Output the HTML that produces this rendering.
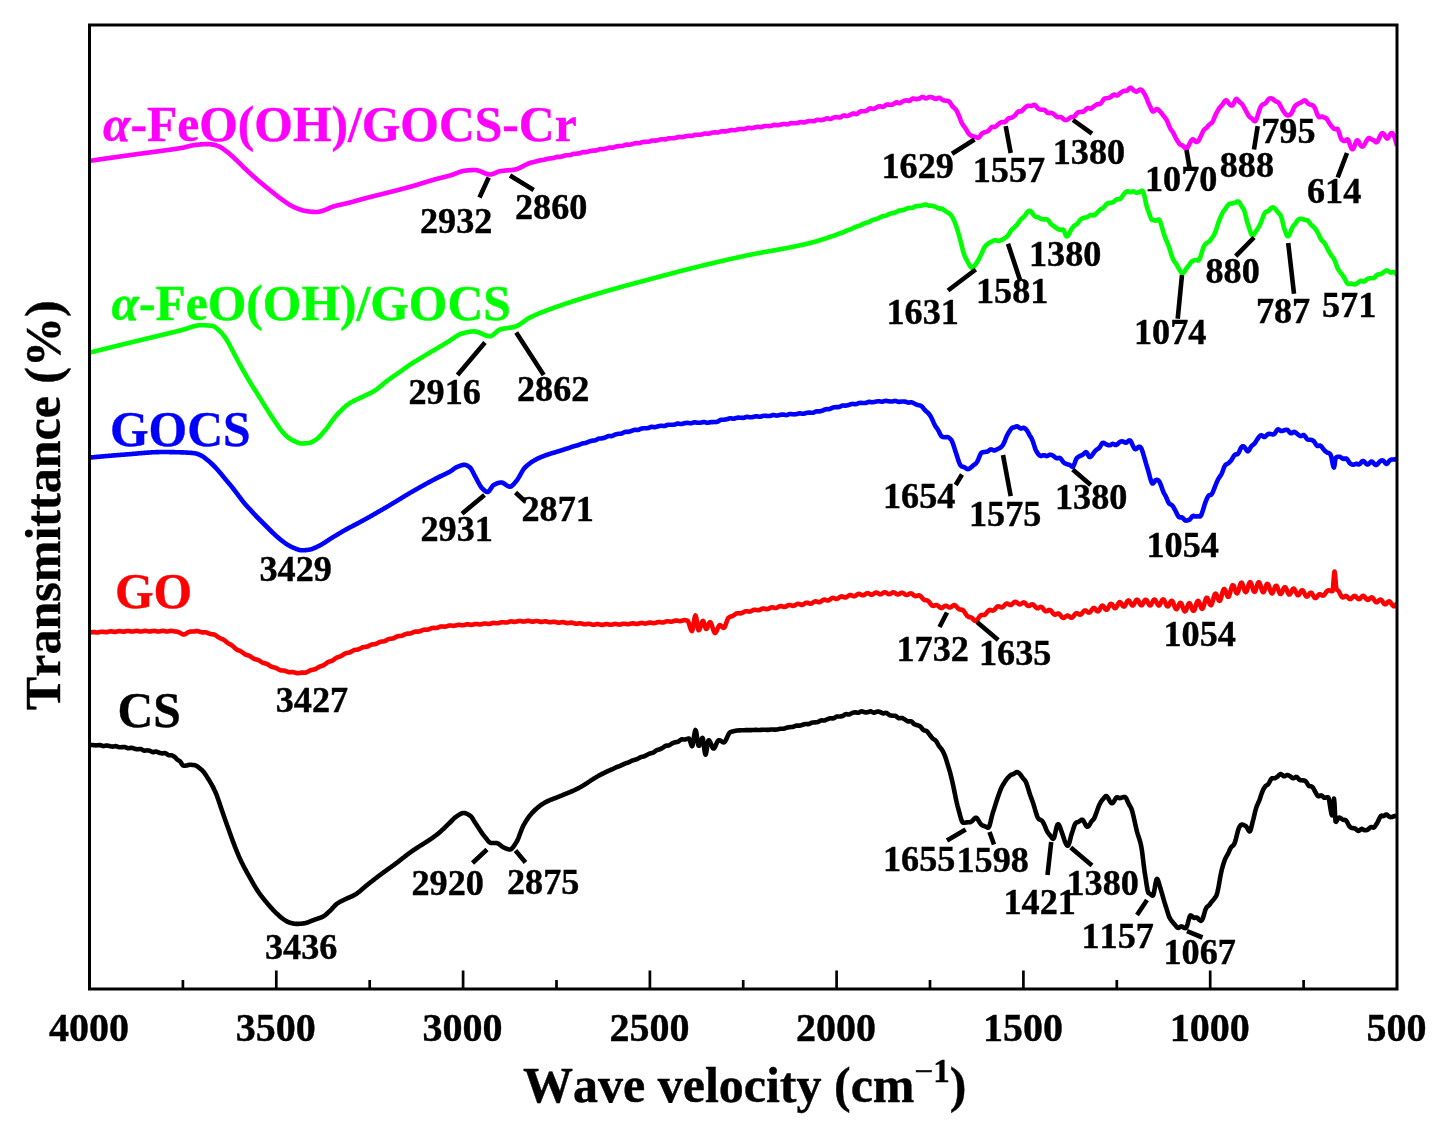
<!DOCTYPE html>
<html><head><meta charset="utf-8"><title>FTIR spectra</title>
<style>html,body{margin:0;padding:0;background:#fff}svg{display:block}text{font-family:"Liberation Serif","Times New Roman",serif;font-weight:bold;stroke-width:0.4px;font-kerning:none}</style></head><body>
<svg width="1449" height="1137" viewBox="0 0 1449 1137">
<rect width="1449" height="1137" fill="#fff"/>
<clipPath id="cp"><rect x="89.5" y="25.0" width="1307.5" height="964.0"/></clipPath><g clip-path="url(#cp)">
<path d="M89.5 160.9L90.0 160.8L90.5 160.8L91.0 160.7L91.5 160.6L92.0 160.5L92.5 160.5L93.0 160.4L93.5 160.3L94.0 160.2L94.5 160.2L95.0 160.1L95.5 160.0L96.0 159.9L96.5 159.9L97.0 159.8L97.5 159.7L98.0 159.7L98.5 159.6L99.0 159.5L99.5 159.4L100.0 159.4L100.5 159.3L101.0 159.2L101.5 159.2L102.0 159.1L102.5 159.0L103.0 158.9L103.5 158.9L104.0 158.8L104.5 158.7L105.0 158.6L105.5 158.6L106.0 158.5L106.5 158.4L107.0 158.4L107.5 158.3L108.0 158.2L108.5 158.1L109.0 158.1L109.5 158.0L110.0 157.9L110.5 157.9L111.0 157.8L111.5 157.7L112.0 157.6L112.5 157.6L113.0 157.5L113.5 157.4L114.0 157.4L114.5 157.3L115.0 157.2L115.5 157.1L116.0 157.1L116.5 157.0L117.0 156.9L117.5 156.9L118.0 156.8L118.5 156.7L119.0 156.7L119.5 156.6L120.0 156.5L120.5 156.4L121.0 156.4L121.5 156.3L122.0 156.2L122.5 156.2L123.0 156.1L123.5 156.0L124.0 155.9L124.5 155.9L125.0 155.8L125.5 155.7L126.0 155.7L126.5 155.6L127.0 155.5L127.5 155.5L128.0 155.4L128.5 155.3L129.0 155.2L129.5 155.2L130.0 155.1L130.5 155.0L131.0 155.0L131.5 154.9L132.0 154.8L132.5 154.8L133.0 154.7L133.5 154.6L134.0 154.6L134.5 154.5L135.0 154.4L135.5 154.3L136.0 154.3L136.5 154.2L137.0 154.1L137.5 154.1L138.0 154.0L138.5 153.9L139.0 153.9L139.5 153.8L140.0 153.7L140.5 153.7L141.0 153.6L141.5 153.5L142.0 153.5L142.5 153.4L143.0 153.3L143.5 153.3L144.0 153.2L144.5 153.1L145.0 153.1L145.5 153.0L146.0 152.9L146.5 152.9L147.0 152.8L147.5 152.7L148.0 152.7L148.5 152.6L149.0 152.5L149.5 152.5L150.0 152.4L150.5 152.3L151.0 152.3L151.5 152.2L152.0 152.1L152.5 152.1L153.0 152.0L153.5 151.9L154.0 151.9L154.5 151.8L155.0 151.7L155.5 151.7L156.0 151.6L156.5 151.5L157.0 151.5L157.5 151.4L158.0 151.4L158.5 151.3L159.0 151.2L159.5 151.2L160.0 151.1L160.5 151.0L161.0 151.0L161.5 150.9L162.0 150.8L162.5 150.7L163.0 150.7L163.5 150.6L164.0 150.5L164.5 150.5L165.0 150.4L165.5 150.3L166.0 150.3L166.5 150.2L167.0 150.1L167.5 150.1L168.0 150.0L168.5 149.9L169.0 149.8L169.5 149.8L170.0 149.7L170.5 149.6L171.0 149.6L171.5 149.5L172.0 149.4L172.5 149.3L173.0 149.3L173.5 149.2L174.0 149.1L174.5 149.1L175.0 149.0L175.5 148.9L176.0 148.8L176.5 148.8L177.0 148.7L177.5 148.6L178.0 148.5L178.5 148.5L179.0 148.4L179.5 148.3L180.0 148.2L180.5 148.1L181.0 148.0L181.5 148.0L182.0 147.9L182.5 147.8L183.0 147.7L183.5 147.6L184.0 147.5L184.5 147.4L185.0 147.2L185.5 147.1L186.0 147.0L186.5 146.8L187.0 146.7L187.5 146.6L188.0 146.4L188.5 146.3L189.0 146.2L189.5 146.1L190.0 145.9L190.5 145.8L191.0 145.7L191.5 145.6L192.0 145.5L192.5 145.4L193.0 145.3L193.5 145.2L194.0 145.1L194.5 145.0L195.0 145.0L195.5 144.9L196.0 144.9L196.5 144.8L197.0 144.8L197.5 144.7L198.0 144.7L198.5 144.6L199.0 144.6L199.5 144.5L200.0 144.5L200.5 144.4L201.0 144.4L201.5 144.3L202.0 144.3L202.5 144.3L203.0 144.2L203.5 144.2L204.0 144.2L204.5 144.2L205.0 144.1L205.5 144.1L206.0 144.1L206.5 144.1L207.0 144.1L207.5 144.1L208.0 144.1L208.5 144.1L209.0 144.2L209.5 144.2L210.0 144.2L210.5 144.3L211.0 144.4L211.5 144.4L212.0 144.5L212.5 144.6L213.0 144.6L213.5 144.7L214.0 144.8L214.5 144.9L215.0 145.0L215.5 145.2L216.0 145.3L216.5 145.5L217.0 145.7L217.5 145.9L218.0 146.1L218.5 146.3L219.0 146.5L219.5 146.7L220.0 146.9L220.5 147.2L221.0 147.5L221.5 147.8L222.0 148.1L222.5 148.4L223.0 148.8L223.5 149.1L224.0 149.5L224.5 149.9L225.0 150.2L225.5 150.6L226.0 151.0L226.5 151.4L227.0 151.7L227.5 152.1L228.0 152.5L228.5 153.0L229.0 153.4L229.5 153.8L230.0 154.2L230.5 154.7L231.0 155.1L231.5 155.6L232.0 156.0L232.5 156.5L233.0 156.9L233.5 157.4L234.0 157.8L234.5 158.3L235.0 158.8L235.5 159.3L236.0 159.8L236.5 160.2L237.0 160.7L237.5 161.2L238.0 161.7L238.5 162.2L239.0 162.7L239.5 163.2L240.0 163.7L240.5 164.2L241.0 164.7L241.5 165.2L242.0 165.7L242.5 166.2L243.0 166.7L243.5 167.2L244.0 167.6L244.5 168.1L245.0 168.6L245.5 169.0L246.0 169.5L246.5 170.0L247.0 170.4L247.5 170.9L248.0 171.4L248.5 171.8L249.0 172.3L249.5 172.8L250.0 173.2L250.5 173.7L251.0 174.1L251.5 174.6L252.0 175.1L252.5 175.5L253.0 176.0L253.5 176.4L254.0 176.9L254.5 177.3L255.0 177.7L255.5 178.2L256.0 178.6L256.5 179.1L257.0 179.5L257.5 179.9L258.0 180.4L258.5 180.8L259.0 181.2L259.5 181.6L260.0 182.1L260.5 182.5L261.0 182.9L261.5 183.3L262.0 183.7L262.5 184.1L263.0 184.5L263.5 184.9L264.0 185.3L264.5 185.8L265.0 186.2L265.5 186.6L266.0 187.0L266.5 187.4L267.0 187.8L267.5 188.2L268.0 188.6L268.5 189.0L269.0 189.4L269.5 189.8L270.0 190.2L270.5 190.6L271.0 191.0L271.5 191.4L272.0 191.8L272.5 192.2L273.0 192.6L273.5 193.0L274.0 193.4L274.5 193.8L275.0 194.2L275.5 194.6L276.0 195.0L276.5 195.4L277.0 195.8L277.5 196.2L278.0 196.6L278.5 197.0L279.0 197.4L279.5 197.7L280.0 198.1L280.5 198.5L281.0 198.8L281.5 199.2L282.0 199.5L282.5 199.9L283.0 200.2L283.5 200.6L284.0 201.0L284.5 201.3L285.0 201.7L285.5 202.0L286.0 202.4L286.5 202.7L287.0 203.0L287.5 203.4L288.0 203.7L288.5 204.0L289.0 204.4L289.5 204.7L290.0 205.0L290.5 205.3L291.0 205.6L291.5 205.9L292.0 206.1L292.5 206.4L293.0 206.7L293.5 206.9L294.0 207.1L294.5 207.3L295.0 207.5L295.5 207.8L296.0 208.0L296.5 208.2L297.0 208.4L297.5 208.6L298.0 208.8L298.5 209.0L299.0 209.2L299.5 209.3L300.0 209.5L300.5 209.7L301.0 209.9L301.5 210.0L302.0 210.2L302.5 210.3L303.0 210.5L303.5 210.6L304.0 210.7L304.5 210.8L305.0 210.9L305.5 211.0L306.0 211.1L306.5 211.2L307.0 211.3L307.5 211.3L308.0 211.4L308.5 211.4L309.0 211.5L309.5 211.5L310.0 211.6L310.5 211.7L311.0 211.7L311.5 211.7L312.0 211.8L312.5 211.8L313.0 211.9L313.5 211.9L314.0 211.9L314.5 212.0L315.0 212.0L315.5 212.0L316.0 212.0L316.5 212.0L317.0 212.0L317.5 212.0L318.0 211.9L318.5 211.8L319.0 211.8L319.5 211.7L320.0 211.5L320.5 211.4L321.0 211.3L321.5 211.1L322.0 211.0L322.5 210.8L323.0 210.7L323.5 210.5L324.0 210.3L324.5 210.2L325.0 210.0L325.5 209.8L326.0 209.6L326.5 209.4L327.0 209.2L327.5 209.0L328.0 208.7L328.5 208.5L329.0 208.2L329.5 208.0L330.0 207.7L330.5 207.5L331.0 207.3L331.5 207.1L332.0 206.9L332.5 206.8L333.0 206.6L333.5 206.5L334.0 206.3L334.5 206.2L335.0 206.0L335.5 205.9L336.0 205.8L336.5 205.6L337.0 205.5L337.5 205.4L338.0 205.3L338.5 205.1L339.0 205.0L339.5 204.9L340.0 204.8L340.5 204.7L341.0 204.6L341.5 204.5L342.0 204.4L342.5 204.2L343.0 204.1L343.5 204.0L344.0 203.9L344.5 203.8L345.0 203.7L345.5 203.6L346.0 203.5L346.5 203.4L347.0 203.2L347.5 203.1L348.0 203.0L348.5 202.9L349.0 202.8L349.5 202.6L350.0 202.5L350.5 202.4L351.0 202.2L351.5 202.1L352.0 202.0L352.5 201.8L353.0 201.7L353.5 201.6L354.0 201.4L354.5 201.3L355.0 201.1L355.5 201.0L356.0 200.8L356.5 200.7L357.0 200.6L357.5 200.4L358.0 200.3L358.5 200.1L359.0 200.0L359.5 199.9L360.0 199.7L360.5 199.6L361.0 199.4L361.5 199.3L362.0 199.2L362.5 199.0L363.0 198.9L363.5 198.8L364.0 198.6L364.5 198.5L365.0 198.4L365.5 198.2L366.0 198.1L366.5 198.0L367.0 197.8L367.5 197.7L368.0 197.6L368.5 197.5L369.0 197.3L369.5 197.2L370.0 197.1L370.5 196.9L371.0 196.8L371.5 196.7L372.0 196.6L372.5 196.4L373.0 196.3L373.5 196.2L374.0 196.1L374.5 195.9L375.0 195.8L375.5 195.7L376.0 195.6L376.5 195.4L377.0 195.3L377.5 195.2L378.0 195.1L378.5 194.9L379.0 194.8L379.5 194.7L380.0 194.6L380.5 194.4L381.0 194.3L381.5 194.2L382.0 194.1L382.5 193.9L383.0 193.8L383.5 193.7L384.0 193.6L384.5 193.4L385.0 193.3L385.5 193.2L386.0 193.1L386.5 192.9L387.0 192.8L387.5 192.7L388.0 192.6L388.5 192.4L389.0 192.3L389.5 192.2L390.0 192.1L390.5 191.9L391.0 191.8L391.5 191.7L392.0 191.6L392.5 191.4L393.0 191.3L393.5 191.2L394.0 191.1L394.5 190.9L395.0 190.8L395.5 190.7L396.0 190.5L396.5 190.4L397.0 190.3L397.5 190.2L398.0 190.0L398.5 189.9L399.0 189.8L399.5 189.6L400.0 189.5L400.5 189.4L401.0 189.2L401.5 189.1L402.0 189.0L402.5 188.8L403.0 188.7L403.5 188.6L404.0 188.4L404.5 188.3L405.0 188.2L405.5 188.1L406.0 187.9L406.5 187.8L407.0 187.6L407.5 187.5L408.0 187.4L408.5 187.2L409.0 187.1L409.5 187.0L410.0 186.8L410.5 186.7L411.0 186.6L411.5 186.4L412.0 186.3L412.5 186.1L413.0 186.0L413.5 185.9L414.0 185.7L414.5 185.6L415.0 185.4L415.5 185.3L416.0 185.1L416.5 185.0L417.0 184.8L417.5 184.7L418.0 184.5L418.5 184.4L419.0 184.2L419.5 184.1L420.0 183.9L420.5 183.7L421.0 183.6L421.5 183.4L422.0 183.3L422.5 183.1L423.0 183.0L423.5 182.8L424.0 182.7L424.5 182.5L425.0 182.3L425.5 182.2L426.0 182.0L426.5 181.9L427.0 181.7L427.5 181.6L428.0 181.4L428.5 181.3L429.0 181.1L429.5 181.0L430.0 180.8L430.5 180.7L431.0 180.5L431.5 180.4L432.0 180.2L432.5 180.1L433.0 179.9L433.5 179.8L434.0 179.6L434.5 179.5L435.0 179.4L435.5 179.2L436.0 179.1L436.5 179.0L437.0 178.8L437.5 178.7L438.0 178.6L438.5 178.4L439.0 178.3L439.5 178.2L440.0 178.1L440.5 177.9L441.0 177.8L441.5 177.7L442.0 177.6L442.5 177.5L443.0 177.3L443.5 177.2L444.0 177.1L444.5 177.0L445.0 176.8L445.5 176.7L446.0 176.6L446.5 176.4L447.0 176.3L447.5 176.2L448.0 176.1L448.5 175.9L449.0 175.8L449.5 175.6L450.0 175.5L450.5 175.4L451.0 175.2L451.5 175.0L452.0 174.9L452.5 174.7L453.0 174.5L453.5 174.3L454.0 174.1L454.5 173.9L455.0 173.7L455.5 173.5L456.0 173.4L456.5 173.2L457.0 173.0L457.5 172.8L458.0 172.6L458.5 172.4L459.0 172.2L459.5 172.0L460.0 171.9L460.5 171.7L461.0 171.6L461.5 171.4L462.0 171.3L462.5 171.1L463.0 171.0L463.5 170.9L464.0 170.8L464.5 170.8L465.0 170.7L465.5 170.6L466.0 170.6L466.5 170.5L467.0 170.5L467.5 170.4L468.0 170.4L468.5 170.3L469.0 170.3L469.5 170.3L470.0 170.2L470.5 170.2L471.0 170.1L471.5 170.1L472.0 170.1L472.5 170.1L473.0 170.0L473.5 170.0L474.0 170.0L474.5 170.0L475.0 170.0L475.5 170.0L476.0 170.1L476.5 170.1L477.0 170.2L477.5 170.3L478.0 170.5L478.5 170.6L479.0 170.8L479.5 171.0L480.0 171.2L480.5 171.4L481.0 171.6L481.5 171.8L482.0 172.0L482.5 172.2L483.0 172.5L483.5 172.7L484.0 172.9L484.5 173.1L485.0 173.3L485.5 173.5L486.0 173.7L486.5 173.9L487.0 174.0L487.5 174.2L488.0 174.3L488.5 174.4L489.0 174.4L489.5 174.5L490.0 174.5L490.5 174.5L491.0 174.4L491.5 174.3L492.0 174.2L492.5 174.1L493.0 173.9L493.5 173.7L494.0 173.5L494.5 173.3L495.0 173.1L495.5 172.8L496.0 172.6L496.5 172.4L497.0 172.2L497.5 172.0L498.0 171.8L498.5 171.6L499.0 171.4L499.5 171.3L500.0 171.2L500.5 171.1L501.0 171.0L501.5 171.0L502.0 170.9L502.5 170.8L503.0 170.8L503.5 170.7L504.0 170.7L504.5 170.6L505.0 170.6L505.5 170.5L506.0 170.5L506.5 170.4L507.0 170.4L507.5 170.4L508.0 170.3L508.5 170.3L509.0 170.2L509.5 170.2L510.0 170.1L510.5 170.1L511.0 170.0L511.5 170.0L512.0 169.9L512.5 169.9L513.0 169.8L513.5 169.7L514.0 169.7L514.5 169.6L515.0 169.5L515.5 169.4L516.0 169.3L516.5 169.1L517.0 169.0L517.5 168.8L518.0 168.6L518.5 168.4L519.0 168.2L519.5 168.0L520.0 167.7L520.5 167.5L521.0 167.2L521.5 167.0L522.0 166.7L522.5 166.5L523.0 166.2L523.5 165.9L524.0 165.7L524.5 165.4L525.0 165.2L525.5 164.9L526.0 164.7L526.5 164.4L527.0 164.2L527.5 164.0L528.0 163.7L528.5 163.5L529.0 163.3L529.5 163.1L530.0 162.9L530.5 162.8L531.0 162.6L531.5 162.5L532.0 162.4L532.5 162.3L533.0 162.2L533.5 162.1L534.0 162.0L534.5 161.8L535.0 161.7L535.5 161.6L536.0 161.4L536.5 161.3L537.0 161.2L537.5 161.0L538.0 160.9L538.5 160.7L539.0 160.6L539.5 160.5L540.0 160.3L540.5 160.2L541.0 160.2L541.5 160.1L542.0 160.1L542.5 160.0L543.0 160.0L543.5 159.9L544.0 159.8L544.5 159.7L545.0 159.5L545.5 159.3L546.0 159.2L546.5 159.0L547.0 158.9L547.5 158.8L548.0 158.7L548.5 158.6L549.0 158.6L549.5 158.5L550.0 158.5L550.5 158.4L551.0 158.4L551.5 158.3L552.0 158.3L552.5 158.2L553.0 158.1L553.5 158.0L554.0 157.9L554.5 157.7L555.0 157.5L555.5 157.3L556.0 157.2L556.5 157.0L557.0 156.9L557.5 156.9L558.0 156.9L558.5 156.9L559.0 156.9L559.5 157.0L560.0 156.9L560.5 156.8L561.0 156.7L561.5 156.6L562.0 156.4L562.5 156.3L563.0 156.1L563.5 155.9L564.0 155.8L564.5 155.7L565.0 155.5L565.5 155.4L566.0 155.3L566.5 155.2L567.0 155.2L567.5 155.2L568.0 155.2L568.5 155.2L569.0 155.2L569.5 155.2L570.0 155.1L570.5 155.0L571.0 154.8L571.5 154.6L572.0 154.3L572.5 154.1L573.0 154.0L573.5 153.9L574.0 153.8L574.5 153.7L575.0 153.7L575.5 153.7L576.0 153.7L576.5 153.7L577.0 153.6L577.5 153.6L578.0 153.5L578.5 153.4L579.0 153.4L579.5 153.3L580.0 153.1L580.5 153.0L581.0 152.8L581.5 152.6L582.0 152.4L582.5 152.2L583.0 152.1L583.5 152.1L584.0 152.1L584.5 152.1L585.0 152.1L585.5 152.2L586.0 152.2L586.5 152.1L587.0 152.0L587.5 151.9L588.0 151.7L588.5 151.6L589.0 151.4L589.5 151.2L590.0 151.1L590.5 151.0L591.0 150.9L591.5 150.8L592.0 150.7L592.5 150.6L593.0 150.6L593.5 150.5L594.0 150.5L594.5 150.6L595.0 150.6L595.5 150.6L596.0 150.5L596.5 150.4L597.0 150.2L597.5 150.1L598.0 149.8L598.5 149.6L599.0 149.4L599.5 149.3L600.0 149.2L600.5 149.1L601.0 149.1L601.5 149.2L602.0 149.2L602.5 149.2L603.0 149.1L603.5 149.1L604.0 149.0L604.5 148.9L605.0 148.8L605.5 148.7L606.0 148.6L606.5 148.5L607.0 148.3L607.5 148.1L608.0 147.9L608.5 147.8L609.0 147.6L609.5 147.6L610.0 147.5L610.5 147.5L611.0 147.6L611.5 147.6L612.0 147.7L612.5 147.7L613.0 147.6L613.5 147.5L614.0 147.3L614.5 147.1L615.0 146.9L615.5 146.7L616.0 146.6L616.5 146.4L617.0 146.3L617.5 146.3L618.0 146.2L618.5 146.1L619.0 146.1L619.5 146.1L620.0 146.0L620.5 146.0L621.0 146.0L621.5 146.0L622.0 146.0L622.5 145.9L623.0 145.8L623.5 145.6L624.0 145.4L624.5 145.2L625.0 145.0L625.5 144.8L626.0 144.7L626.5 144.6L627.0 144.6L627.5 144.6L628.0 144.7L628.5 144.7L629.0 144.7L629.5 144.7L630.0 144.6L630.5 144.5L631.0 144.4L631.5 144.3L632.0 144.1L632.5 144.0L633.0 143.9L633.5 143.7L634.0 143.6L634.5 143.4L635.0 143.3L635.5 143.2L636.0 143.1L636.5 143.1L637.0 143.1L637.5 143.2L638.0 143.2L638.5 143.3L639.0 143.2L639.5 143.2L640.0 143.0L640.5 142.8L641.0 142.6L641.5 142.4L642.0 142.2L642.5 142.1L643.0 142.0L643.5 141.9L644.0 141.9L644.5 141.9L645.0 141.9L645.5 141.8L646.0 141.8L646.5 141.8L647.0 141.8L647.5 141.8L648.0 141.8L648.5 141.7L649.0 141.6L649.5 141.5L650.0 141.3L650.5 141.1L651.0 140.9L651.5 140.7L652.0 140.6L652.5 140.5L653.0 140.5L653.5 140.5L654.0 140.5L654.5 140.6L655.0 140.6L655.5 140.7L656.0 140.6L656.5 140.5L657.0 140.4L657.5 140.3L658.0 140.1L658.5 140.0L659.0 139.9L659.5 139.7L660.0 139.6L660.5 139.5L661.0 139.4L661.5 139.3L662.0 139.2L662.5 139.2L663.0 139.2L663.5 139.3L664.0 139.3L664.5 139.4L665.0 139.4L665.5 139.4L666.0 139.3L666.5 139.1L667.0 138.9L667.5 138.7L668.0 138.5L668.5 138.3L669.0 138.2L669.5 138.2L670.0 138.2L670.5 138.2L671.0 138.2L671.5 138.2L672.0 138.2L672.5 138.2L673.0 138.2L673.5 138.1L674.0 138.1L674.5 138.1L675.0 138.0L675.5 137.9L676.0 137.7L676.5 137.6L677.0 137.4L677.5 137.2L678.0 137.0L678.5 136.9L679.0 136.9L679.5 136.9L680.0 137.0L680.5 137.0L681.0 137.1L681.5 137.2L682.0 137.2L682.5 137.1L683.0 137.0L683.5 136.8L684.0 136.7L684.5 136.5L685.0 136.4L685.5 136.3L686.0 136.2L686.5 136.1L687.0 136.0L687.5 135.9L688.0 135.8L688.5 135.8L689.0 135.8L689.5 135.8L690.0 135.9L690.5 135.9L691.0 136.0L691.5 136.0L692.0 135.9L692.5 135.8L693.0 135.6L693.5 135.4L694.0 135.2L694.5 135.0L695.0 134.8L695.5 134.7L696.0 134.7L696.5 134.7L697.0 134.8L697.5 134.8L698.0 134.8L698.5 134.8L699.0 134.8L699.5 134.8L700.0 134.7L700.5 134.7L701.0 134.6L701.5 134.5L702.0 134.4L702.5 134.2L703.0 134.0L703.5 133.9L704.0 133.7L704.5 133.6L705.0 133.5L705.5 133.5L706.0 133.5L706.5 133.6L707.0 133.7L707.5 133.7L708.0 133.8L708.5 133.7L709.0 133.6L709.5 133.5L710.0 133.3L710.5 133.1L711.0 133.0L711.5 132.8L712.0 132.7L712.5 132.6L713.0 132.5L713.5 132.5L714.0 132.4L714.5 132.4L715.0 132.4L715.5 132.4L716.0 132.4L716.5 132.5L717.0 132.5L717.5 132.5L718.0 132.5L718.5 132.4L719.0 132.2L719.5 132.0L720.0 131.8L720.5 131.6L721.0 131.4L721.5 131.3L722.0 131.2L722.5 131.2L723.0 131.3L723.5 131.3L724.0 131.4L724.5 131.4L725.0 131.4L725.5 131.4L726.0 131.3L726.5 131.2L727.0 131.1L727.5 131.0L728.0 130.9L728.5 130.8L729.0 130.6L729.5 130.5L730.0 130.3L730.5 130.2L731.0 130.1L731.5 130.0L732.0 130.0L732.5 130.1L733.0 130.2L733.5 130.2L734.0 130.3L734.5 130.3L735.0 130.3L735.5 130.1L736.0 130.0L736.5 129.8L737.0 129.6L737.5 129.4L738.0 129.3L738.5 129.2L739.0 129.1L739.5 129.1L740.0 129.0L740.5 129.0L741.0 129.0L741.5 129.0L742.0 129.0L742.5 129.1L743.0 129.1L743.5 129.1L744.0 129.1L744.5 129.0L745.0 128.9L745.5 128.7L746.0 128.5L746.5 128.3L747.0 128.1L747.5 127.9L748.0 127.8L748.5 127.8L749.0 127.9L749.5 127.9L750.0 128.0L750.5 128.1L751.0 128.1L751.5 128.1L752.0 128.1L752.5 128.0L753.0 127.9L753.5 127.7L754.0 127.6L754.5 127.5L755.0 127.4L755.5 127.2L756.0 127.1L756.5 127.0L757.0 126.9L757.5 126.8L758.0 126.8L758.5 126.8L759.0 126.9L759.5 127.0L760.0 127.1L760.5 127.1L761.0 127.1L761.5 127.1L762.0 126.9L762.5 126.7L763.0 126.5L763.5 126.3L764.0 126.2L764.5 126.0L765.0 126.0L765.5 126.0L766.0 126.0L766.5 126.0L767.0 126.0L767.5 126.0L768.0 126.0L768.5 126.1L769.0 126.1L769.5 126.1L770.0 126.0L770.5 126.0L771.0 125.9L771.5 125.8L772.0 125.6L772.5 125.4L773.0 125.2L773.5 125.1L774.0 124.9L774.5 124.9L775.0 124.9L775.5 125.0L776.0 125.1L776.5 125.2L777.0 125.3L777.5 125.3L778.0 125.3L778.5 125.2L779.0 125.1L779.5 124.9L780.0 124.8L780.5 124.6L781.0 124.5L781.5 124.4L782.0 124.3L782.5 124.2L783.0 124.1L783.5 124.1L784.0 124.0L784.5 124.0L785.0 124.1L785.5 124.2L786.0 124.3L786.5 124.3L787.0 124.4L787.5 124.3L788.0 124.2L788.5 124.0L789.0 123.8L789.5 123.6L790.0 123.4L790.5 123.2L791.0 123.2L791.5 123.1L792.0 123.1L792.5 123.2L793.0 123.2L793.5 123.3L794.0 123.3L794.5 123.3L795.0 123.3L795.5 123.3L796.0 123.2L796.5 123.2L797.0 123.1L797.5 123.0L798.0 122.8L798.5 122.7L799.0 122.5L799.5 122.3L800.0 122.1L800.5 122.0L801.0 122.0L801.5 122.0L802.0 122.1L802.5 122.3L803.0 122.4L803.5 122.4L804.0 122.4L804.5 122.4L805.0 122.2L805.5 122.1L806.0 121.9L806.5 121.7L807.0 121.5L807.5 121.4L808.0 121.3L808.5 121.2L809.0 121.1L809.5 121.0L810.0 121.0L810.5 121.0L811.0 121.0L811.5 121.1L812.0 121.2L812.5 121.2L813.0 121.3L813.5 121.3L814.0 121.2L814.5 121.0L815.0 120.8L815.5 120.5L816.0 120.2L816.5 120.0L817.0 119.8L817.5 119.7L818.0 119.7L818.5 119.8L819.0 119.9L819.5 120.0L820.0 120.1L820.5 120.1L821.0 120.1L821.5 120.1L822.0 120.0L822.5 119.9L823.0 119.8L823.5 119.6L824.0 119.5L824.5 119.3L825.0 119.0L825.5 118.8L826.0 118.6L826.5 118.4L827.0 118.4L827.5 118.4L828.0 118.5L828.5 118.6L829.0 118.8L829.5 119.0L830.0 119.0L830.5 119.0L831.0 118.9L831.5 118.6L832.0 118.4L832.5 118.1L833.0 117.8L833.5 117.6L834.0 117.4L834.5 117.3L835.0 117.3L835.5 117.2L836.0 117.2L836.5 117.2L837.0 117.2L837.5 117.3L838.0 117.3L838.5 117.4L839.0 117.5L839.5 117.5L840.0 117.4L840.5 117.3L841.0 117.0L841.5 116.7L842.0 116.3L842.5 115.9L843.0 115.6L843.5 115.5L844.0 115.4L844.5 115.5L845.0 115.6L845.5 115.8L846.0 115.9L846.5 116.0L847.0 116.0L847.5 115.9L848.0 115.8L848.5 115.6L849.0 115.4L849.5 115.2L850.0 115.0L850.5 114.8L851.0 114.5L851.5 114.2L852.0 114.0L852.5 113.7L853.0 113.5L853.5 113.5L854.0 113.5L854.5 113.6L855.0 113.8L855.5 114.0L856.0 114.1L856.5 114.1L857.0 113.9L857.5 113.6L858.0 113.2L858.5 112.8L859.0 112.3L859.5 111.9L860.0 111.6L860.5 111.4L861.0 111.3L861.5 111.3L862.0 111.2L862.5 111.2L863.0 111.2L863.5 111.2L864.0 111.2L864.5 111.2L865.0 111.2L865.5 111.1L866.0 111.0L866.5 110.9L867.0 110.6L867.5 110.2L868.0 109.7L868.5 109.3L869.0 108.8L869.5 108.5L870.0 108.4L870.5 108.3L871.0 108.4L871.5 108.6L872.0 108.8L872.5 108.9L873.0 109.0L873.5 108.9L874.0 108.8L874.5 108.6L875.0 108.3L875.5 108.0L876.0 107.7L876.5 107.4L877.0 107.2L877.5 106.9L878.0 106.7L878.5 106.5L879.0 106.3L879.5 106.2L880.0 106.2L880.5 106.3L881.0 106.5L881.5 106.7L882.0 106.9L882.5 106.9L883.0 106.9L883.5 106.7L884.0 106.4L884.5 106.0L885.0 105.6L885.5 105.1L886.0 104.8L886.5 104.6L887.0 104.5L887.5 104.5L888.0 104.6L888.5 104.6L889.0 104.7L889.5 104.8L890.0 104.8L890.5 104.8L891.0 104.8L891.5 104.8L892.0 104.7L892.5 104.6L893.0 104.4L893.5 104.1L894.0 103.8L894.5 103.4L895.0 103.0L895.5 102.7L896.0 102.4L896.5 102.4L897.0 102.4L897.5 102.6L898.0 102.8L898.5 103.1L899.0 103.2L899.5 103.3L900.0 103.2L900.5 102.9L901.0 102.6L901.5 102.3L902.0 101.9L902.5 101.6L903.0 101.3L903.5 101.1L904.0 100.9L904.5 100.7L905.0 100.6L905.5 100.5L906.0 100.4L906.5 100.4L907.0 100.5L907.5 100.6L908.0 100.8L908.5 100.9L909.0 100.9L909.5 100.8L910.0 100.6L910.5 100.2L911.0 99.8L911.5 99.3L912.0 98.9L912.5 98.6L913.0 98.5L913.5 98.5L914.0 98.6L914.5 98.7L915.0 98.9L915.5 99.0L916.0 99.1L916.5 99.1L917.0 99.1L917.5 99.0L918.0 98.9L918.5 98.8L919.0 98.7L919.5 98.5L920.0 98.2L920.5 97.9L921.0 97.6L921.5 97.3L922.0 97.0L922.5 96.9L923.0 97.0L923.5 97.2L924.0 97.5L924.5 97.8L925.0 98.1L925.5 98.3L926.0 98.4L926.5 98.3L927.0 98.1L927.5 97.9L928.0 97.6L928.5 97.4L929.0 97.2L929.5 97.1L930.0 97.0L930.5 97.1L931.0 97.1L931.5 97.2L932.0 97.4L932.5 97.5L933.0 97.7L933.5 98.0L934.0 98.3L934.5 98.6L935.0 98.8L935.5 98.9L936.0 98.9L936.5 98.8L937.0 98.6L937.5 98.3L938.0 98.0L938.5 97.8L939.0 97.8L939.5 97.8L940.0 98.1L940.5 98.4L941.0 98.8L941.5 99.2L942.0 99.6L942.5 99.9L943.0 100.1L943.5 100.3L944.0 100.4L944.5 100.5L945.0 100.6L945.5 100.7L946.0 100.7L946.5 100.8L947.0 100.8L947.5 100.9L948.0 101.0L948.5 101.2L949.0 101.5L949.5 101.9L950.0 102.5L950.5 103.3L951.0 104.1L951.5 104.9L952.0 105.7L952.5 106.4L953.0 106.9L953.5 107.4L954.0 107.8L954.5 108.2L955.0 108.6L955.5 109.2L956.0 109.8L956.5 110.6L957.0 111.5L957.5 112.6L958.0 113.7L958.5 114.8L959.0 116.0L959.5 117.2L960.0 118.5L960.5 119.8L961.0 121.0L961.5 122.2L962.0 123.3L962.5 124.3L963.0 125.1L963.5 125.8L964.0 126.4L964.5 127.0L965.0 127.6L965.5 128.3L966.0 129.2L966.5 130.0L967.0 130.9L967.5 131.8L968.0 132.6L968.5 133.3L969.0 133.9L969.5 134.5L970.0 134.9L970.5 135.2L971.0 135.5L971.5 135.8L972.0 136.0L972.5 136.2L973.0 136.4L973.5 136.5L974.0 136.6L974.5 136.6L975.0 136.8L975.5 136.9L976.0 137.1L976.5 137.3L977.0 137.5L977.5 137.7L978.0 137.7L978.5 137.6L979.0 137.3L979.5 136.7L980.0 136.1L980.5 135.4L981.0 134.7L981.5 134.0L982.0 133.5L982.5 133.1L983.0 132.8L983.5 132.6L984.0 132.5L984.5 132.4L985.0 132.2L985.5 132.1L986.0 131.9L986.5 131.8L987.0 131.6L987.5 131.3L988.0 131.0L988.5 130.7L989.0 130.2L989.5 129.6L990.0 129.0L990.5 128.4L991.0 127.8L991.5 127.3L992.0 127.0L992.5 126.9L993.0 126.8L993.5 126.9L994.0 127.0L994.5 127.0L995.0 126.9L995.5 126.6L996.0 126.3L996.5 125.9L997.0 125.4L997.5 124.9L998.0 124.4L998.5 124.0L999.0 123.6L999.5 123.2L1000.0 122.9L1000.5 122.6L1001.0 122.4L1001.5 122.2L1002.0 122.1L1002.5 122.1L1003.0 122.1L1003.5 122.2L1004.0 122.2L1004.5 122.2L1005.0 122.0L1005.5 121.6L1006.0 121.1L1006.5 120.5L1007.0 119.9L1007.5 119.3L1008.0 118.8L1008.5 118.4L1009.0 118.2L1009.5 118.1L1010.0 118.0L1010.5 117.9L1011.0 117.8L1011.5 117.7L1012.0 117.5L1012.5 117.2L1013.0 116.9L1013.5 116.6L1014.0 116.2L1014.5 115.8L1015.0 115.3L1015.5 114.7L1016.0 114.1L1016.5 113.4L1017.0 112.8L1017.5 112.2L1018.0 111.8L1018.5 111.5L1019.0 111.3L1019.5 111.3L1020.0 111.3L1020.5 111.4L1021.0 111.3L1021.5 111.2L1022.0 110.9L1022.5 110.4L1023.0 109.9L1023.5 109.3L1024.0 108.7L1024.5 108.1L1025.0 107.6L1025.5 107.2L1026.0 106.8L1026.5 106.5L1027.0 106.2L1027.5 106.0L1028.0 105.8L1028.5 105.7L1029.0 105.7L1029.5 105.8L1030.0 105.9L1030.5 106.0L1031.0 106.0L1031.5 105.9L1032.0 105.7L1032.5 105.4L1033.0 105.1L1033.5 104.9L1034.0 104.8L1034.5 104.8L1035.0 105.1L1035.5 105.5L1036.0 106.0L1036.5 106.6L1037.0 107.3L1037.5 107.9L1038.0 108.4L1038.5 108.8L1039.0 109.1L1039.5 109.3L1040.0 109.4L1040.5 109.6L1041.0 109.7L1041.5 109.7L1042.0 109.8L1042.5 109.7L1043.0 109.7L1043.5 109.7L1044.0 109.8L1044.5 109.9L1045.0 110.3L1045.5 110.7L1046.0 111.3L1046.5 111.9L1047.0 112.4L1047.5 112.8L1048.0 113.1L1048.5 113.2L1049.0 113.2L1049.5 113.1L1050.0 112.9L1050.5 112.8L1051.0 112.8L1051.5 112.9L1052.0 113.1L1052.5 113.3L1053.0 113.6L1053.5 113.9L1054.0 114.3L1054.5 114.7L1055.0 115.1L1055.5 115.5L1056.0 116.0L1056.5 116.5L1057.0 116.9L1057.5 117.1L1058.0 117.3L1058.5 117.3L1059.0 117.3L1059.5 117.1L1060.0 117.0L1060.5 117.0L1061.0 117.1L1061.5 117.3L1062.0 117.7L1062.5 118.2L1063.0 118.7L1063.5 119.2L1064.0 119.6L1064.5 119.9L1065.0 120.0L1065.5 120.1L1066.0 120.0L1066.5 119.9L1067.0 119.8L1067.5 119.6L1068.0 119.3L1068.5 119.0L1069.0 118.6L1069.5 118.2L1070.0 117.8L1070.5 117.5L1071.0 117.2L1071.5 117.1L1072.0 117.0L1072.5 117.0L1073.0 117.0L1073.5 116.9L1074.0 116.7L1074.5 116.3L1075.0 115.8L1075.5 115.1L1076.0 114.4L1076.5 113.8L1077.0 113.2L1077.5 112.8L1078.0 112.4L1078.5 112.3L1079.0 112.1L1079.5 112.1L1080.0 112.0L1080.5 112.0L1081.0 111.9L1081.5 111.9L1082.0 111.8L1082.5 111.8L1083.0 111.7L1083.5 111.5L1084.0 111.3L1084.5 110.9L1085.0 110.4L1085.5 109.9L1086.0 109.3L1086.5 108.8L1087.0 108.4L1087.5 108.1L1088.0 108.0L1088.5 108.1L1089.0 108.2L1089.5 108.4L1090.0 108.6L1090.5 108.6L1091.0 108.5L1091.5 108.3L1092.0 107.9L1092.5 107.5L1093.0 107.1L1093.5 106.7L1094.0 106.3L1094.5 105.9L1095.0 105.6L1095.5 105.2L1096.0 104.9L1096.5 104.6L1097.0 104.3L1097.5 104.2L1098.0 104.1L1098.5 104.1L1099.0 104.1L1099.5 104.0L1100.0 103.9L1100.5 103.6L1101.0 103.1L1101.5 102.5L1102.0 101.8L1102.5 101.0L1103.0 100.2L1103.5 99.5L1104.0 99.0L1104.5 98.6L1105.0 98.4L1105.5 98.3L1106.0 98.2L1106.5 98.2L1107.0 98.2L1107.5 98.1L1108.0 98.0L1108.5 97.9L1109.0 97.8L1109.5 97.6L1110.0 97.4L1110.5 97.1L1111.0 96.8L1111.5 96.3L1112.0 95.9L1112.5 95.4L1113.0 95.0L1113.5 94.7L1114.0 94.6L1114.5 94.6L1115.0 94.8L1115.5 95.0L1116.0 95.3L1116.5 95.4L1117.0 95.5L1117.5 95.3L1118.0 95.1L1118.5 94.7L1119.0 94.2L1119.5 93.8L1120.0 93.3L1120.5 92.9L1121.0 92.5L1121.5 92.2L1122.0 91.9L1122.5 91.6L1123.0 91.3L1123.5 91.1L1124.0 91.0L1124.5 90.9L1125.0 90.9L1125.5 90.9L1126.0 90.9L1126.5 90.8L1127.0 90.6L1127.5 90.2L1128.0 89.8L1128.5 89.2L1129.0 88.6L1129.5 88.2L1130.0 87.9L1130.5 87.7L1131.0 87.8L1131.5 88.1L1132.0 88.6L1132.5 89.1L1133.0 89.6L1133.5 90.1L1134.0 90.6L1134.5 90.9L1135.0 91.2L1135.5 91.4L1136.0 91.6L1136.5 91.6L1137.0 91.5L1137.5 91.3L1138.0 90.9L1138.5 90.5L1139.0 90.1L1139.5 89.8L1140.0 89.6L1140.5 89.6L1141.0 89.7L1141.5 90.0L1142.0 90.4L1142.5 90.9L1143.0 91.6L1143.5 92.4L1144.0 93.2L1144.5 94.0L1145.0 94.9L1145.5 95.8L1146.0 96.8L1146.5 98.0L1147.0 99.2L1147.5 100.5L1148.0 101.8L1148.5 103.0L1149.0 104.2L1149.5 105.2L1150.0 106.2L1150.5 107.3L1151.0 108.5L1151.5 109.6L1152.0 110.6L1152.5 111.2L1153.0 111.5L1153.5 111.4L1154.0 111.2L1154.5 110.8L1155.0 110.3L1155.5 109.8L1156.0 109.4L1156.5 109.1L1157.0 109.1L1157.5 109.2L1158.0 109.5L1158.5 109.9L1159.0 110.4L1159.5 111.0L1160.0 111.5L1160.5 112.1L1161.0 112.7L1161.5 113.2L1162.0 113.8L1162.5 114.4L1163.0 115.1L1163.5 115.7L1164.0 116.4L1164.5 117.0L1165.0 117.6L1165.5 118.3L1166.0 119.1L1166.5 119.9L1167.0 120.8L1167.5 121.9L1168.0 123.1L1168.5 124.4L1169.0 125.7L1169.5 126.9L1170.0 128.0L1170.5 128.9L1171.0 129.7L1171.5 130.3L1172.0 131.0L1172.5 131.7L1173.0 132.5L1173.5 133.4L1174.0 134.4L1174.5 135.4L1175.0 136.5L1175.5 137.5L1176.0 138.4L1176.5 139.3L1177.0 140.2L1177.5 141.0L1178.0 141.8L1178.5 142.6L1179.0 143.3L1179.5 144.0L1180.0 144.4L1180.5 144.8L1181.0 145.0L1181.5 145.2L1182.0 145.3L1182.5 145.5L1183.0 145.8L1183.5 146.3L1184.0 146.8L1184.5 147.4L1185.0 147.9L1185.5 148.4L1186.0 148.6L1186.5 148.5L1187.0 148.1L1187.5 147.5L1188.0 146.7L1188.5 145.7L1189.0 144.7L1189.5 143.7L1190.0 142.8L1190.5 141.8L1191.0 141.0L1191.5 140.2L1192.0 139.7L1192.5 139.3L1193.0 139.3L1193.5 139.6L1194.0 140.0L1194.5 140.5L1195.0 141.0L1195.5 141.5L1196.0 141.8L1196.5 142.0L1197.0 141.9L1197.5 141.6L1198.0 141.3L1198.5 140.7L1199.0 139.9L1199.5 138.9L1200.0 137.9L1200.5 136.8L1201.0 135.8L1201.5 134.7L1202.0 133.6L1202.5 132.5L1203.0 131.4L1203.5 130.5L1204.0 129.8L1204.5 129.3L1205.0 129.0L1205.5 128.6L1206.0 128.2L1206.5 127.8L1207.0 127.3L1207.5 126.7L1208.0 126.0L1208.5 125.4L1209.0 124.9L1209.5 124.5L1210.0 124.1L1210.5 123.8L1211.0 123.5L1211.5 123.1L1212.0 122.6L1212.5 121.9L1213.0 121.0L1213.5 119.9L1214.0 118.7L1214.5 117.5L1215.0 116.2L1215.5 115.0L1216.0 113.9L1216.5 112.9L1217.0 112.0L1217.5 111.1L1218.0 110.3L1218.5 109.4L1219.0 108.6L1219.5 107.9L1220.0 107.3L1220.5 106.7L1221.0 106.2L1221.5 105.7L1222.0 105.2L1222.5 104.6L1223.0 103.8L1223.5 103.0L1224.0 102.2L1224.5 101.4L1225.0 100.8L1225.5 100.4L1226.0 100.3L1226.5 100.4L1227.0 100.9L1227.5 101.5L1228.0 102.2L1228.5 102.9L1229.0 103.5L1229.5 104.1L1230.0 104.7L1230.5 105.1L1231.0 105.4L1231.5 105.5L1232.0 105.6L1232.5 105.3L1233.0 104.6L1233.5 103.8L1234.0 102.7L1234.5 101.6L1235.0 100.5L1235.5 99.7L1236.0 99.1L1236.5 98.9L1237.0 99.1L1237.5 99.6L1238.0 100.2L1238.5 100.9L1239.0 101.4L1239.5 101.9L1240.0 102.4L1240.5 102.8L1241.0 103.1L1241.5 103.6L1242.0 104.1L1242.5 104.8L1243.0 105.6L1243.5 106.4L1244.0 107.3L1244.5 108.2L1245.0 109.1L1245.5 110.0L1246.0 110.9L1246.5 111.9L1247.0 112.8L1247.5 113.7L1248.0 114.7L1248.5 115.5L1249.0 116.3L1249.5 116.9L1250.0 117.3L1250.5 117.7L1251.0 117.9L1251.5 118.3L1252.0 118.6L1252.5 119.1L1253.0 119.7L1253.5 120.3L1254.0 120.8L1254.5 121.2L1255.0 121.3L1255.5 120.9L1256.0 120.2L1256.5 119.1L1257.0 117.7L1257.5 116.2L1258.0 114.5L1258.5 112.9L1259.0 111.3L1259.5 109.8L1260.0 108.4L1260.5 107.2L1261.0 106.4L1261.5 105.6L1262.0 105.0L1262.5 104.6L1263.0 104.3L1263.5 104.1L1264.0 104.0L1264.5 103.9L1265.0 103.6L1265.5 103.2L1266.0 102.7L1266.5 102.0L1267.0 101.2L1267.5 100.5L1268.0 99.8L1268.5 99.2L1269.0 98.8L1269.5 98.5L1270.0 98.4L1270.5 98.3L1271.0 98.3L1271.5 98.4L1272.0 98.6L1272.5 98.8L1273.0 99.1L1273.5 99.5L1274.0 100.0L1274.5 100.5L1275.0 100.9L1275.5 101.2L1276.0 101.5L1276.5 101.6L1277.0 101.8L1277.5 101.9L1278.0 102.2L1278.5 102.6L1279.0 103.3L1279.5 104.0L1280.0 104.9L1280.5 105.9L1281.0 106.8L1281.5 107.8L1282.0 108.7L1282.5 109.6L1283.0 110.4L1283.5 111.2L1284.0 112.0L1284.5 112.7L1285.0 113.4L1285.5 114.0L1286.0 114.5L1286.5 114.9L1287.0 115.2L1287.5 115.3L1288.0 115.4L1288.5 115.3L1289.0 115.2L1289.5 115.0L1290.0 114.8L1290.5 114.4L1291.0 113.9L1291.5 113.2L1292.0 112.3L1292.5 111.3L1293.0 110.1L1293.5 108.9L1294.0 107.8L1294.5 107.0L1295.0 106.2L1295.5 105.7L1296.0 105.2L1296.5 104.8L1297.0 104.5L1297.5 104.2L1298.0 103.9L1298.5 103.7L1299.0 103.4L1299.5 103.1L1300.0 102.9L1300.5 102.7L1301.0 102.5L1301.5 102.2L1302.0 101.9L1302.5 101.5L1303.0 101.2L1303.5 100.8L1304.0 100.5L1304.5 100.4L1305.0 100.4L1305.5 100.7L1306.0 101.1L1306.5 101.7L1307.0 102.4L1307.5 103.0L1308.0 103.5L1308.5 103.9L1309.0 104.2L1309.5 104.4L1310.0 104.5L1310.5 104.6L1311.0 104.7L1311.5 104.9L1312.0 105.1L1312.5 105.4L1313.0 105.6L1313.5 106.0L1314.0 106.6L1314.5 107.4L1315.0 108.4L1315.5 109.5L1316.0 110.8L1316.5 112.2L1317.0 113.6L1317.5 114.8L1318.0 115.8L1318.5 116.6L1319.0 117.1L1319.5 117.3L1320.0 117.2L1320.5 117.0L1321.0 116.7L1321.5 116.6L1322.0 116.6L1322.5 116.7L1323.0 116.9L1323.5 117.2L1324.0 117.5L1324.5 117.7L1325.0 117.9L1325.5 118.0L1326.0 118.1L1326.5 118.5L1327.0 119.2L1327.5 120.0L1328.0 120.8L1328.5 121.7L1329.0 122.6L1329.5 123.4L1330.0 124.1L1330.5 124.9L1331.0 125.5L1331.5 126.2L1332.0 126.7L1332.5 127.2L1333.0 127.8L1333.5 128.3L1334.0 128.7L1334.5 129.0L1335.0 129.1L1335.5 129.1L1336.0 129.0L1336.5 128.9L1337.0 128.8L1337.5 129.0L1338.0 129.8L1338.5 130.9L1339.0 132.4L1339.5 134.0L1340.0 135.6L1340.5 137.1L1341.0 138.4L1341.5 139.4L1342.0 139.9L1342.5 140.2L1343.0 140.5L1343.5 140.8L1344.0 141.0L1344.5 141.0L1345.0 140.8L1345.5 140.6L1346.0 140.2L1346.5 139.7L1347.0 139.3L1347.5 139.3L1348.0 139.7L1348.5 140.6L1349.0 141.9L1349.5 143.3L1350.0 144.9L1350.5 146.3L1351.0 147.5L1351.5 148.5L1352.0 149.1L1352.5 149.3L1353.0 149.1L1353.5 148.3L1354.0 147.2L1354.5 145.9L1355.0 144.4L1355.5 143.0L1356.0 141.7L1356.5 140.8L1357.0 140.3L1357.5 140.3L1358.0 140.7L1358.5 141.4L1359.0 142.3L1359.5 143.3L1360.0 144.3L1360.5 145.2L1361.0 145.9L1361.5 146.4L1362.0 146.6L1362.5 146.6L1363.0 146.3L1363.5 145.9L1364.0 145.2L1364.5 144.4L1365.0 143.6L1365.5 142.7L1366.0 141.7L1366.5 140.8L1367.0 140.0L1367.5 139.2L1368.0 138.6L1368.5 138.2L1369.0 138.0L1369.5 138.1L1370.0 138.4L1370.5 138.8L1371.0 139.1L1371.5 139.4L1372.0 139.6L1372.5 139.8L1373.0 140.0L1373.5 140.2L1374.0 140.5L1374.5 141.0L1375.0 141.4L1375.5 141.9L1376.0 142.2L1376.5 142.3L1377.0 142.0L1377.5 141.4L1378.0 140.6L1378.5 139.6L1379.0 138.4L1379.5 137.3L1380.0 136.2L1380.5 135.2L1381.0 134.3L1381.5 133.7L1382.0 133.3L1382.5 133.2L1383.0 133.3L1383.5 133.7L1384.0 134.2L1384.5 134.9L1385.0 135.8L1385.5 136.7L1386.0 137.5L1386.5 138.2L1387.0 138.5L1387.5 138.5L1388.0 138.1L1388.5 137.4L1389.0 136.5L1389.5 135.5L1390.0 134.6L1390.5 133.8L1391.0 133.3L1391.5 133.0L1392.0 133.0L1392.5 133.3L1393.0 133.9L1393.5 134.8L1394.0 135.9L1394.5 137.2L1395.0 138.7L1395.5 140.3L1396.0 142.1L1396.5 143.9L1397.0 145.8" fill="none" stroke="#ff00ff" stroke-width="4.6" stroke-linejoin="round" stroke-linecap="butt"/>
<path d="M89.5 352.7L90.0 352.6L90.5 352.4L91.0 352.3L91.5 352.2L92.0 352.1L92.5 351.9L93.0 351.8L93.5 351.7L94.0 351.6L94.5 351.4L95.0 351.3L95.5 351.2L96.0 351.1L96.5 350.9L97.0 350.8L97.5 350.7L98.0 350.6L98.5 350.4L99.0 350.3L99.5 350.2L100.0 350.1L100.5 349.9L101.0 349.8L101.5 349.7L102.0 349.6L102.5 349.4L103.0 349.3L103.5 349.2L104.0 349.1L104.5 348.9L105.0 348.8L105.5 348.7L106.0 348.6L106.5 348.5L107.0 348.3L107.5 348.2L108.0 348.1L108.5 348.0L109.0 347.8L109.5 347.7L110.0 347.6L110.5 347.5L111.0 347.3L111.5 347.2L112.0 347.1L112.5 347.0L113.0 346.8L113.5 346.7L114.0 346.6L114.5 346.5L115.0 346.3L115.5 346.2L116.0 346.1L116.5 346.0L117.0 345.8L117.5 345.7L118.0 345.6L118.5 345.5L119.0 345.4L119.5 345.2L120.0 345.1L120.5 345.0L121.0 344.9L121.5 344.7L122.0 344.6L122.5 344.5L123.0 344.4L123.5 344.2L124.0 344.1L124.5 344.0L125.0 343.9L125.5 343.8L126.0 343.6L126.5 343.5L127.0 343.4L127.5 343.3L128.0 343.1L128.5 343.0L129.0 342.9L129.5 342.8L130.0 342.7L130.5 342.5L131.0 342.4L131.5 342.3L132.0 342.2L132.5 342.0L133.0 341.9L133.5 341.8L134.0 341.7L134.5 341.6L135.0 341.4L135.5 341.3L136.0 341.2L136.5 341.1L137.0 340.9L137.5 340.8L138.0 340.7L138.5 340.6L139.0 340.5L139.5 340.3L140.0 340.2L140.5 340.1L141.0 340.0L141.5 339.9L142.0 339.7L142.5 339.6L143.0 339.5L143.5 339.4L144.0 339.2L144.5 339.1L145.0 339.0L145.5 338.9L146.0 338.8L146.5 338.6L147.0 338.5L147.5 338.4L148.0 338.3L148.5 338.2L149.0 338.1L149.5 337.9L150.0 337.8L150.5 337.7L151.0 337.6L151.5 337.5L152.0 337.3L152.5 337.2L153.0 337.1L153.5 337.0L154.0 336.9L154.5 336.7L155.0 336.6L155.5 336.5L156.0 336.4L156.5 336.3L157.0 336.1L157.5 336.0L158.0 335.9L158.5 335.8L159.0 335.7L159.5 335.5L160.0 335.4L160.5 335.3L161.0 335.2L161.5 335.1L162.0 334.9L162.5 334.8L163.0 334.7L163.5 334.6L164.0 334.5L164.5 334.3L165.0 334.2L165.5 334.1L166.0 334.0L166.5 333.9L167.0 333.7L167.5 333.6L168.0 333.5L168.5 333.4L169.0 333.2L169.5 333.1L170.0 333.0L170.5 332.9L171.0 332.8L171.5 332.6L172.0 332.5L172.5 332.4L173.0 332.3L173.5 332.2L174.0 332.0L174.5 331.9L175.0 331.8L175.5 331.7L176.0 331.5L176.5 331.4L177.0 331.3L177.5 331.2L178.0 331.1L178.5 330.9L179.0 330.8L179.5 330.7L180.0 330.5L180.5 330.4L181.0 330.3L181.5 330.1L182.0 330.0L182.5 329.9L183.0 329.7L183.5 329.6L184.0 329.4L184.5 329.3L185.0 329.1L185.5 329.0L186.0 328.8L186.5 328.6L187.0 328.5L187.5 328.3L188.0 328.1L188.5 327.9L189.0 327.8L189.5 327.6L190.0 327.4L190.5 327.3L191.0 327.1L191.5 327.0L192.0 326.8L192.5 326.7L193.0 326.5L193.5 326.4L194.0 326.3L194.5 326.2L195.0 326.1L195.5 325.9L196.0 325.8L196.5 325.7L197.0 325.6L197.5 325.5L198.0 325.4L198.5 325.3L199.0 325.2L199.5 325.2L200.0 325.2L200.5 325.2L201.0 325.2L201.5 325.2L202.0 325.2L202.5 325.2L203.0 325.2L203.5 325.3L204.0 325.3L204.5 325.3L205.0 325.3L205.5 325.3L206.0 325.4L206.5 325.4L207.0 325.4L207.5 325.5L208.0 325.5L208.5 325.5L209.0 325.6L209.5 325.6L210.0 325.7L210.5 325.7L211.0 325.8L211.5 325.8L212.0 325.9L212.5 325.9L213.0 326.1L213.5 326.2L214.0 326.5L214.5 326.8L215.0 327.1L215.5 327.4L216.0 327.8L216.5 328.2L217.0 328.7L217.5 329.1L218.0 329.5L218.5 330.0L219.0 330.5L219.5 330.9L220.0 331.4L220.5 331.9L221.0 332.4L221.5 332.9L222.0 333.5L222.5 334.1L223.0 334.7L223.5 335.3L224.0 336.0L224.5 336.6L225.0 337.3L225.5 338.0L226.0 338.7L226.5 339.5L227.0 340.3L227.5 341.2L228.0 342.0L228.5 343.0L229.0 343.9L229.5 344.8L230.0 345.8L230.5 346.8L231.0 347.7L231.5 348.7L232.0 349.6L232.5 350.5L233.0 351.5L233.5 352.4L234.0 353.4L234.5 354.4L235.0 355.3L235.5 356.3L236.0 357.2L236.5 358.2L237.0 359.2L237.5 360.1L238.0 361.0L238.5 362.0L239.0 362.9L239.5 363.8L240.0 364.7L240.5 365.6L241.0 366.5L241.5 367.4L242.0 368.3L242.5 369.2L243.0 370.1L243.5 370.9L244.0 371.8L244.5 372.7L245.0 373.6L245.5 374.4L246.0 375.3L246.5 376.2L247.0 377.1L247.5 377.9L248.0 378.8L248.5 379.6L249.0 380.5L249.5 381.3L250.0 382.1L250.5 383.0L251.0 383.8L251.5 384.6L252.0 385.4L252.5 386.2L253.0 387.0L253.5 387.7L254.0 388.5L254.5 389.3L255.0 390.1L255.5 390.8L256.0 391.6L256.5 392.4L257.0 393.2L257.5 394.0L258.0 394.8L258.5 395.6L259.0 396.4L259.5 397.2L260.0 398.0L260.5 398.8L261.0 399.6L261.5 400.5L262.0 401.3L262.5 402.1L263.0 402.9L263.5 403.7L264.0 404.5L264.5 405.3L265.0 406.1L265.5 406.9L266.0 407.7L266.5 408.5L267.0 409.3L267.5 410.1L268.0 410.9L268.5 411.7L269.0 412.5L269.5 413.3L270.0 414.0L270.5 414.8L271.0 415.6L271.5 416.3L272.0 417.1L272.5 417.8L273.0 418.6L273.5 419.3L274.0 420.1L274.5 420.8L275.0 421.5L275.5 422.3L276.0 423.0L276.5 423.7L277.0 424.5L277.5 425.2L278.0 425.9L278.5 426.7L279.0 427.4L279.5 428.1L280.0 428.8L280.5 429.5L281.0 430.1L281.5 430.7L282.0 431.3L282.5 431.9L283.0 432.5L283.5 433.0L284.0 433.6L284.5 434.1L285.0 434.6L285.5 435.1L286.0 435.6L286.5 436.1L287.0 436.5L287.5 436.9L288.0 437.3L288.5 437.7L289.0 438.0L289.5 438.4L290.0 438.7L290.5 439.1L291.0 439.4L291.5 439.7L292.0 440.0L292.5 440.3L293.0 440.5L293.5 440.8L294.0 441.0L294.5 441.2L295.0 441.4L295.5 441.7L296.0 441.9L296.5 442.1L297.0 442.3L297.5 442.5L298.0 442.7L298.5 442.9L299.0 443.1L299.5 443.2L300.0 443.3L300.5 443.4L301.0 443.5L301.5 443.5L302.0 443.5L302.5 443.5L303.0 443.5L303.5 443.5L304.0 443.4L304.5 443.4L305.0 443.4L305.5 443.3L306.0 443.3L306.5 443.2L307.0 443.2L307.5 443.1L308.0 443.0L308.5 443.0L309.0 442.9L309.5 442.8L310.0 442.7L310.5 442.6L311.0 442.4L311.5 442.2L312.0 442.0L312.5 441.7L313.0 441.5L313.5 441.2L314.0 440.9L314.5 440.6L315.0 440.3L315.5 439.9L316.0 439.6L316.5 439.3L317.0 438.9L317.5 438.5L318.0 438.1L318.5 437.7L319.0 437.2L319.5 436.7L320.0 436.2L320.5 435.6L321.0 435.1L321.5 434.5L322.0 433.9L322.5 433.3L323.0 432.7L323.5 432.1L324.0 431.5L324.5 430.9L325.0 430.4L325.5 429.8L326.0 429.2L326.5 428.5L327.0 427.9L327.5 427.2L328.0 426.6L328.5 425.9L329.0 425.2L329.5 424.5L330.0 423.8L330.5 423.1L331.0 422.4L331.5 421.7L332.0 421.0L332.5 420.4L333.0 419.7L333.5 419.0L334.0 418.4L334.5 417.7L335.0 417.1L335.5 416.5L336.0 415.9L336.5 415.3L337.0 414.7L337.5 414.2L338.0 413.7L338.5 413.1L339.0 412.6L339.5 412.1L340.0 411.6L340.5 411.1L341.0 410.6L341.5 410.1L342.0 409.6L342.5 409.1L343.0 408.6L343.5 408.1L344.0 407.7L344.5 407.2L345.0 406.8L345.5 406.4L346.0 405.9L346.5 405.5L347.0 405.1L347.5 404.7L348.0 404.4L348.5 404.0L349.0 403.7L349.5 403.3L350.0 403.0L350.5 402.7L351.0 402.4L351.5 402.1L352.0 401.8L352.5 401.6L353.0 401.3L353.5 401.0L354.0 400.8L354.5 400.5L355.0 400.3L355.5 400.1L356.0 399.8L356.5 399.6L357.0 399.4L357.5 399.1L358.0 398.9L358.5 398.7L359.0 398.5L359.5 398.2L360.0 398.0L360.5 397.8L361.0 397.5L361.5 397.3L362.0 397.0L362.5 396.8L363.0 396.6L363.5 396.3L364.0 396.1L364.5 395.8L365.0 395.6L365.5 395.4L366.0 395.1L366.5 394.9L367.0 394.7L367.5 394.4L368.0 394.2L368.5 394.0L369.0 393.7L369.5 393.5L370.0 393.3L370.5 393.0L371.0 392.8L371.5 392.5L372.0 392.2L372.5 392.0L373.0 391.7L373.5 391.4L374.0 391.1L374.5 390.8L375.0 390.5L375.5 390.2L376.0 389.8L376.5 389.5L377.0 389.1L377.5 388.7L378.0 388.3L378.5 387.9L379.0 387.5L379.5 387.1L380.0 386.7L380.5 386.3L381.0 385.8L381.5 385.4L382.0 385.0L382.5 384.6L383.0 384.1L383.5 383.7L384.0 383.3L384.5 382.9L385.0 382.5L385.5 382.1L386.0 381.7L386.5 381.3L387.0 380.9L387.5 380.5L388.0 380.2L388.5 379.8L389.0 379.4L389.5 379.1L390.0 378.7L390.5 378.4L391.0 378.0L391.5 377.7L392.0 377.3L392.5 377.0L393.0 376.6L393.5 376.3L394.0 375.9L394.5 375.6L395.0 375.2L395.5 374.9L396.0 374.6L396.5 374.2L397.0 373.9L397.5 373.5L398.0 373.2L398.5 372.8L399.0 372.5L399.5 372.1L400.0 371.8L400.5 371.4L401.0 371.1L401.5 370.7L402.0 370.4L402.5 370.0L403.0 369.6L403.5 369.3L404.0 368.9L404.5 368.6L405.0 368.2L405.5 367.8L406.0 367.5L406.5 367.1L407.0 366.8L407.5 366.4L408.0 366.1L408.5 365.7L409.0 365.4L409.5 365.0L410.0 364.7L410.5 364.4L411.0 364.0L411.5 363.7L412.0 363.4L412.5 363.0L413.0 362.7L413.5 362.4L414.0 362.1L414.5 361.8L415.0 361.5L415.5 361.2L416.0 360.9L416.5 360.6L417.0 360.3L417.5 360.0L418.0 359.7L418.5 359.4L419.0 359.1L419.5 358.8L420.0 358.5L420.5 358.2L421.0 357.9L421.5 357.6L422.0 357.3L422.5 357.0L423.0 356.7L423.5 356.4L424.0 356.1L424.5 355.8L425.0 355.5L425.5 355.2L426.0 354.9L426.5 354.6L427.0 354.3L427.5 354.0L428.0 353.7L428.5 353.4L429.0 353.1L429.5 352.8L430.0 352.5L430.5 352.2L431.0 351.9L431.5 351.6L432.0 351.3L432.5 351.0L433.0 350.7L433.5 350.5L434.0 350.2L434.5 349.9L435.0 349.6L435.5 349.3L436.0 349.0L436.5 348.7L437.0 348.4L437.5 348.1L438.0 347.8L438.5 347.5L439.0 347.2L439.5 346.9L440.0 346.6L440.5 346.3L441.0 346.0L441.5 345.7L442.0 345.4L442.5 345.1L443.0 344.8L443.5 344.5L444.0 344.2L444.5 343.9L445.0 343.6L445.5 343.3L446.0 343.0L446.5 342.7L447.0 342.4L447.5 342.1L448.0 341.8L448.5 341.5L449.0 341.2L449.5 340.9L450.0 340.5L450.5 340.2L451.0 339.9L451.5 339.5L452.0 339.2L452.5 338.9L453.0 338.5L453.5 338.2L454.0 337.8L454.5 337.5L455.0 337.1L455.5 336.8L456.0 336.4L456.5 336.1L457.0 335.8L457.5 335.5L458.0 335.2L458.5 334.9L459.0 334.7L459.5 334.5L460.0 334.2L460.5 334.0L461.0 333.9L461.5 333.7L462.0 333.6L462.5 333.4L463.0 333.3L463.5 333.1L464.0 333.0L464.5 332.9L465.0 332.7L465.5 332.6L466.0 332.5L466.5 332.4L467.0 332.3L467.5 332.2L468.0 332.1L468.5 332.0L469.0 331.9L469.5 331.8L470.0 331.7L470.5 331.6L471.0 331.6L471.5 331.5L472.0 331.5L472.5 331.4L473.0 331.4L473.5 331.4L474.0 331.4L474.5 331.4L475.0 331.5L475.5 331.5L476.0 331.6L476.5 331.7L477.0 331.9L477.5 332.0L478.0 332.2L478.5 332.4L479.0 332.5L479.5 332.7L480.0 332.9L480.5 333.2L481.0 333.4L481.5 333.6L482.0 333.8L482.5 334.0L483.0 334.3L483.5 334.5L484.0 334.7L484.5 334.9L485.0 335.1L485.5 335.3L486.0 335.5L486.5 335.6L487.0 335.8L487.5 335.9L488.0 336.0L488.5 336.1L489.0 336.1L489.5 336.2L490.0 336.2L490.5 336.2L491.0 336.0L491.5 335.9L492.0 335.6L492.5 335.3L493.0 334.9L493.5 334.6L494.0 334.1L494.5 333.7L495.0 333.2L495.5 332.8L496.0 332.3L496.5 331.8L497.0 331.4L497.5 331.0L498.0 330.6L498.5 330.2L499.0 329.9L499.5 329.7L500.0 329.5L500.5 329.4L501.0 329.2L501.5 329.1L502.0 329.0L502.5 328.9L503.0 328.8L503.5 328.7L504.0 328.6L504.5 328.5L505.0 328.4L505.5 328.3L506.0 328.3L506.5 328.2L507.0 328.1L507.5 328.1L508.0 328.0L508.5 327.9L509.0 327.9L509.5 327.8L510.0 327.7L510.5 327.6L511.0 327.6L511.5 327.5L512.0 327.4L512.5 327.3L513.0 327.2L513.5 327.1L514.0 327.0L514.5 326.8L515.0 326.7L515.5 326.5L516.0 326.4L516.5 326.2L517.0 325.9L517.5 325.7L518.0 325.4L518.5 325.2L519.0 324.9L519.5 324.6L520.0 324.2L520.5 323.9L521.0 323.6L521.5 323.2L522.0 322.9L522.5 322.5L523.0 322.1L523.5 321.8L524.0 321.4L524.5 321.0L525.0 320.7L525.5 320.3L526.0 320.0L526.5 319.6L527.0 319.3L527.5 318.9L528.0 318.6L528.5 318.3L529.0 318.0L529.5 317.8L530.0 317.5L530.5 317.3L531.0 317.0L531.5 316.8L532.0 316.5L532.5 316.3L533.0 316.1L533.5 315.8L534.0 315.6L534.5 315.4L535.0 315.1L535.5 314.9L536.0 314.7L536.5 314.5L537.0 314.3L537.5 314.1L538.0 313.9L538.5 313.6L539.0 313.4L539.5 313.2L540.0 313.0L540.5 312.8L541.0 312.6L541.5 312.4L542.0 312.2L542.5 312.0L543.0 311.8L543.5 311.6L544.0 311.5L544.5 311.3L545.0 311.1L545.5 310.9L546.0 310.7L546.5 310.5L547.0 310.3L547.5 310.1L548.0 309.9L548.5 309.8L549.0 309.6L549.5 309.4L550.0 309.2L550.5 309.0L551.0 308.8L551.5 308.6L552.0 308.5L552.5 308.3L553.0 308.1L553.5 307.9L554.0 307.7L554.5 307.6L555.0 307.4L555.5 307.2L556.0 307.0L556.5 306.8L557.0 306.7L557.5 306.5L558.0 306.3L558.5 306.1L559.0 306.0L559.5 305.8L560.0 305.6L560.5 305.4L561.0 305.3L561.5 305.1L562.0 304.9L562.5 304.8L563.0 304.6L563.5 304.4L564.0 304.3L564.5 304.1L565.0 303.9L565.5 303.7L566.0 303.6L566.5 303.4L567.0 303.2L567.5 303.1L568.0 302.9L568.5 302.8L569.0 302.6L569.5 302.4L570.0 302.3L570.5 302.1L571.0 301.9L571.5 301.8L572.0 301.6L572.5 301.4L573.0 301.3L573.5 301.1L574.0 301.0L574.5 300.8L575.0 300.6L575.5 300.5L576.0 300.3L576.5 300.2L577.0 300.0L577.5 299.9L578.0 299.7L578.5 299.5L579.0 299.4L579.5 299.2L580.0 299.1L580.5 298.9L581.0 298.8L581.5 298.6L582.0 298.4L582.5 298.3L583.0 298.1L583.5 298.0L584.0 297.8L584.5 297.7L585.0 297.5L585.5 297.4L586.0 297.2L586.5 297.1L587.0 296.9L587.5 296.8L588.0 296.6L588.5 296.5L589.0 296.3L589.5 296.2L590.0 296.0L590.5 295.8L591.0 295.7L591.5 295.5L592.0 295.4L592.5 295.2L593.0 295.1L593.5 294.9L594.0 294.8L594.5 294.6L595.0 294.5L595.5 294.3L596.0 294.2L596.5 294.0L597.0 293.9L597.5 293.7L598.0 293.6L598.5 293.4L599.0 293.3L599.5 293.1L600.0 293.0L600.5 292.9L601.0 292.7L601.5 292.6L602.0 292.4L602.5 292.3L603.0 292.1L603.5 292.0L604.0 291.8L604.5 291.7L605.0 291.5L605.5 291.4L606.0 291.2L606.5 291.1L607.0 290.9L607.5 290.8L608.0 290.7L608.5 290.5L609.0 290.4L609.5 290.2L610.0 290.1L610.5 289.9L611.0 289.8L611.5 289.7L612.0 289.5L612.5 289.4L613.0 289.2L613.5 289.1L614.0 289.0L614.5 288.8L615.0 288.7L615.5 288.5L616.0 288.4L616.5 288.3L617.0 288.1L617.5 288.0L618.0 287.8L618.5 287.7L619.0 287.6L619.5 287.4L620.0 287.3L620.5 287.1L621.0 287.0L621.5 286.9L622.0 286.7L622.5 286.6L623.0 286.5L623.5 286.3L624.0 286.2L624.5 286.0L625.0 285.9L625.5 285.8L626.0 285.6L626.5 285.5L627.0 285.4L627.5 285.2L628.0 285.1L628.5 285.0L629.0 284.8L629.5 284.7L630.0 284.6L630.5 284.4L631.0 284.3L631.5 284.2L632.0 284.0L632.5 283.9L633.0 283.7L633.5 283.6L634.0 283.5L634.5 283.3L635.0 283.2L635.5 283.1L636.0 282.9L636.5 282.8L637.0 282.7L637.5 282.5L638.0 282.4L638.5 282.3L639.0 282.1L639.5 282.0L640.0 281.9L640.5 281.7L641.0 281.6L641.5 281.5L642.0 281.3L642.5 281.2L643.0 281.1L643.5 280.9L644.0 280.8L644.5 280.7L645.0 280.5L645.5 280.4L646.0 280.3L646.5 280.1L647.0 280.0L647.5 279.9L648.0 279.7L648.5 279.6L649.0 279.5L649.5 279.3L650.0 279.2L650.5 279.1L651.0 278.9L651.5 278.8L652.0 278.7L652.5 278.5L653.0 278.4L653.5 278.3L654.0 278.1L654.5 278.0L655.0 277.9L655.5 277.7L656.0 277.6L656.5 277.5L657.0 277.3L657.5 277.2L658.0 277.1L658.5 276.9L659.0 276.8L659.5 276.7L660.0 276.5L660.5 276.4L661.0 276.3L661.5 276.1L662.0 276.0L662.5 275.9L663.0 275.7L663.5 275.6L664.0 275.5L664.5 275.3L665.0 275.2L665.5 275.1L666.0 274.9L666.5 274.8L667.0 274.7L667.5 274.5L668.0 274.4L668.5 274.3L669.0 274.1L669.5 274.0L670.0 273.9L670.5 273.7L671.0 273.6L671.5 273.5L672.0 273.3L672.5 273.2L673.0 273.1L673.5 272.9L674.0 272.8L674.5 272.7L675.0 272.5L675.5 272.4L676.0 272.3L676.5 272.2L677.0 272.0L677.5 271.9L678.0 271.8L678.5 271.6L679.0 271.5L679.5 271.4L680.0 271.2L680.5 271.1L681.0 271.0L681.5 270.9L682.0 270.7L682.5 270.6L683.0 270.5L683.5 270.3L684.0 270.2L684.5 270.1L685.0 270.0L685.5 269.8L686.0 269.7L686.5 269.6L687.0 269.4L687.5 269.3L688.0 269.2L688.5 269.1L689.0 268.9L689.5 268.8L690.0 268.7L690.5 268.6L691.0 268.4L691.5 268.3L692.0 268.2L692.5 268.1L693.0 267.9L693.5 267.8L694.0 267.7L694.5 267.6L695.0 267.4L695.5 267.3L696.0 267.2L696.5 267.1L697.0 266.9L697.5 266.8L698.0 266.7L698.5 266.6L699.0 266.4L699.5 266.3L700.0 266.2L700.5 266.1L701.0 266.0L701.5 265.8L702.0 265.7L702.5 265.6L703.0 265.5L703.5 265.4L704.0 265.2L704.5 265.1L705.0 265.0L705.5 264.9L706.0 264.7L706.5 264.6L707.0 264.5L707.5 264.4L708.0 264.3L708.5 264.1L709.0 264.0L709.5 263.9L710.0 263.8L710.5 263.7L711.0 263.5L711.5 263.4L712.0 263.3L712.5 263.2L713.0 263.1L713.5 263.0L714.0 262.8L714.5 262.7L715.0 262.6L715.5 262.5L716.0 262.4L716.5 262.2L717.0 262.1L717.5 262.0L718.0 261.9L718.5 261.8L719.0 261.7L719.5 261.5L720.0 261.4L720.5 261.3L721.0 261.2L721.5 261.1L722.0 261.0L722.5 260.8L723.0 260.7L723.5 260.6L724.0 260.5L724.5 260.4L725.0 260.3L725.5 260.1L726.0 260.0L726.5 259.9L727.0 259.8L727.5 259.7L728.0 259.6L728.5 259.5L729.0 259.3L729.5 259.2L730.0 259.1L730.5 259.0L731.0 258.9L731.5 258.8L732.0 258.7L732.5 258.6L733.0 258.4L733.5 258.3L734.0 258.2L734.5 258.1L735.0 258.0L735.5 257.9L736.0 257.8L736.5 257.7L737.0 257.6L737.5 257.5L738.0 257.3L738.5 257.2L739.0 257.1L739.5 257.0L740.0 256.9L740.5 256.8L741.0 256.7L741.5 256.6L742.0 256.5L742.5 256.4L743.0 256.3L743.5 256.2L744.0 256.1L744.5 255.9L745.0 255.8L745.5 255.7L746.0 255.6L746.5 255.5L747.0 255.4L747.5 255.3L748.0 255.2L748.5 255.1L749.0 255.0L749.5 254.9L750.0 254.8L750.5 254.7L751.0 254.6L751.5 254.5L752.0 254.4L752.5 254.3L753.0 254.2L753.5 254.1L754.0 254.0L754.5 253.9L755.0 253.8L755.5 253.7L756.0 253.6L756.5 253.5L757.0 253.4L757.5 253.3L758.0 253.2L758.5 253.1L759.0 253.0L759.5 253.0L760.0 252.9L760.5 252.8L761.0 252.7L761.5 252.6L762.0 252.5L762.5 252.4L763.0 252.3L763.5 252.2L764.0 252.1L764.5 252.0L765.0 252.0L765.5 251.9L766.0 251.8L766.5 251.7L767.0 251.6L767.5 251.5L768.0 251.4L768.5 251.3L769.0 251.2L769.5 251.2L770.0 251.1L770.5 251.0L771.0 250.9L771.5 250.8L772.0 250.7L772.5 250.6L773.0 250.5L773.5 250.4L774.0 250.4L774.5 250.3L775.0 250.2L775.5 250.1L776.0 250.0L776.5 249.9L777.0 249.8L777.5 249.7L778.0 249.6L778.5 249.6L779.0 249.5L779.5 249.4L780.0 249.3L780.5 249.2L781.0 249.1L781.5 249.0L782.0 248.9L782.5 248.8L783.0 248.7L783.5 248.6L784.0 248.6L784.5 248.5L785.0 248.4L785.5 248.3L786.0 248.2L786.5 248.1L787.0 248.0L787.5 247.9L788.0 247.8L788.5 247.7L789.0 247.6L789.5 247.5L790.0 247.4L790.5 247.3L791.0 247.2L791.5 247.1L792.0 247.0L792.5 246.9L793.0 246.8L793.5 246.7L794.0 246.6L794.5 246.5L795.0 246.4L795.5 246.3L796.0 246.2L796.5 246.1L797.0 246.0L797.5 245.9L798.0 245.8L798.5 245.7L799.0 245.6L799.5 245.4L800.0 245.3L800.5 245.2L801.0 245.1L801.5 245.0L802.0 244.9L802.5 244.8L803.0 244.7L803.5 244.6L804.0 244.5L804.5 244.3L805.0 244.2L805.5 244.1L806.0 244.0L806.5 243.9L807.0 243.8L807.5 243.6L808.0 243.5L808.5 243.4L809.0 243.3L809.5 243.1L810.0 243.0L810.5 242.9L811.0 242.8L811.5 242.6L812.0 242.5L812.5 242.4L813.0 242.2L813.5 242.1L814.0 242.0L814.5 241.8L815.0 241.7L815.5 241.5L816.0 241.4L816.5 241.3L817.0 241.1L817.5 241.0L818.0 240.8L818.5 240.7L819.0 240.5L819.5 240.4L820.0 240.2L820.5 240.1L821.0 239.9L821.5 239.7L822.0 239.6L822.5 239.4L823.0 239.3L823.5 239.1L824.0 239.0L824.5 238.8L825.0 238.6L825.5 238.5L826.0 238.3L826.5 238.1L827.0 238.0L827.5 237.8L828.0 237.6L828.5 237.4L829.0 237.3L829.5 237.1L830.0 236.9L830.5 236.7L831.0 236.6L831.5 236.4L832.0 236.3L832.5 236.1L833.0 236.0L833.5 235.8L834.0 235.6L834.5 235.4L835.0 235.2L835.5 235.0L836.0 234.8L836.5 234.6L837.0 234.4L837.5 234.3L838.0 234.1L838.5 233.9L839.0 233.7L839.5 233.6L840.0 233.4L840.5 233.2L841.0 233.0L841.5 232.9L842.0 232.7L842.5 232.5L843.0 232.3L843.5 232.1L844.0 231.9L844.5 231.7L845.0 231.4L845.5 231.2L846.0 230.9L846.5 230.7L847.0 230.5L847.5 230.3L848.0 230.2L848.5 230.0L849.0 229.9L849.5 229.7L850.0 229.5L850.5 229.3L851.0 229.1L851.5 228.9L852.0 228.6L852.5 228.4L853.0 228.2L853.5 227.9L854.0 227.7L854.5 227.5L855.0 227.2L855.5 227.0L856.0 226.8L856.5 226.6L857.0 226.4L857.5 226.3L858.0 226.1L858.5 226.0L859.0 225.9L859.5 225.7L860.0 225.5L860.5 225.3L861.0 225.0L861.5 224.7L862.0 224.5L862.5 224.2L863.0 224.0L863.5 223.7L864.0 223.6L864.5 223.4L865.0 223.2L865.5 223.1L866.0 222.9L866.5 222.7L867.0 222.6L867.5 222.4L868.0 222.3L868.5 222.1L869.0 221.9L869.5 221.7L870.0 221.5L870.5 221.2L871.0 220.9L871.5 220.6L872.0 220.3L872.5 220.1L873.0 219.9L873.5 219.7L874.0 219.6L874.5 219.5L875.0 219.4L875.5 219.3L876.0 219.2L876.5 219.0L877.0 218.8L877.5 218.6L878.0 218.4L878.5 218.1L879.0 217.9L879.5 217.6L880.0 217.4L880.5 217.2L881.0 216.9L881.5 216.7L882.0 216.5L882.5 216.3L883.0 216.2L883.5 216.1L884.0 216.0L884.5 216.0L885.0 215.9L885.5 215.8L886.0 215.7L886.5 215.5L887.0 215.2L887.5 214.9L888.0 214.6L888.5 214.3L889.0 214.1L889.5 213.9L890.0 213.7L890.5 213.6L891.0 213.5L891.5 213.4L892.0 213.3L892.5 213.2L893.0 213.1L893.5 213.0L894.0 212.9L894.5 212.7L895.0 212.6L895.5 212.4L896.0 212.2L896.5 212.0L897.0 211.7L897.5 211.4L898.0 211.1L898.5 210.9L899.0 210.6L899.5 210.5L900.0 210.4L900.5 210.4L901.0 210.4L901.5 210.4L902.0 210.4L902.5 210.4L903.0 210.2L903.5 210.0L904.0 209.8L904.5 209.5L905.0 209.3L905.5 209.1L906.0 208.8L906.5 208.7L907.0 208.5L907.5 208.3L908.0 208.2L908.5 208.1L909.0 208.0L909.5 207.9L910.0 207.9L910.5 207.9L911.0 208.0L911.5 208.0L912.0 207.9L912.5 207.8L913.0 207.6L913.5 207.4L914.0 207.1L914.5 206.8L915.0 206.5L915.5 206.3L916.0 206.1L916.5 206.0L917.0 206.0L917.5 206.0L918.0 206.0L918.5 206.0L919.0 206.0L919.5 206.0L920.0 205.9L920.5 205.8L921.0 205.7L921.5 205.6L922.0 205.5L922.5 205.4L923.0 205.2L923.5 205.0L924.0 204.9L924.5 204.7L925.0 204.6L925.5 204.6L926.0 204.6L926.5 204.8L927.0 205.0L927.5 205.2L928.0 205.4L928.5 205.6L929.0 205.8L929.5 205.8L930.0 205.8L930.5 205.8L931.0 205.8L931.5 205.8L932.0 205.8L932.5 205.9L933.0 206.0L933.5 206.1L934.0 206.3L934.5 206.5L935.0 206.7L935.5 206.9L936.0 207.1L936.5 207.4L937.0 207.7L937.5 208.0L938.0 208.2L938.5 208.4L939.0 208.5L939.5 208.6L940.0 208.6L940.5 208.6L941.0 208.6L941.5 208.6L942.0 208.7L942.5 209.0L943.0 209.3L943.5 209.6L944.0 210.0L944.5 210.5L945.0 210.8L945.5 211.2L946.0 211.5L946.5 211.8L947.0 212.1L947.5 212.4L948.0 212.7L948.5 213.0L949.0 213.3L949.5 213.7L950.0 214.1L950.5 214.6L951.0 215.1L951.5 215.8L952.0 216.5L952.5 217.4L953.0 218.3L953.5 219.4L954.0 220.5L954.5 221.6L955.0 222.8L955.5 224.1L956.0 225.5L956.5 227.0L957.0 228.6L957.5 230.2L958.0 231.9L958.5 233.6L959.0 235.4L959.5 237.1L960.0 238.9L960.5 240.8L961.0 242.8L961.5 244.9L962.0 246.9L962.5 248.9L963.0 250.8L963.5 252.5L964.0 254.1L964.5 255.4L965.0 256.6L965.5 257.7L966.0 258.7L966.5 259.7L967.0 260.6L967.5 261.5L968.0 262.4L968.5 263.4L969.0 264.3L969.5 265.2L970.0 266.0L970.5 266.8L971.0 267.4L971.5 267.7L972.0 267.9L972.5 267.8L973.0 267.5L973.5 267.1L974.0 266.6L974.5 265.9L975.0 265.2L975.5 264.5L976.0 263.7L976.5 262.9L977.0 262.2L977.5 261.4L978.0 260.5L978.5 259.6L979.0 258.7L979.5 257.8L980.0 256.8L980.5 255.8L981.0 254.8L981.5 253.7L982.0 252.5L982.5 251.3L983.0 250.1L983.5 249.0L984.0 248.0L984.5 247.2L985.0 246.5L985.5 245.9L986.0 245.4L986.5 244.9L987.0 244.5L987.5 244.1L988.0 243.7L988.5 243.3L989.0 243.0L989.5 242.7L990.0 242.4L990.5 242.2L991.0 241.9L991.5 241.7L992.0 241.5L992.5 241.2L993.0 240.9L993.5 240.6L994.0 240.4L994.5 240.2L995.0 240.2L995.5 240.2L996.0 240.4L996.5 240.6L997.0 240.7L997.5 240.9L998.0 241.0L998.5 241.0L999.0 240.9L999.5 240.7L1000.0 240.6L1000.5 240.4L1001.0 240.2L1001.5 240.0L1002.0 239.8L1002.5 239.6L1003.0 239.3L1003.5 239.0L1004.0 238.6L1004.5 238.3L1005.0 237.9L1005.5 237.6L1006.0 237.2L1006.5 236.9L1007.0 236.5L1007.5 236.0L1008.0 235.4L1008.5 234.7L1009.0 233.9L1009.5 233.1L1010.0 232.2L1010.5 231.4L1011.0 230.6L1011.5 230.0L1012.0 229.5L1012.5 229.0L1013.0 228.6L1013.5 228.3L1014.0 227.8L1014.5 227.4L1015.0 226.9L1015.5 226.4L1016.0 225.9L1016.5 225.3L1017.0 224.7L1017.5 224.1L1018.0 223.4L1018.5 222.7L1019.0 222.0L1019.5 221.2L1020.0 220.5L1020.5 219.8L1021.0 219.2L1021.5 218.7L1022.0 218.3L1022.5 218.0L1023.0 217.6L1023.5 217.2L1024.0 216.7L1024.5 216.2L1025.0 215.5L1025.5 214.7L1026.0 214.0L1026.5 213.2L1027.0 212.5L1027.5 211.9L1028.0 211.4L1028.5 211.1L1029.0 210.9L1029.5 210.8L1030.0 210.9L1030.5 211.1L1031.0 211.5L1031.5 212.0L1032.0 212.6L1032.5 213.3L1033.0 214.1L1033.5 214.8L1034.0 215.4L1034.5 216.0L1035.0 216.4L1035.5 216.7L1036.0 216.9L1036.5 217.0L1037.0 217.0L1037.5 217.1L1038.0 217.2L1038.5 217.5L1039.0 217.8L1039.5 218.1L1040.0 218.4L1040.5 218.7L1041.0 218.9L1041.5 219.1L1042.0 219.2L1042.5 219.2L1043.0 219.3L1043.5 219.3L1044.0 219.4L1044.5 219.4L1045.0 219.4L1045.5 219.3L1046.0 219.3L1046.5 219.3L1047.0 219.4L1047.5 219.7L1048.0 220.0L1048.5 220.6L1049.0 221.2L1049.5 222.0L1050.0 222.7L1050.5 223.4L1051.0 224.0L1051.5 224.5L1052.0 224.9L1052.5 225.2L1053.0 225.5L1053.5 225.9L1054.0 226.2L1054.5 226.6L1055.0 227.0L1055.5 227.5L1056.0 227.9L1056.5 228.2L1057.0 228.5L1057.5 228.7L1058.0 229.0L1058.5 229.2L1059.0 229.5L1059.5 229.7L1060.0 229.8L1060.5 229.9L1061.0 229.9L1061.5 229.9L1062.0 229.8L1062.5 229.7L1063.0 229.6L1063.5 229.9L1064.0 230.8L1064.5 232.0L1065.0 233.4L1065.5 234.8L1066.0 235.8L1066.5 236.4L1067.0 236.4L1067.5 236.2L1068.0 235.7L1068.5 234.9L1069.0 234.0L1069.5 233.1L1070.0 232.0L1070.5 231.0L1071.0 230.1L1071.5 229.2L1072.0 228.4L1072.5 227.7L1073.0 227.1L1073.5 226.5L1074.0 226.0L1074.5 225.6L1075.0 225.2L1075.5 224.9L1076.0 224.7L1076.5 224.4L1077.0 224.0L1077.5 223.5L1078.0 222.9L1078.5 222.2L1079.0 221.5L1079.5 220.8L1080.0 220.1L1080.5 219.6L1081.0 219.1L1081.5 218.8L1082.0 218.5L1082.5 218.3L1083.0 218.1L1083.5 217.9L1084.0 217.8L1084.5 217.7L1085.0 217.6L1085.5 217.5L1086.0 217.4L1086.5 217.3L1087.0 217.1L1087.5 216.9L1088.0 216.6L1088.5 216.2L1089.0 215.8L1089.5 215.5L1090.0 215.2L1090.5 215.0L1091.0 215.0L1091.5 215.1L1092.0 215.2L1092.5 215.3L1093.0 215.4L1093.5 215.4L1094.0 215.3L1094.5 215.1L1095.0 214.8L1095.5 214.3L1096.0 213.9L1096.5 213.4L1097.0 212.9L1097.5 212.4L1098.0 211.9L1098.5 211.3L1099.0 210.8L1099.5 210.3L1100.0 209.9L1100.5 209.5L1101.0 209.1L1101.5 208.9L1102.0 208.7L1102.5 208.4L1103.0 208.1L1103.5 207.7L1104.0 207.2L1104.5 206.6L1105.0 206.0L1105.5 205.3L1106.0 204.6L1106.5 204.1L1107.0 203.7L1107.5 203.4L1108.0 203.2L1108.5 203.1L1109.0 203.1L1109.5 203.0L1110.0 202.9L1110.5 202.8L1111.0 202.7L1111.5 202.6L1112.0 202.5L1112.5 202.3L1113.0 202.1L1113.5 201.8L1114.0 201.5L1114.5 201.1L1115.0 200.7L1115.5 200.2L1116.0 199.8L1116.5 199.5L1117.0 199.3L1117.5 199.2L1118.0 199.2L1118.5 199.2L1119.0 199.3L1119.5 199.2L1120.0 199.0L1120.5 198.7L1121.0 198.1L1121.5 197.5L1122.0 196.8L1122.5 196.0L1123.0 195.3L1123.5 194.6L1124.0 193.9L1124.5 193.3L1125.0 192.8L1125.5 192.3L1126.0 191.9L1126.5 191.6L1127.0 191.4L1127.5 191.3L1128.0 191.4L1128.5 191.6L1129.0 191.8L1129.5 192.0L1130.0 192.1L1130.5 192.1L1131.0 191.9L1131.5 191.8L1132.0 191.6L1132.5 191.5L1133.0 191.4L1133.5 191.5L1134.0 191.7L1134.5 191.9L1135.0 192.2L1135.5 192.4L1136.0 192.6L1136.5 192.7L1137.0 192.8L1137.5 192.7L1138.0 192.6L1138.5 192.4L1139.0 192.2L1139.5 192.0L1140.0 191.7L1140.5 191.5L1141.0 191.2L1141.5 190.9L1142.0 190.7L1142.5 190.8L1143.0 191.5L1143.5 192.7L1144.0 194.4L1144.5 196.5L1145.0 198.7L1145.5 201.1L1146.0 203.4L1146.5 205.5L1147.0 207.5L1147.5 209.1L1148.0 210.3L1148.5 211.5L1149.0 212.9L1149.5 214.3L1150.0 215.7L1150.5 217.1L1151.0 218.3L1151.5 219.2L1152.0 219.8L1152.5 220.0L1153.0 220.1L1153.5 220.2L1154.0 220.3L1154.5 220.4L1155.0 220.5L1155.5 220.6L1156.0 220.6L1156.5 220.4L1157.0 220.2L1157.5 219.9L1158.0 219.6L1158.5 219.5L1159.0 219.7L1159.5 220.2L1160.0 221.2L1160.5 222.4L1161.0 223.9L1161.5 225.6L1162.0 227.4L1162.5 229.2L1163.0 230.9L1163.5 232.6L1164.0 234.2L1164.5 235.7L1165.0 237.1L1165.5 238.3L1166.0 239.5L1166.5 240.7L1167.0 241.9L1167.5 243.1L1168.0 244.4L1168.5 245.7L1169.0 247.1L1169.5 248.6L1170.0 250.1L1170.5 251.8L1171.0 253.4L1171.5 255.1L1172.0 256.6L1172.5 258.0L1173.0 259.2L1173.5 260.2L1174.0 260.9L1174.5 261.6L1175.0 262.2L1175.5 262.8L1176.0 263.6L1176.5 264.4L1177.0 265.3L1177.5 266.3L1178.0 267.2L1178.5 268.1L1179.0 269.0L1179.5 269.9L1180.0 270.6L1180.5 271.4L1181.0 272.0L1181.5 272.5L1182.0 272.9L1182.5 273.1L1183.0 273.0L1183.5 272.7L1184.0 272.2L1184.5 271.5L1185.0 270.7L1185.5 269.8L1186.0 269.0L1186.5 268.2L1187.0 267.6L1187.5 266.9L1188.0 266.3L1188.5 265.7L1189.0 265.1L1189.5 264.4L1190.0 263.7L1190.5 262.9L1191.0 262.3L1191.5 261.7L1192.0 261.3L1192.5 261.0L1193.0 260.8L1193.5 260.6L1194.0 260.4L1194.5 260.2L1195.0 260.0L1195.5 260.0L1196.0 260.0L1196.5 260.0L1197.0 260.2L1197.5 260.3L1198.0 260.5L1198.5 260.4L1199.0 259.9L1199.5 259.1L1200.0 257.9L1200.5 256.5L1201.0 255.0L1201.5 253.3L1202.0 251.7L1202.5 250.1L1203.0 248.7L1203.5 247.4L1204.0 246.3L1204.5 245.4L1205.0 244.6L1205.5 244.0L1206.0 243.5L1206.5 243.2L1207.0 242.9L1207.5 242.6L1208.0 242.3L1208.5 242.0L1209.0 241.6L1209.5 241.2L1210.0 240.6L1210.5 240.0L1211.0 239.3L1211.5 238.6L1212.0 237.9L1212.5 237.2L1213.0 236.5L1213.5 235.7L1214.0 234.9L1214.5 233.9L1215.0 232.8L1215.5 231.6L1216.0 230.2L1216.5 228.7L1217.0 227.1L1217.5 225.4L1218.0 223.8L1218.5 222.3L1219.0 220.9L1219.5 219.7L1220.0 218.5L1220.5 217.3L1221.0 216.2L1221.5 215.1L1222.0 214.0L1222.5 213.0L1223.0 212.1L1223.5 211.3L1224.0 210.6L1224.5 210.0L1225.0 209.3L1225.5 208.6L1226.0 207.9L1226.5 207.1L1227.0 206.4L1227.5 205.7L1228.0 205.1L1228.5 204.5L1229.0 204.1L1229.5 203.8L1230.0 203.7L1230.5 203.6L1231.0 203.6L1231.5 203.5L1232.0 203.5L1232.5 203.4L1233.0 203.2L1233.5 203.1L1234.0 203.0L1234.5 202.8L1235.0 202.6L1235.5 202.5L1236.0 202.2L1236.5 202.0L1237.0 201.7L1237.5 201.5L1238.0 201.5L1238.5 201.7L1239.0 202.0L1239.5 202.6L1240.0 203.4L1240.5 204.2L1241.0 205.2L1241.5 206.0L1242.0 206.9L1242.5 207.6L1243.0 208.2L1243.5 208.9L1244.0 210.1L1244.5 211.5L1245.0 213.2L1245.5 215.2L1246.0 217.2L1246.5 219.3L1247.0 221.3L1247.5 223.1L1248.0 224.6L1248.5 226.0L1249.0 227.5L1249.5 229.1L1250.0 230.6L1250.5 232.1L1251.0 233.4L1251.5 234.4L1252.0 235.1L1252.5 235.4L1253.0 235.3L1253.5 234.9L1254.0 234.3L1254.5 233.5L1255.0 232.7L1255.5 231.9L1256.0 231.1L1256.5 230.4L1257.0 229.7L1257.5 229.0L1258.0 228.2L1258.5 227.3L1259.0 226.4L1259.5 225.5L1260.0 224.6L1260.5 223.5L1261.0 222.3L1261.5 221.0L1262.0 219.7L1262.5 218.4L1263.0 217.0L1263.5 215.7L1264.0 214.5L1264.5 213.4L1265.0 212.6L1265.5 212.1L1266.0 211.8L1266.5 211.6L1267.0 211.5L1267.5 211.4L1268.0 211.2L1268.5 210.9L1269.0 210.4L1269.5 209.9L1270.0 209.3L1270.5 208.7L1271.0 208.2L1271.5 207.8L1272.0 207.5L1272.5 207.4L1273.0 207.4L1273.5 207.6L1274.0 207.8L1274.5 208.2L1275.0 208.6L1275.5 209.1L1276.0 209.7L1276.5 210.4L1277.0 211.1L1277.5 211.8L1278.0 212.4L1278.5 213.0L1279.0 213.5L1279.5 213.9L1280.0 214.4L1280.5 215.3L1281.0 216.4L1281.5 217.9L1282.0 219.7L1282.5 221.6L1283.0 223.7L1283.5 225.7L1284.0 227.6L1284.5 229.2L1285.0 230.6L1285.5 232.1L1286.0 233.5L1286.5 234.7L1287.0 235.6L1287.5 236.2L1288.0 236.3L1288.5 236.0L1289.0 235.3L1289.5 234.4L1290.0 233.3L1290.5 232.0L1291.0 230.7L1291.5 229.5L1292.0 228.3L1292.5 227.3L1293.0 226.4L1293.5 225.6L1294.0 225.0L1294.5 224.6L1295.0 224.1L1295.5 223.4L1296.0 222.7L1296.5 221.9L1297.0 221.1L1297.5 220.4L1298.0 219.8L1298.5 219.4L1299.0 219.1L1299.5 218.9L1300.0 218.8L1300.5 218.8L1301.0 218.8L1301.5 218.8L1302.0 218.9L1302.5 219.1L1303.0 219.3L1303.5 219.5L1304.0 219.7L1304.5 219.9L1305.0 220.0L1305.5 220.1L1306.0 220.1L1306.5 220.1L1307.0 220.1L1307.5 220.3L1308.0 220.6L1308.5 221.1L1309.0 221.8L1309.5 222.5L1310.0 223.2L1310.5 224.0L1311.0 224.6L1311.5 225.2L1312.0 225.6L1312.5 226.1L1313.0 226.5L1313.5 226.9L1314.0 227.4L1314.5 227.9L1315.0 228.5L1315.5 229.1L1316.0 229.8L1316.5 230.5L1317.0 231.3L1317.5 232.1L1318.0 233.0L1318.5 234.0L1319.0 235.1L1319.5 236.3L1320.0 237.4L1320.5 238.4L1321.0 239.3L1321.5 240.1L1322.0 240.6L1322.5 241.1L1323.0 241.5L1323.5 241.9L1324.0 242.4L1324.5 243.1L1325.0 243.9L1325.5 244.8L1326.0 245.7L1326.5 246.8L1327.0 247.8L1327.5 248.8L1328.0 249.8L1328.5 250.7L1329.0 251.6L1329.5 252.5L1330.0 253.3L1330.5 254.2L1331.0 254.9L1331.5 255.6L1332.0 256.3L1332.5 256.9L1333.0 257.5L1333.5 258.2L1334.0 259.1L1334.5 260.1L1335.0 261.3L1335.5 262.6L1336.0 264.0L1336.5 265.4L1337.0 266.7L1337.5 267.9L1338.0 268.9L1338.5 269.8L1339.0 270.6L1339.5 271.2L1340.0 271.9L1340.5 272.5L1341.0 273.2L1341.5 273.8L1342.0 274.5L1342.5 275.2L1343.0 275.9L1343.5 276.7L1344.0 277.5L1344.5 278.4L1345.0 279.3L1345.5 280.3L1346.0 281.2L1346.5 282.1L1347.0 282.9L1347.5 283.5L1348.0 283.8L1348.5 284.0L1349.0 284.1L1349.5 284.0L1350.0 283.8L1350.5 283.7L1351.0 283.6L1351.5 283.7L1352.0 283.8L1352.5 284.0L1353.0 284.2L1353.5 284.3L1354.0 284.4L1354.5 284.4L1355.0 284.3L1355.5 284.1L1356.0 283.9L1356.5 283.7L1357.0 283.4L1357.5 283.1L1358.0 282.7L1358.5 282.3L1359.0 281.9L1359.5 281.5L1360.0 281.1L1360.5 280.9L1361.0 280.8L1361.5 280.8L1362.0 281.0L1362.5 281.2L1363.0 281.4L1363.5 281.5L1364.0 281.5L1364.5 281.3L1365.0 281.0L1365.5 280.5L1366.0 280.1L1366.5 279.6L1367.0 279.2L1367.5 278.9L1368.0 278.7L1368.5 278.5L1369.0 278.4L1369.5 278.3L1370.0 278.3L1370.5 278.2L1371.0 278.2L1371.5 278.2L1372.0 278.3L1372.5 278.3L1373.0 278.3L1373.5 278.2L1374.0 278.0L1374.5 277.6L1375.0 277.1L1375.5 276.5L1376.0 275.9L1376.5 275.3L1377.0 274.9L1377.5 274.6L1378.0 274.4L1378.5 274.4L1379.0 274.4L1379.5 274.4L1380.0 274.3L1380.5 274.2L1381.0 274.0L1381.5 273.7L1382.0 273.3L1382.5 273.0L1383.0 272.6L1383.5 272.2L1384.0 271.9L1384.5 271.5L1385.0 271.2L1385.5 270.9L1386.0 270.6L1386.5 270.5L1387.0 270.5L1387.5 270.6L1388.0 270.9L1388.5 271.3L1389.0 271.7L1389.5 272.1L1390.0 272.4L1390.5 272.5L1391.0 272.6L1391.5 272.4L1392.0 272.3L1392.5 272.1L1393.0 272.0L1393.5 272.0L1394.0 272.1L1394.5 272.3L1395.0 272.7L1395.5 273.1L1396.0 273.5L1396.5 274.0L1397.0 274.5" fill="none" stroke="#00ff00" stroke-width="4.6" stroke-linejoin="round" stroke-linecap="butt"/>
<path d="M89.5 457.6L90.0 457.6L90.5 457.5L91.0 457.5L91.5 457.4L92.0 457.4L92.5 457.3L93.0 457.3L93.5 457.2L94.0 457.2L94.5 457.1L95.0 457.1L95.5 457.0L96.0 457.0L96.5 456.9L97.0 456.9L97.5 456.8L98.0 456.8L98.5 456.8L99.0 456.7L99.5 456.7L100.0 456.6L100.5 456.6L101.0 456.5L101.5 456.5L102.0 456.4L102.5 456.4L103.0 456.4L103.5 456.3L104.0 456.3L104.5 456.2L105.0 456.2L105.5 456.1L106.0 456.1L106.5 456.0L107.0 456.0L107.5 456.0L108.0 455.9L108.5 455.9L109.0 455.8L109.5 455.8L110.0 455.7L110.5 455.7L111.0 455.7L111.5 455.6L112.0 455.6L112.5 455.5L113.0 455.5L113.5 455.4L114.0 455.4L114.5 455.4L115.0 455.3L115.5 455.3L116.0 455.2L116.5 455.2L117.0 455.2L117.5 455.1L118.0 455.1L118.5 455.0L119.0 455.0L119.5 455.0L120.0 454.9L120.5 454.9L121.0 454.8L121.5 454.8L122.0 454.8L122.5 454.7L123.0 454.7L123.5 454.7L124.0 454.6L124.5 454.6L125.0 454.5L125.5 454.5L126.0 454.5L126.5 454.4L127.0 454.4L127.5 454.3L128.0 454.3L128.5 454.3L129.0 454.2L129.5 454.2L130.0 454.1L130.5 454.1L131.0 454.1L131.5 454.0L132.0 454.0L132.5 453.9L133.0 453.9L133.5 453.8L134.0 453.8L134.5 453.7L135.0 453.7L135.5 453.7L136.0 453.6L136.5 453.6L137.0 453.5L137.5 453.5L138.0 453.4L138.5 453.4L139.0 453.3L139.5 453.3L140.0 453.3L140.5 453.2L141.0 453.2L141.5 453.1L142.0 453.1L142.5 453.0L143.0 453.0L143.5 453.0L144.0 452.9L144.5 452.9L145.0 452.8L145.5 452.8L146.0 452.8L146.5 452.7L147.0 452.7L147.5 452.6L148.0 452.6L148.5 452.6L149.0 452.5L149.5 452.5L150.0 452.5L150.5 452.4L151.0 452.4L151.5 452.4L152.0 452.3L152.5 452.3L153.0 452.3L153.5 452.3L154.0 452.2L154.5 452.2L155.0 452.2L155.5 452.2L156.0 452.1L156.5 452.1L157.0 452.1L157.5 452.1L158.0 452.1L158.5 452.1L159.0 452.1L159.5 452.0L160.0 452.0L160.5 452.0L161.0 452.0L161.5 452.0L162.0 452.0L162.5 452.0L163.0 452.0L163.5 452.0L164.0 452.0L164.5 452.0L165.0 452.0L165.5 452.0L166.0 452.0L166.5 452.0L167.0 452.0L167.5 452.0L168.0 452.0L168.5 452.0L169.0 452.0L169.5 452.1L170.0 452.1L170.5 452.1L171.0 452.1L171.5 452.1L172.0 452.1L172.5 452.1L173.0 452.1L173.5 452.1L174.0 452.1L174.5 452.2L175.0 452.2L175.5 452.2L176.0 452.2L176.5 452.2L177.0 452.2L177.5 452.2L178.0 452.3L178.5 452.3L179.0 452.3L179.5 452.3L180.0 452.3L180.5 452.3L181.0 452.4L181.5 452.4L182.0 452.4L182.5 452.4L183.0 452.4L183.5 452.4L184.0 452.5L184.5 452.5L185.0 452.5L185.5 452.5L186.0 452.5L186.5 452.6L187.0 452.6L187.5 452.6L188.0 452.7L188.5 452.7L189.0 452.7L189.5 452.8L190.0 452.8L190.5 452.8L191.0 452.9L191.5 452.9L192.0 453.0L192.5 453.0L193.0 453.1L193.5 453.1L194.0 453.2L194.5 453.3L195.0 453.3L195.5 453.4L196.0 453.5L196.5 453.7L197.0 453.8L197.5 454.0L198.0 454.2L198.5 454.3L199.0 454.6L199.5 454.8L200.0 455.0L200.5 455.2L201.0 455.5L201.5 455.7L202.0 456.0L202.5 456.3L203.0 456.6L203.5 456.9L204.0 457.3L204.5 457.7L205.0 458.1L205.5 458.5L206.0 458.9L206.5 459.3L207.0 459.7L207.5 460.1L208.0 460.5L208.5 460.9L209.0 461.3L209.5 461.7L210.0 462.2L210.5 462.6L211.0 463.1L211.5 463.6L212.0 464.0L212.5 464.5L213.0 465.0L213.5 465.5L214.0 466.0L214.5 466.5L215.0 467.0L215.5 467.6L216.0 468.1L216.5 468.7L217.0 469.2L217.5 469.8L218.0 470.4L218.5 470.9L219.0 471.5L219.5 472.1L220.0 472.6L220.5 473.2L221.0 473.8L221.5 474.4L222.0 475.0L222.5 475.6L223.0 476.3L223.5 476.9L224.0 477.5L224.5 478.1L225.0 478.7L225.5 479.3L226.0 479.9L226.5 480.5L227.0 481.1L227.5 481.7L228.0 482.3L228.5 482.9L229.0 483.5L229.5 484.1L230.0 484.6L230.5 485.2L231.0 485.8L231.5 486.5L232.0 487.1L232.5 487.7L233.0 488.3L233.5 489.0L234.0 489.6L234.5 490.3L235.0 490.9L235.5 491.6L236.0 492.3L236.5 492.9L237.0 493.6L237.5 494.2L238.0 494.9L238.5 495.6L239.0 496.2L239.5 496.9L240.0 497.6L240.5 498.2L241.0 498.9L241.5 499.6L242.0 500.2L242.5 500.9L243.0 501.5L243.5 502.2L244.0 502.8L244.5 503.4L245.0 504.0L245.5 504.6L246.0 505.1L246.5 505.7L247.0 506.2L247.5 506.8L248.0 507.3L248.5 507.8L249.0 508.4L249.5 508.9L250.0 509.4L250.5 510.0L251.0 510.5L251.5 511.1L252.0 511.6L252.5 512.2L253.0 512.7L253.5 513.3L254.0 513.8L254.5 514.3L255.0 514.9L255.5 515.4L256.0 516.0L256.5 516.5L257.0 517.0L257.5 517.5L258.0 518.0L258.5 518.5L259.0 519.0L259.5 519.5L260.0 520.0L260.5 520.5L261.0 521.0L261.5 521.5L262.0 522.0L262.5 522.5L263.0 523.0L263.5 523.5L264.0 524.0L264.5 524.5L265.0 525.0L265.5 525.5L266.0 526.0L266.5 526.5L267.0 527.0L267.5 527.5L268.0 528.0L268.5 528.5L269.0 529.0L269.5 529.5L270.0 530.0L270.5 530.5L271.0 531.0L271.5 531.5L272.0 532.0L272.5 532.5L273.0 533.0L273.5 533.4L274.0 533.9L274.5 534.4L275.0 534.9L275.5 535.3L276.0 535.8L276.5 536.2L277.0 536.6L277.5 537.1L278.0 537.5L278.5 537.9L279.0 538.4L279.5 538.8L280.0 539.2L280.5 539.6L281.0 540.0L281.5 540.4L282.0 540.8L282.5 541.1L283.0 541.5L283.5 541.9L284.0 542.3L284.5 542.6L285.0 543.0L285.5 543.4L286.0 543.7L286.5 544.1L287.0 544.4L287.5 544.7L288.0 545.0L288.5 545.3L289.0 545.6L289.5 545.9L290.0 546.1L290.5 546.4L291.0 546.7L291.5 546.9L292.0 547.2L292.5 547.4L293.0 547.6L293.5 547.8L294.0 548.0L294.5 548.2L295.0 548.4L295.5 548.6L296.0 548.8L296.5 549.0L297.0 549.2L297.5 549.4L298.0 549.6L298.5 549.7L299.0 549.9L299.5 550.0L300.0 550.1L300.5 550.2L301.0 550.3L301.5 550.3L302.0 550.3L302.5 550.3L303.0 550.3L303.5 550.3L304.0 550.2L304.5 550.2L305.0 550.2L305.5 550.1L306.0 550.1L306.5 550.0L307.0 550.0L307.5 549.9L308.0 549.8L308.5 549.8L309.0 549.7L309.5 549.6L310.0 549.5L310.5 549.4L311.0 549.3L311.5 549.2L312.0 549.0L312.5 548.8L313.0 548.6L313.5 548.4L314.0 548.2L314.5 548.0L315.0 547.8L315.5 547.5L316.0 547.3L316.5 547.1L317.0 546.8L317.5 546.6L318.0 546.3L318.5 546.1L319.0 545.8L319.5 545.6L320.0 545.4L320.5 545.1L321.0 544.8L321.5 544.5L322.0 544.2L322.5 543.9L323.0 543.6L323.5 543.3L324.0 543.0L324.5 542.7L325.0 542.4L325.5 542.0L326.0 541.7L326.5 541.4L327.0 541.0L327.5 540.7L328.0 540.4L328.5 540.0L329.0 539.7L329.5 539.4L330.0 539.0L330.5 538.7L331.0 538.4L331.5 538.1L332.0 537.8L332.5 537.5L333.0 537.2L333.5 536.9L334.0 536.6L334.5 536.3L335.0 536.0L335.5 535.7L336.0 535.4L336.5 535.1L337.0 534.8L337.5 534.5L338.0 534.2L338.5 533.9L339.0 533.6L339.5 533.3L340.0 533.0L340.5 532.7L341.0 532.4L341.5 532.1L342.0 531.8L342.5 531.5L343.0 531.2L343.5 530.9L344.0 530.6L344.5 530.4L345.0 530.1L345.5 529.8L346.0 529.5L346.5 529.3L347.0 529.0L347.5 528.7L348.0 528.4L348.5 528.2L349.0 527.9L349.5 527.6L350.0 527.4L350.5 527.1L351.0 526.8L351.5 526.6L352.0 526.3L352.5 526.1L353.0 525.8L353.5 525.5L354.0 525.3L354.5 525.0L355.0 524.8L355.5 524.5L356.0 524.2L356.5 524.0L357.0 523.7L357.5 523.5L358.0 523.2L358.5 522.9L359.0 522.7L359.5 522.4L360.0 522.1L360.5 521.9L361.0 521.6L361.5 521.3L362.0 521.0L362.5 520.8L363.0 520.5L363.5 520.2L364.0 519.9L364.5 519.7L365.0 519.4L365.5 519.1L366.0 518.8L366.5 518.6L367.0 518.3L367.5 518.0L368.0 517.7L368.5 517.4L369.0 517.2L369.5 516.9L370.0 516.6L370.5 516.3L371.0 516.0L371.5 515.7L372.0 515.5L372.5 515.2L373.0 514.9L373.5 514.6L374.0 514.3L374.5 514.0L375.0 513.7L375.5 513.5L376.0 513.2L376.5 512.9L377.0 512.6L377.5 512.3L378.0 512.0L378.5 511.7L379.0 511.4L379.5 511.2L380.0 510.9L380.5 510.6L381.0 510.3L381.5 510.0L382.0 509.7L382.5 509.4L383.0 509.1L383.5 508.8L384.0 508.5L384.5 508.2L385.0 508.0L385.5 507.7L386.0 507.4L386.5 507.1L387.0 506.8L387.5 506.5L388.0 506.2L388.5 505.9L389.0 505.6L389.5 505.3L390.0 505.0L390.5 504.7L391.0 504.4L391.5 504.1L392.0 503.8L392.5 503.5L393.0 503.2L393.5 502.9L394.0 502.6L394.5 502.3L395.0 502.0L395.5 501.7L396.0 501.4L396.5 501.1L397.0 500.8L397.5 500.5L398.0 500.2L398.5 499.9L399.0 499.6L399.5 499.3L400.0 499.0L400.5 498.7L401.0 498.4L401.5 498.0L402.0 497.7L402.5 497.4L403.0 497.1L403.5 496.8L404.0 496.5L404.5 496.2L405.0 495.9L405.5 495.6L406.0 495.3L406.5 495.0L407.0 494.7L407.5 494.4L408.0 494.1L408.5 493.8L409.0 493.5L409.5 493.2L410.0 492.9L410.5 492.6L411.0 492.4L411.5 492.1L412.0 491.8L412.5 491.5L413.0 491.2L413.5 490.9L414.0 490.6L414.5 490.3L415.0 490.1L415.5 489.8L416.0 489.5L416.5 489.2L417.0 488.9L417.5 488.6L418.0 488.4L418.5 488.1L419.0 487.8L419.5 487.5L420.0 487.2L420.5 486.9L421.0 486.7L421.5 486.4L422.0 486.1L422.5 485.8L423.0 485.6L423.5 485.3L424.0 485.0L424.5 484.7L425.0 484.4L425.5 484.2L426.0 483.9L426.5 483.6L427.0 483.3L427.5 483.1L428.0 482.8L428.5 482.5L429.0 482.3L429.5 482.0L430.0 481.7L430.5 481.4L431.0 481.2L431.5 480.9L432.0 480.6L432.5 480.4L433.0 480.1L433.5 479.8L434.0 479.6L434.5 479.3L435.0 479.1L435.5 478.8L436.0 478.5L436.5 478.3L437.0 478.0L437.5 477.8L438.0 477.5L438.5 477.2L439.0 477.0L439.5 476.7L440.0 476.5L440.5 476.3L441.0 476.0L441.5 475.8L442.0 475.6L442.5 475.3L443.0 475.1L443.5 474.9L444.0 474.6L444.5 474.4L445.0 474.2L445.5 473.9L446.0 473.7L446.5 473.4L447.0 473.2L447.5 472.9L448.0 472.7L448.5 472.4L449.0 472.2L449.5 471.9L450.0 471.6L450.5 471.3L451.0 471.0L451.5 470.6L452.0 470.3L452.5 469.9L453.0 469.5L453.5 469.2L454.0 468.8L454.5 468.4L455.0 468.1L455.5 467.8L456.0 467.5L456.5 467.2L457.0 467.0L457.5 466.8L458.0 466.6L458.5 466.4L459.0 466.2L459.5 466.0L460.0 465.8L460.5 465.6L461.0 465.4L461.5 465.3L462.0 465.1L462.5 465.0L463.0 464.9L463.5 464.9L464.0 464.8L464.5 464.8L465.0 464.8L465.5 464.9L466.0 465.1L466.5 465.3L467.0 465.5L467.5 465.8L468.0 466.1L468.5 466.4L469.0 466.7L469.5 467.1L470.0 467.5L470.5 468.0L471.0 468.6L471.5 469.4L472.0 470.3L472.5 471.3L473.0 472.3L473.5 473.3L474.0 474.3L474.5 475.3L475.0 476.2L475.5 477.1L476.0 478.0L476.5 478.9L477.0 479.9L477.5 480.8L478.0 481.8L478.5 482.7L479.0 483.6L479.5 484.5L480.0 485.4L480.5 486.2L481.0 486.9L481.5 487.6L482.0 488.2L482.5 488.7L483.0 489.2L483.5 489.6L484.0 490.1L484.5 490.5L485.0 490.9L485.5 491.3L486.0 491.6L486.5 491.8L487.0 491.9L487.5 492.0L488.0 491.9L488.5 491.6L489.0 491.1L489.5 490.5L490.0 489.8L490.5 489.1L491.0 488.3L491.5 487.5L492.0 486.8L492.5 486.1L493.0 485.5L493.5 485.1L494.0 484.8L494.5 484.6L495.0 484.3L495.5 484.1L496.0 483.9L496.5 483.6L497.0 483.4L497.5 483.2L498.0 483.1L498.5 482.9L499.0 482.8L499.5 482.7L500.0 482.6L500.5 482.5L501.0 482.5L501.5 482.5L502.0 482.6L502.5 482.7L503.0 483.0L503.5 483.2L504.0 483.5L504.5 483.8L505.0 484.2L505.5 484.5L506.0 484.9L506.5 485.2L507.0 485.6L507.5 485.9L508.0 486.1L508.5 486.4L509.0 486.5L509.5 486.7L510.0 486.7L510.5 486.6L511.0 486.5L511.5 486.2L512.0 485.8L512.5 485.4L513.0 484.9L513.5 484.4L514.0 483.8L514.5 483.2L515.0 482.6L515.5 482.0L516.0 481.4L516.5 480.9L517.0 480.2L517.5 479.5L518.0 478.7L518.5 477.9L519.0 477.1L519.5 476.2L520.0 475.3L520.5 474.4L521.0 473.5L521.5 472.6L522.0 471.7L522.5 470.9L523.0 470.1L523.5 469.3L524.0 468.7L524.5 468.0L525.0 467.5L525.5 467.0L526.0 466.5L526.5 466.1L527.0 465.6L527.5 465.2L528.0 464.8L528.5 464.4L529.0 464.0L529.5 463.6L530.0 463.2L530.5 462.8L531.0 462.5L531.5 462.1L532.0 461.8L532.5 461.5L533.0 461.2L533.5 460.9L534.0 460.6L534.5 460.3L535.0 460.0L535.5 459.7L536.0 459.5L536.5 459.2L537.0 458.9L537.5 458.7L538.0 458.5L538.5 458.2L539.0 458.0L539.5 457.8L540.0 457.5L540.5 457.3L541.0 457.1L541.5 456.9L542.0 456.7L542.5 456.5L543.0 456.3L543.5 456.1L544.0 455.9L544.5 455.7L545.0 455.6L545.5 455.4L546.0 455.2L546.5 455.0L547.0 454.8L547.5 454.7L548.0 454.5L548.5 454.3L549.0 454.2L549.5 454.0L550.0 453.9L550.5 453.7L551.0 453.5L551.5 453.4L552.0 453.2L552.5 453.1L553.0 452.9L553.5 452.8L554.0 452.6L554.5 452.5L555.0 452.3L555.5 452.2L556.0 452.0L556.5 451.9L557.0 451.7L557.5 451.6L558.0 451.4L558.5 451.3L559.0 451.1L559.5 450.9L560.0 450.8L560.5 450.6L561.0 450.5L561.5 450.3L562.0 450.2L562.5 450.0L563.0 449.8L563.5 449.7L564.0 449.5L564.5 449.3L565.0 449.2L565.5 449.0L566.0 448.8L566.5 448.7L567.0 448.6L567.5 448.4L568.0 448.3L568.5 448.1L569.0 448.0L569.5 447.8L570.0 447.6L570.5 447.4L571.0 447.2L571.5 447.0L572.0 446.8L572.5 446.7L573.0 446.5L573.5 446.4L574.0 446.2L574.5 446.1L575.0 446.0L575.5 445.9L576.0 445.7L576.5 445.6L577.0 445.5L577.5 445.3L578.0 445.2L578.5 445.0L579.0 444.8L579.5 444.6L580.0 444.4L580.5 444.2L581.0 444.0L581.5 443.8L582.0 443.6L582.5 443.4L583.0 443.4L583.5 443.3L584.0 443.2L584.5 443.2L585.0 443.1L585.5 443.0L586.0 442.9L586.5 442.7L587.0 442.5L587.5 442.2L588.0 442.0L588.5 441.8L589.0 441.6L589.5 441.4L590.0 441.3L590.5 441.1L591.0 441.0L591.5 440.8L592.0 440.7L592.5 440.6L593.0 440.6L593.5 440.6L594.0 440.5L594.5 440.5L595.0 440.4L595.5 440.2L596.0 440.0L596.5 439.8L597.0 439.5L597.5 439.2L598.0 438.9L598.5 438.7L599.0 438.6L599.5 438.5L600.0 438.5L600.5 438.5L601.0 438.5L601.5 438.4L602.0 438.4L602.5 438.3L603.0 438.2L603.5 438.0L604.0 437.9L604.5 437.7L605.0 437.6L605.5 437.4L606.0 437.1L606.5 436.9L607.0 436.7L607.5 436.4L608.0 436.2L608.5 436.1L609.0 436.0L609.5 436.0L610.0 436.1L610.5 436.1L611.0 436.1L611.5 436.1L612.0 436.0L612.5 435.8L613.0 435.6L613.5 435.3L614.0 435.1L614.5 434.8L615.0 434.6L615.5 434.4L616.0 434.3L616.5 434.2L617.0 434.1L617.5 434.0L618.0 433.9L618.5 433.8L619.0 433.8L619.5 433.8L620.0 433.8L620.5 433.7L621.0 433.7L621.5 433.6L622.0 433.4L622.5 433.2L623.0 432.9L623.5 432.6L624.0 432.3L624.5 432.1L625.0 431.9L625.5 431.8L626.0 431.8L626.5 431.8L627.0 431.9L627.5 431.9L628.0 431.9L628.5 431.8L629.0 431.7L629.5 431.6L630.0 431.4L630.5 431.3L631.0 431.1L631.5 430.9L632.0 430.7L632.5 430.6L633.0 430.4L633.5 430.2L634.0 430.0L634.5 429.9L635.0 429.8L635.5 429.8L636.0 429.8L636.5 429.9L637.0 429.9L637.5 430.0L638.0 429.9L638.5 429.8L639.0 429.7L639.5 429.4L640.0 429.2L640.5 428.9L641.0 428.7L641.5 428.6L642.0 428.5L642.5 428.4L643.0 428.3L643.5 428.3L644.0 428.3L644.5 428.3L645.0 428.3L645.5 428.3L646.0 428.3L646.5 428.3L647.0 428.2L647.5 428.2L648.0 428.1L648.5 428.0L649.0 427.8L649.5 427.5L650.0 427.3L650.5 427.1L651.0 426.9L651.5 426.9L652.0 426.9L652.5 426.9L653.0 427.0L653.5 427.1L654.0 427.2L654.5 427.2L655.0 427.1L655.5 427.1L656.0 426.9L656.5 426.8L657.0 426.7L657.5 426.5L658.0 426.4L658.5 426.2L659.0 426.1L659.5 426.0L660.0 425.9L660.5 425.8L661.0 425.7L661.5 425.7L662.0 425.7L662.5 425.8L663.0 425.9L663.5 426.0L664.0 426.0L664.5 426.0L665.0 425.9L665.5 425.7L666.0 425.5L666.5 425.2L667.0 425.0L667.5 424.9L668.0 424.8L668.5 424.7L669.0 424.7L669.5 424.7L670.0 424.7L670.5 424.8L671.0 424.8L671.5 424.8L672.0 424.8L672.5 424.8L673.0 424.8L673.5 424.7L674.0 424.7L674.5 424.6L675.0 424.4L675.5 424.3L676.0 424.1L676.5 423.9L677.0 423.7L677.5 423.6L678.0 423.6L678.5 423.6L679.0 423.7L679.5 423.8L680.0 423.9L680.5 424.0L681.0 424.0L681.5 424.0L682.0 423.9L682.5 423.8L683.0 423.6L683.5 423.5L684.0 423.3L684.5 423.2L685.0 423.1L685.5 423.1L686.0 423.0L686.5 422.9L687.0 422.9L687.5 422.9L688.0 422.9L688.5 423.0L689.0 423.1L689.5 423.2L690.0 423.3L690.5 423.3L691.0 423.3L691.5 423.2L692.0 423.0L692.5 422.8L693.0 422.6L693.5 422.5L694.0 422.4L694.5 422.3L695.0 422.3L695.5 422.4L696.0 422.5L696.5 422.6L697.0 422.7L697.5 422.7L698.0 422.8L698.5 422.8L699.0 422.8L699.5 422.8L700.0 422.7L700.5 422.7L701.0 422.6L701.5 422.5L702.0 422.4L702.5 422.3L703.0 422.1L703.5 422.1L704.0 422.0L704.5 422.1L705.0 422.2L705.5 422.3L706.0 422.5L706.5 422.7L707.0 422.8L707.5 422.8L708.0 422.8L708.5 422.7L709.0 422.6L709.5 422.4L710.0 422.3L710.5 422.2L711.0 422.1L711.5 422.1L712.0 422.1L712.5 422.1L713.0 422.1L713.5 422.0L714.0 422.0L714.5 422.0L715.0 422.0L715.5 422.1L716.0 422.0L716.5 422.0L717.0 421.9L717.5 421.7L718.0 421.5L718.5 421.2L719.0 420.8L719.5 420.5L720.0 420.2L720.5 420.0L721.0 419.8L721.5 419.8L722.0 419.7L722.5 419.7L723.0 419.8L723.5 419.7L724.0 419.7L724.5 419.6L725.0 419.6L725.5 419.5L726.0 419.4L726.5 419.3L727.0 419.2L727.5 419.0L728.0 418.9L728.5 418.7L729.0 418.6L729.5 418.4L730.0 418.3L730.5 418.3L731.0 418.3L731.5 418.4L732.0 418.5L732.5 418.6L733.0 418.7L733.5 418.7L734.0 418.7L734.5 418.6L735.0 418.4L735.5 418.2L736.0 418.1L736.5 417.9L737.0 417.8L737.5 417.7L738.0 417.6L738.5 417.6L739.0 417.6L739.5 417.7L740.0 417.7L740.5 417.7L741.0 417.7L741.5 417.8L742.0 417.8L742.5 417.9L743.0 417.9L743.5 417.8L744.0 417.8L744.5 417.6L745.0 417.4L745.5 417.2L746.0 417.0L746.5 416.9L747.0 416.8L747.5 416.8L748.0 416.9L748.5 417.0L749.0 417.2L749.5 417.3L750.0 417.3L750.5 417.3L751.0 417.3L751.5 417.2L752.0 417.2L752.5 417.1L753.0 417.0L753.5 416.9L754.0 416.7L754.5 416.6L755.0 416.5L755.5 416.4L756.0 416.4L756.5 416.3L757.0 416.3L757.5 416.4L758.0 416.5L758.5 416.6L759.0 416.7L759.5 416.8L760.0 416.8L760.5 416.8L761.0 416.6L761.5 416.4L762.0 416.2L762.5 416.1L763.0 415.9L763.5 415.8L764.0 415.7L764.5 415.7L765.0 415.8L765.5 415.8L766.0 415.9L766.5 415.9L767.0 415.9L767.5 416.0L768.0 416.0L768.5 416.0L769.0 416.0L769.5 416.0L770.0 415.9L770.5 415.8L771.0 415.7L771.5 415.5L772.0 415.3L772.5 415.1L773.0 415.0L773.5 415.0L774.0 415.1L774.5 415.2L775.0 415.3L775.5 415.4L776.0 415.5L776.5 415.6L777.0 415.6L777.5 415.5L778.0 415.4L778.5 415.3L779.0 415.2L779.5 415.1L780.0 414.9L780.5 414.9L781.0 414.8L781.5 414.7L782.0 414.6L782.5 414.6L783.0 414.6L783.5 414.6L784.0 414.7L784.5 414.8L785.0 414.9L785.5 415.0L786.0 415.1L786.5 415.1L787.0 415.0L787.5 414.8L788.0 414.6L788.5 414.4L789.0 414.2L789.5 414.1L790.0 414.0L790.5 414.0L791.0 414.1L791.5 414.1L792.0 414.2L792.5 414.3L793.0 414.3L793.5 414.3L794.0 414.4L794.5 414.3L795.0 414.3L795.5 414.3L796.0 414.2L796.5 414.1L797.0 414.0L797.5 413.9L798.0 413.7L798.5 413.5L799.0 413.4L799.5 413.3L800.0 413.3L800.5 413.4L801.0 413.5L801.5 413.6L802.0 413.7L802.5 413.8L803.0 413.8L803.5 413.8L804.0 413.7L804.5 413.5L805.0 413.3L805.5 413.2L806.0 413.0L806.5 412.9L807.0 412.8L807.5 412.8L808.0 412.7L808.5 412.6L809.0 412.6L809.5 412.6L810.0 412.6L810.5 412.7L811.0 412.7L811.5 412.8L812.0 412.8L812.5 412.8L813.0 412.8L813.5 412.6L814.0 412.4L814.5 412.1L815.0 411.9L815.5 411.7L816.0 411.5L816.5 411.4L817.0 411.4L817.5 411.4L818.0 411.4L818.5 411.4L819.0 411.4L819.5 411.4L820.0 411.3L820.5 411.2L821.0 411.1L821.5 410.9L822.0 410.8L822.5 410.6L823.0 410.4L823.5 410.2L824.0 410.0L824.5 409.7L825.0 409.5L825.5 409.3L826.0 409.2L826.5 409.1L827.0 409.1L827.5 409.2L828.0 409.2L828.5 409.2L829.0 409.2L829.5 409.1L830.0 408.9L830.5 408.7L831.0 408.5L831.5 408.2L832.0 407.9L832.5 407.7L833.0 407.6L833.5 407.4L834.0 407.3L834.5 407.3L835.0 407.2L835.5 407.2L836.0 407.1L836.5 407.1L837.0 407.1L837.5 407.1L838.0 407.1L838.5 407.1L839.0 407.0L839.5 406.9L840.0 406.7L840.5 406.4L841.0 406.2L841.5 405.9L842.0 405.7L842.5 405.6L843.0 405.5L843.5 405.5L844.0 405.5L844.5 405.6L845.0 405.6L845.5 405.6L846.0 405.6L846.5 405.5L847.0 405.4L847.5 405.3L848.0 405.2L848.5 405.0L849.0 404.9L849.5 404.7L850.0 404.6L850.5 404.4L851.0 404.2L851.5 404.1L852.0 404.0L852.5 403.9L853.0 403.9L853.5 404.0L854.0 404.1L854.5 404.2L855.0 404.2L855.5 404.2L856.0 404.1L856.5 404.0L857.0 403.8L857.5 403.6L858.0 403.4L858.5 403.2L859.0 403.0L859.5 403.0L860.0 402.9L860.5 402.9L861.0 402.9L861.5 402.9L862.0 403.0L862.5 403.0L863.0 403.0L863.5 403.0L864.0 403.0L864.5 403.0L865.0 403.0L865.5 403.0L866.0 402.8L866.5 402.7L867.0 402.5L867.5 402.3L868.0 402.1L868.5 401.9L869.0 401.9L869.5 401.9L870.0 401.9L870.5 402.1L871.0 402.2L871.5 402.3L872.0 402.3L872.5 402.3L873.0 402.2L873.5 402.1L874.0 402.0L874.5 401.9L875.0 401.8L875.5 401.7L876.0 401.6L876.5 401.5L877.0 401.4L877.5 401.3L878.0 401.2L878.5 401.2L879.0 401.2L879.5 401.3L880.0 401.4L880.5 401.5L881.0 401.6L881.5 401.7L882.0 401.7L882.5 401.7L883.0 401.6L883.5 401.4L884.0 401.2L884.5 401.0L885.0 400.9L885.5 400.9L886.0 400.9L886.5 400.9L887.0 401.0L887.5 401.1L888.0 401.2L888.5 401.3L889.0 401.3L889.5 401.4L890.0 401.4L890.5 401.5L891.0 401.5L891.5 401.5L892.0 401.5L892.5 401.4L893.0 401.3L893.5 401.2L894.0 401.1L894.5 401.0L895.0 400.9L895.5 401.0L896.0 401.1L896.5 401.2L897.0 401.4L897.5 401.6L898.0 401.8L898.5 401.8L899.0 401.9L899.5 401.9L900.0 401.8L900.5 401.7L901.0 401.6L901.5 401.6L902.0 401.5L902.5 401.5L903.0 401.5L903.5 401.5L904.0 401.5L904.5 401.6L905.0 401.6L905.5 401.7L906.0 401.9L906.5 402.1L907.0 402.2L907.5 402.4L908.0 402.5L908.5 402.6L909.0 402.6L909.5 402.5L910.0 402.4L910.5 402.3L911.0 402.3L911.5 402.3L912.0 402.4L912.5 402.6L913.0 402.8L913.5 403.1L914.0 403.4L914.5 403.6L915.0 403.9L915.5 404.1L916.0 404.4L916.5 404.6L917.0 404.8L917.5 404.9L918.0 405.1L918.5 405.2L919.0 405.3L919.5 405.4L920.0 405.5L920.5 405.6L921.0 405.9L921.5 406.2L922.0 406.6L922.5 407.1L923.0 407.7L923.5 408.4L924.0 409.0L924.5 409.7L925.0 410.2L925.5 410.7L926.0 411.2L926.5 411.6L927.0 412.0L927.5 412.4L928.0 412.9L928.5 413.5L929.0 414.0L929.5 414.7L930.0 415.4L930.5 416.1L931.0 417.0L931.5 418.0L932.0 419.0L932.5 420.1L933.0 421.2L933.5 422.4L934.0 423.5L934.5 424.5L935.0 425.5L935.5 426.4L936.0 427.1L936.5 427.8L937.0 428.4L937.5 429.1L938.0 429.9L938.5 430.8L939.0 431.8L939.5 432.9L940.0 433.9L940.5 434.8L941.0 435.6L941.5 436.2L942.0 436.6L942.5 436.8L943.0 437.0L943.5 437.1L944.0 437.2L944.5 437.2L945.0 437.2L945.5 437.2L946.0 437.1L946.5 437.1L947.0 437.0L947.5 437.1L948.0 437.2L948.5 437.4L949.0 437.8L949.5 438.2L950.0 438.6L950.5 439.1L951.0 439.6L951.5 440.3L952.0 441.3L952.5 442.5L953.0 443.8L953.5 445.3L954.0 446.8L954.5 448.4L955.0 450.0L955.5 451.5L956.0 452.9L956.5 454.4L957.0 456.0L957.5 457.6L958.0 459.2L958.5 460.7L959.0 462.1L959.5 463.4L960.0 464.5L960.5 465.3L961.0 465.8L961.5 466.2L962.0 466.5L962.5 466.7L963.0 466.8L963.5 466.9L964.0 467.1L964.5 467.3L965.0 467.6L965.5 468.0L966.0 468.3L966.5 468.7L967.0 469.0L967.5 469.1L968.0 469.1L968.5 469.0L969.0 468.8L969.5 468.5L970.0 468.2L970.5 467.8L971.0 467.4L971.5 467.0L972.0 466.6L972.5 466.1L973.0 465.6L973.5 465.2L974.0 464.8L974.5 464.5L975.0 464.2L975.5 463.8L976.0 463.3L976.5 462.7L977.0 462.0L977.5 461.1L978.0 460.1L978.5 458.9L979.0 457.6L979.5 456.3L980.0 455.2L980.5 454.1L981.0 453.3L981.5 452.7L982.0 452.4L982.5 452.3L983.0 452.2L983.5 452.1L984.0 452.1L984.5 452.0L985.0 452.0L985.5 451.9L986.0 451.8L986.5 451.8L987.0 451.7L987.5 451.5L988.0 451.2L988.5 450.9L989.0 450.5L989.5 450.1L990.0 449.7L990.5 449.5L991.0 449.4L991.5 449.5L992.0 449.6L992.5 449.9L993.0 450.1L993.5 450.3L994.0 450.4L994.5 450.4L995.0 450.3L995.5 450.1L996.0 449.8L996.5 449.6L997.0 449.3L997.5 449.1L998.0 448.8L998.5 448.6L999.0 448.4L999.5 448.2L1000.0 447.9L1000.5 447.5L1001.0 447.1L1001.5 446.6L1002.0 446.1L1002.5 445.5L1003.0 444.7L1003.5 443.9L1004.0 442.9L1004.5 441.8L1005.0 440.5L1005.5 439.1L1006.0 437.8L1006.5 436.6L1007.0 435.5L1007.5 434.6L1008.0 433.7L1008.5 432.8L1009.0 432.0L1009.5 431.2L1010.0 430.5L1010.5 429.7L1011.0 429.0L1011.5 428.4L1012.0 428.0L1012.5 427.6L1013.0 427.5L1013.5 427.5L1014.0 427.4L1014.5 427.2L1015.0 427.0L1015.5 426.8L1016.0 426.5L1016.5 426.4L1017.0 426.3L1017.5 426.4L1018.0 426.7L1018.5 427.0L1019.0 427.5L1019.5 427.9L1020.0 428.2L1020.5 428.4L1021.0 428.5L1021.5 428.4L1022.0 428.3L1022.5 428.1L1023.0 427.9L1023.5 427.9L1024.0 427.9L1024.5 428.1L1025.0 428.4L1025.5 428.8L1026.0 429.3L1026.5 429.9L1027.0 430.6L1027.5 431.4L1028.0 432.2L1028.5 433.1L1029.0 434.1L1029.5 435.1L1030.0 435.9L1030.5 436.7L1031.0 437.4L1031.5 438.2L1032.0 439.3L1032.5 440.5L1033.0 441.8L1033.5 443.3L1034.0 444.9L1034.5 446.5L1035.0 448.1L1035.5 449.4L1036.0 450.5L1036.5 451.5L1037.0 452.3L1037.5 453.1L1038.0 453.8L1038.5 454.4L1039.0 454.9L1039.5 455.4L1040.0 455.7L1040.5 455.9L1041.0 456.0L1041.5 455.9L1042.0 455.7L1042.5 455.5L1043.0 455.3L1043.5 455.2L1044.0 455.2L1044.5 455.3L1045.0 455.5L1045.5 455.7L1046.0 455.9L1046.5 456.1L1047.0 456.0L1047.5 455.9L1048.0 455.6L1048.5 455.3L1049.0 455.1L1049.5 454.8L1050.0 454.7L1050.5 454.7L1051.0 454.8L1051.5 454.9L1052.0 455.2L1052.5 455.4L1053.0 455.7L1053.5 456.0L1054.0 456.4L1054.5 456.8L1055.0 457.2L1055.5 457.6L1056.0 458.0L1056.5 458.2L1057.0 458.3L1057.5 458.3L1058.0 458.2L1058.5 458.0L1059.0 457.9L1059.5 457.9L1060.0 458.0L1060.5 458.4L1061.0 459.0L1061.5 459.6L1062.0 460.3L1062.5 461.1L1063.0 461.7L1063.5 462.3L1064.0 462.7L1064.5 463.1L1065.0 463.3L1065.5 463.6L1066.0 463.8L1066.5 464.0L1067.0 464.2L1067.5 464.4L1068.0 464.5L1068.5 464.6L1069.0 464.7L1069.5 464.9L1070.0 465.1L1070.5 465.4L1071.0 465.9L1071.5 466.3L1072.0 466.7L1072.5 466.9L1073.0 466.6L1073.5 465.9L1074.0 464.8L1074.5 463.6L1075.0 462.2L1075.5 460.8L1076.0 459.6L1076.5 458.6L1077.0 457.9L1077.5 457.5L1078.0 457.1L1078.5 456.8L1079.0 456.5L1079.5 456.3L1080.0 456.0L1080.5 455.7L1081.0 455.5L1081.5 455.3L1082.0 455.1L1082.5 454.8L1083.0 454.5L1083.5 454.1L1084.0 453.6L1084.5 453.1L1085.0 452.6L1085.5 452.2L1086.0 452.1L1086.5 452.3L1087.0 452.9L1087.5 453.8L1088.0 454.8L1088.5 455.8L1089.0 456.6L1089.5 457.0L1090.0 457.0L1090.5 456.8L1091.0 456.4L1091.5 455.9L1092.0 455.2L1092.5 454.6L1093.0 453.9L1093.5 453.2L1094.0 452.5L1094.5 451.8L1095.0 451.2L1095.5 450.7L1096.0 450.2L1096.5 449.8L1097.0 449.4L1097.5 449.1L1098.0 448.8L1098.5 448.5L1099.0 448.1L1099.5 447.5L1100.0 446.8L1100.5 446.0L1101.0 445.1L1101.5 444.2L1102.0 443.5L1102.5 443.0L1103.0 442.8L1103.5 442.8L1104.0 443.0L1104.5 443.2L1105.0 443.6L1105.5 443.9L1106.0 444.2L1106.5 444.5L1107.0 444.7L1107.5 444.9L1108.0 445.1L1108.5 445.3L1109.0 445.3L1109.5 445.3L1110.0 445.2L1110.5 445.0L1111.0 444.7L1111.5 444.4L1112.0 444.1L1112.5 443.9L1113.0 443.9L1113.5 444.0L1114.0 444.3L1114.5 444.5L1115.0 444.8L1115.5 445.0L1116.0 445.0L1116.5 444.8L1117.0 444.5L1117.5 444.1L1118.0 443.6L1118.5 443.1L1119.0 442.6L1119.5 442.2L1120.0 441.9L1120.5 441.7L1121.0 441.5L1121.5 441.4L1122.0 441.4L1122.5 441.4L1123.0 441.5L1123.5 441.8L1124.0 442.0L1124.5 442.3L1125.0 442.6L1125.5 442.7L1126.0 442.7L1126.5 442.5L1127.0 442.2L1127.5 441.7L1128.0 441.2L1128.5 440.8L1129.0 440.5L1129.5 440.4L1130.0 440.5L1130.5 440.9L1131.0 441.7L1131.5 442.6L1132.0 443.8L1132.5 444.9L1133.0 446.0L1133.5 447.0L1134.0 447.8L1134.5 448.5L1135.0 449.0L1135.5 449.2L1136.0 449.0L1136.5 448.7L1137.0 448.3L1137.5 447.8L1138.0 447.4L1138.5 447.0L1139.0 446.8L1139.5 446.7L1140.0 446.9L1140.5 447.3L1141.0 447.8L1141.5 448.8L1142.0 450.1L1142.5 451.6L1143.0 453.1L1143.5 454.8L1144.0 456.4L1144.5 458.1L1145.0 459.9L1145.5 461.7L1146.0 463.5L1146.5 465.2L1147.0 466.8L1147.5 468.3L1148.0 470.0L1148.5 471.8L1149.0 473.6L1149.5 475.5L1150.0 477.4L1150.5 479.1L1151.0 480.7L1151.5 482.1L1152.0 483.0L1152.5 483.5L1153.0 483.4L1153.5 483.0L1154.0 482.3L1154.5 481.6L1155.0 480.9L1155.5 480.3L1156.0 479.9L1156.5 479.8L1157.0 479.8L1157.5 479.9L1158.0 480.2L1158.5 480.5L1159.0 481.1L1159.5 481.9L1160.0 482.9L1160.5 484.1L1161.0 485.4L1161.5 486.8L1162.0 488.3L1162.5 489.7L1163.0 491.0L1163.5 492.2L1164.0 493.3L1164.5 494.1L1165.0 494.9L1165.5 495.8L1166.0 496.8L1166.5 498.0L1167.0 499.2L1167.5 500.4L1168.0 501.6L1168.5 502.5L1169.0 503.3L1169.5 503.8L1170.0 504.2L1170.5 504.4L1171.0 504.6L1171.5 504.9L1172.0 505.3L1172.5 505.8L1173.0 506.4L1173.5 507.2L1174.0 508.1L1174.5 509.0L1175.0 510.0L1175.5 510.9L1176.0 511.9L1176.5 512.9L1177.0 514.0L1177.5 514.9L1178.0 515.8L1178.5 516.5L1179.0 517.0L1179.5 517.3L1180.0 517.4L1180.5 517.4L1181.0 517.4L1181.5 517.4L1182.0 517.4L1182.5 517.7L1183.0 518.1L1183.5 518.7L1184.0 519.3L1184.5 519.8L1185.0 520.3L1185.5 520.5L1186.0 520.7L1186.5 520.6L1187.0 520.5L1187.5 520.3L1188.0 520.1L1188.5 520.0L1189.0 519.8L1189.5 519.6L1190.0 519.2L1190.5 518.7L1191.0 518.0L1191.5 517.3L1192.0 516.7L1192.5 516.2L1193.0 515.9L1193.5 515.8L1194.0 515.9L1194.5 516.1L1195.0 516.3L1195.5 516.5L1196.0 516.5L1196.5 516.5L1197.0 516.3L1197.5 516.2L1198.0 516.2L1198.5 516.2L1199.0 516.4L1199.5 516.5L1200.0 516.5L1200.5 516.1L1201.0 515.4L1201.5 514.4L1202.0 513.1L1202.5 511.6L1203.0 510.0L1203.5 508.3L1204.0 506.7L1204.5 505.1L1205.0 503.6L1205.5 502.2L1206.0 500.9L1206.5 499.7L1207.0 498.5L1207.5 497.4L1208.0 496.5L1208.5 495.8L1209.0 495.4L1209.5 495.2L1210.0 495.1L1210.5 495.0L1211.0 494.8L1211.5 494.3L1212.0 493.7L1212.5 492.7L1213.0 491.6L1213.5 490.4L1214.0 489.1L1214.5 487.8L1215.0 486.5L1215.5 485.3L1216.0 484.1L1216.5 482.9L1217.0 481.7L1217.5 480.6L1218.0 479.5L1218.5 478.6L1219.0 477.8L1219.5 477.1L1220.0 476.4L1220.5 475.7L1221.0 474.9L1221.5 474.0L1222.0 472.9L1222.5 471.6L1223.0 470.2L1223.5 468.8L1224.0 467.5L1224.5 466.4L1225.0 465.6L1225.5 464.9L1226.0 464.5L1226.5 464.2L1227.0 464.0L1227.5 463.7L1228.0 463.4L1228.5 463.1L1229.0 462.7L1229.5 462.2L1230.0 461.7L1230.5 461.2L1231.0 460.6L1231.5 459.9L1232.0 459.1L1232.5 458.3L1233.0 457.4L1233.5 456.5L1234.0 455.7L1234.5 455.1L1235.0 454.6L1235.5 454.4L1236.0 454.3L1236.5 454.4L1237.0 454.3L1237.5 454.2L1238.0 453.7L1238.5 453.0L1239.0 452.1L1239.5 451.0L1240.0 449.8L1240.5 448.8L1241.0 447.8L1241.5 447.1L1242.0 446.6L1242.5 446.3L1243.0 446.2L1243.5 446.3L1244.0 446.7L1244.5 447.1L1245.0 447.8L1245.5 448.5L1246.0 449.3L1246.5 450.1L1247.0 450.8L1247.5 451.2L1248.0 451.2L1248.5 450.9L1249.0 450.3L1249.5 449.5L1250.0 448.5L1250.5 447.6L1251.0 446.8L1251.5 446.1L1252.0 445.6L1252.5 445.2L1253.0 444.8L1253.5 444.5L1254.0 444.1L1254.5 443.6L1255.0 442.9L1255.5 442.2L1256.0 441.4L1256.5 440.6L1257.0 439.8L1257.5 439.0L1258.0 438.3L1258.5 437.6L1259.0 436.9L1259.5 436.3L1260.0 435.8L1260.5 435.5L1261.0 435.3L1261.5 435.3L1262.0 435.5L1262.5 435.9L1263.0 436.3L1263.5 436.7L1264.0 437.0L1264.5 437.0L1265.0 436.8L1265.5 436.4L1266.0 435.8L1266.5 435.3L1267.0 434.8L1267.5 434.3L1268.0 434.1L1268.5 433.9L1269.0 433.9L1269.5 433.9L1270.0 434.0L1270.5 434.0L1271.0 434.1L1271.5 434.2L1272.0 434.3L1272.5 434.4L1273.0 434.5L1273.5 434.4L1274.0 434.2L1274.5 433.8L1275.0 433.2L1275.5 432.4L1276.0 431.6L1276.5 430.8L1277.0 430.1L1277.5 429.6L1278.0 429.4L1278.5 429.4L1279.0 429.7L1279.5 430.0L1280.0 430.4L1280.5 430.7L1281.0 431.0L1281.5 431.0L1282.0 431.0L1282.5 430.9L1283.0 430.7L1283.5 430.6L1284.0 430.4L1284.5 430.2L1285.0 430.1L1285.5 429.9L1286.0 429.8L1286.5 429.8L1287.0 429.8L1287.5 430.0L1288.0 430.4L1288.5 430.9L1289.0 431.5L1289.5 432.2L1290.0 432.8L1290.5 433.2L1291.0 433.3L1291.5 433.3L1292.0 433.0L1292.5 432.7L1293.0 432.3L1293.5 432.0L1294.0 431.9L1294.5 431.9L1295.0 432.1L1295.5 432.4L1296.0 432.8L1296.5 433.3L1297.0 433.7L1297.5 434.1L1298.0 434.5L1298.5 434.9L1299.0 435.2L1299.5 435.6L1300.0 435.9L1300.5 436.0L1301.0 436.0L1301.5 435.9L1302.0 435.6L1302.5 435.4L1303.0 435.1L1303.5 435.0L1304.0 435.2L1304.5 435.6L1305.0 436.2L1305.5 436.9L1306.0 437.7L1306.5 438.4L1307.0 439.0L1307.5 439.4L1308.0 439.6L1308.5 439.7L1309.0 439.7L1309.5 439.7L1310.0 439.7L1310.5 439.7L1311.0 439.8L1311.5 440.0L1312.0 440.1L1312.5 440.3L1313.0 440.6L1313.5 441.0L1314.0 441.5L1314.5 442.1L1315.0 442.9L1315.5 443.7L1316.0 444.5L1316.5 445.2L1317.0 445.7L1317.5 446.0L1318.0 446.0L1318.5 445.9L1319.0 445.8L1319.5 445.6L1320.0 445.6L1320.5 445.7L1321.0 446.1L1321.5 446.6L1322.0 447.2L1322.5 447.9L1323.0 448.6L1323.5 449.2L1324.0 449.8L1324.5 450.3L1325.0 450.8L1325.5 451.3L1326.0 451.7L1326.5 452.1L1327.0 452.4L1327.5 452.7L1328.0 452.8L1328.5 452.9L1329.0 453.1L1329.5 453.4L1330.0 453.9L1330.5 454.6L1331.0 455.8L1331.5 457.8L1332.0 460.3L1332.5 462.9L1333.0 465.3L1333.5 466.9L1334.0 467.5L1334.5 465.5L1335.0 461.5L1335.5 458.3L1336.0 457.6L1336.5 457.2L1337.0 457.0L1337.5 456.8L1338.0 456.7L1338.5 456.7L1339.0 456.7L1339.5 456.7L1340.0 456.9L1340.5 457.1L1341.0 457.4L1341.5 457.8L1342.0 458.2L1342.5 458.5L1343.0 458.7L1343.5 458.8L1344.0 458.9L1344.5 458.8L1345.0 458.6L1345.5 458.5L1346.0 458.5L1346.5 458.7L1347.0 459.1L1347.5 459.7L1348.0 460.5L1348.5 461.3L1349.0 462.1L1349.5 462.8L1350.0 463.3L1350.5 463.7L1351.0 464.0L1351.5 464.3L1352.0 464.5L1352.5 464.6L1353.0 464.7L1353.5 464.7L1354.0 464.6L1354.5 464.4L1355.0 464.2L1355.5 463.9L1356.0 463.8L1356.5 463.7L1357.0 463.9L1357.5 464.1L1358.0 464.3L1358.5 464.4L1359.0 464.4L1359.5 464.3L1360.0 463.9L1360.5 463.3L1361.0 462.6L1361.5 462.0L1362.0 461.4L1362.5 461.0L1363.0 461.0L1363.5 461.1L1364.0 461.5L1364.5 462.0L1365.0 462.5L1365.5 463.1L1366.0 463.6L1366.5 464.1L1367.0 464.4L1367.5 464.5L1368.0 464.4L1368.5 464.1L1369.0 463.7L1369.5 463.2L1370.0 462.6L1370.5 462.1L1371.0 461.7L1371.5 461.5L1372.0 461.6L1372.5 461.9L1373.0 462.4L1373.5 463.0L1374.0 463.7L1374.5 464.2L1375.0 464.6L1375.5 464.9L1376.0 465.0L1376.5 464.9L1377.0 464.6L1377.5 464.1L1378.0 463.6L1378.5 463.0L1379.0 462.4L1379.5 461.9L1380.0 461.4L1380.5 461.0L1381.0 460.7L1381.5 460.5L1382.0 460.4L1382.5 460.4L1383.0 460.5L1383.5 460.9L1384.0 461.4L1384.5 462.0L1385.0 462.7L1385.5 463.3L1386.0 463.7L1386.5 463.9L1387.0 463.7L1387.5 463.3L1388.0 462.7L1388.5 462.0L1389.0 461.3L1389.5 460.7L1390.0 460.2L1390.5 459.9L1391.0 459.7L1391.5 459.6L1392.0 459.5L1392.5 459.5L1393.0 459.5L1393.5 459.5L1394.0 459.5L1394.5 459.4L1395.0 459.4L1395.5 459.3L1396.0 459.0L1396.5 458.6L1397.0 458.1" fill="none" stroke="#0000ff" stroke-width="4.6" stroke-linejoin="round" stroke-linecap="butt"/>
<path d="M89.5 632.7L90.0 632.7L90.5 632.5L91.0 632.4L91.5 632.3L92.0 632.2L92.5 632.1L93.0 632.1L93.5 632.1L94.0 632.1L94.5 632.1L95.0 632.2L95.5 632.3L96.0 632.4L96.5 632.5L97.0 632.5L97.5 632.5L98.0 632.4L98.5 632.3L99.0 632.2L99.5 632.1L100.0 632.0L100.5 631.9L101.0 631.8L101.5 631.7L102.0 631.7L102.5 631.7L103.0 631.8L103.5 631.9L104.0 631.9L104.5 632.0L105.0 632.1L105.5 632.1L106.0 632.2L106.5 632.1L107.0 632.1L107.5 632.0L108.0 631.8L108.5 631.7L109.0 631.6L109.5 631.5L110.0 631.4L110.5 631.4L111.0 631.4L111.5 631.4L112.0 631.5L112.5 631.6L113.0 631.7L113.5 631.8L114.0 631.8L114.5 631.9L115.0 631.9L115.5 631.8L116.0 631.7L116.5 631.6L117.0 631.5L117.5 631.4L118.0 631.3L118.5 631.2L119.0 631.1L119.5 631.1L120.0 631.2L120.5 631.2L121.0 631.3L121.5 631.4L122.0 631.5L122.5 631.6L123.0 631.6L123.5 631.7L124.0 631.6L124.5 631.6L125.0 631.5L125.5 631.3L126.0 631.2L126.5 631.1L127.0 631.0L127.5 631.0L128.0 631.0L128.5 631.0L129.0 631.1L129.5 631.1L130.0 631.2L130.5 631.4L131.0 631.4L131.5 631.5L132.0 631.5L132.5 631.5L133.0 631.5L133.5 631.4L134.0 631.3L134.5 631.2L135.0 631.1L135.5 631.0L136.0 630.9L136.5 630.9L137.0 630.9L137.5 631.0L138.0 631.1L138.5 631.2L139.0 631.3L139.5 631.4L140.0 631.4L140.5 631.5L141.0 631.5L141.5 631.5L142.0 631.4L142.5 631.3L143.0 631.2L143.5 631.1L144.0 631.0L144.5 630.9L145.0 630.9L145.5 630.9L146.0 630.9L146.5 631.0L147.0 631.1L147.5 631.2L148.0 631.3L148.5 631.4L149.0 631.5L149.5 631.5L150.0 631.5L150.5 631.4L151.0 631.4L151.5 631.3L152.0 631.1L152.5 631.0L153.0 631.0L153.5 630.9L154.0 630.9L154.5 630.9L155.0 631.0L155.5 631.1L156.0 631.2L156.5 631.3L157.0 631.4L157.5 631.5L158.0 631.5L158.5 631.5L159.0 631.5L159.5 631.4L160.0 631.3L160.5 631.2L161.0 631.1L161.5 631.0L162.0 630.9L162.5 630.9L163.0 630.9L163.5 630.9L164.0 631.0L164.5 631.1L165.0 631.2L165.5 631.4L166.0 631.4L166.5 631.5L167.0 631.5L167.5 631.5L168.0 631.4L168.5 631.3L169.0 631.2L169.5 631.1L170.0 631.0L170.5 630.9L171.0 630.9L171.5 630.9L172.0 630.9L172.5 631.0L173.0 631.1L173.5 631.2L174.0 631.3L174.5 631.4L175.0 631.5L175.5 631.5L176.0 631.5L176.5 631.6L177.0 631.7L177.5 631.8L178.0 631.9L178.5 632.1L179.0 632.3L179.5 632.6L180.0 632.8L180.5 633.1L181.0 633.4L181.5 633.7L182.0 634.0L182.5 634.2L183.0 634.4L183.5 634.4L184.0 634.4L184.5 634.3L185.0 634.2L185.5 633.9L186.0 633.7L186.5 633.4L187.0 633.0L187.5 632.7L188.0 632.4L188.5 632.2L189.0 631.9L189.5 631.8L190.0 631.7L190.5 631.6L191.0 631.5L191.5 631.5L192.0 631.5L192.5 631.5L193.0 631.5L193.5 631.5L194.0 631.5L194.5 631.4L195.0 631.3L195.5 631.2L196.0 631.1L196.5 631.1L197.0 631.1L197.5 631.1L198.0 631.2L198.5 631.3L199.0 631.4L199.5 631.6L200.0 631.8L200.5 632.0L201.0 632.1L201.5 632.2L202.0 632.3L202.5 632.4L203.0 632.4L203.5 632.4L204.0 632.3L204.5 632.3L205.0 632.3L205.5 632.3L206.0 632.4L206.5 632.5L207.0 632.7L207.5 632.9L208.0 633.1L208.5 633.3L209.0 633.5L209.5 633.7L210.0 633.9L210.5 634.0L211.0 634.1L211.5 634.2L212.0 634.2L212.5 634.3L213.0 634.4L213.5 634.4L214.0 634.6L214.5 634.7L215.0 634.9L215.5 635.2L216.0 635.5L216.5 635.9L217.0 636.2L217.5 636.6L218.0 637.0L218.5 637.3L219.0 637.6L219.5 637.9L220.0 638.2L220.5 638.4L221.0 638.6L221.5 638.8L222.0 639.0L222.5 639.2L223.0 639.4L223.5 639.7L224.0 640.0L224.5 640.4L225.0 640.7L225.5 641.2L226.0 641.6L226.5 642.0L227.0 642.4L227.5 642.8L228.0 643.1L228.5 643.5L229.0 643.8L229.5 644.0L230.0 644.3L230.5 644.5L231.0 644.8L231.5 645.1L232.0 645.5L232.5 645.8L233.0 646.3L233.5 646.7L234.0 647.2L234.5 647.7L235.0 648.1L235.5 648.6L236.0 649.0L236.5 649.4L237.0 649.7L237.5 650.0L238.0 650.2L238.5 650.4L239.0 650.5L239.5 650.7L240.0 650.9L240.5 651.1L241.0 651.4L241.5 651.7L242.0 652.1L242.5 652.4L243.0 652.8L243.5 653.2L244.0 653.6L244.5 653.9L245.0 654.3L245.5 654.5L246.0 654.8L246.5 654.9L247.0 655.1L247.5 655.2L248.0 655.4L248.5 655.5L249.0 655.7L249.5 655.9L250.0 656.2L250.5 656.5L251.0 656.8L251.5 657.2L252.0 657.5L252.5 657.9L253.0 658.2L253.5 658.5L254.0 658.8L254.5 659.0L255.0 659.1L255.5 659.3L256.0 659.4L256.5 659.5L257.0 659.6L257.5 659.8L258.0 660.0L258.5 660.2L259.0 660.4L259.5 660.7L260.0 661.1L260.5 661.4L261.0 661.7L261.5 662.1L262.0 662.4L262.5 662.6L263.0 662.8L263.5 663.0L264.0 663.1L264.5 663.2L265.0 663.4L265.5 663.5L266.0 663.6L266.5 663.8L267.0 664.0L267.5 664.2L268.0 664.5L268.5 664.8L269.0 665.2L269.5 665.5L270.0 665.9L270.5 666.2L271.0 666.5L271.5 666.7L272.0 666.9L272.5 667.0L273.0 667.2L273.5 667.3L274.0 667.4L274.5 667.5L275.0 667.6L275.5 667.8L276.0 668.0L276.5 668.2L277.0 668.5L277.5 668.8L278.0 669.1L278.5 669.4L279.0 669.7L279.5 669.9L280.0 670.1L280.5 670.3L281.0 670.4L281.5 670.4L282.0 670.5L282.5 670.5L283.0 670.5L283.5 670.5L284.0 670.6L284.5 670.7L285.0 670.8L285.5 671.0L286.0 671.1L286.5 671.4L287.0 671.6L287.5 671.8L288.0 671.9L288.5 672.1L289.0 672.1L289.5 672.2L290.0 672.2L290.5 672.2L291.0 672.1L291.5 672.1L292.0 672.1L292.5 672.1L293.0 672.1L293.5 672.2L294.0 672.3L294.5 672.4L295.0 672.6L295.5 672.8L296.0 672.9L296.5 673.1L297.0 673.2L297.5 673.2L298.0 673.2L298.5 673.2L299.0 673.1L299.5 673.0L300.0 672.9L300.5 672.8L301.0 672.7L301.5 672.6L302.0 672.6L302.5 672.6L303.0 672.6L303.5 672.6L304.0 672.6L304.5 672.6L305.0 672.6L305.5 672.6L306.0 672.5L306.5 672.3L307.0 672.1L307.5 671.9L308.0 671.6L308.5 671.3L309.0 671.0L309.5 670.8L310.0 670.5L310.5 670.3L311.0 670.1L311.5 670.0L312.0 669.9L312.5 669.8L313.0 669.7L313.5 669.6L314.0 669.5L314.5 669.4L315.0 669.2L315.5 669.0L316.0 668.7L316.5 668.4L317.0 668.1L317.5 667.8L318.0 667.5L318.5 667.2L319.0 666.9L319.5 666.7L320.0 666.5L320.5 666.3L321.0 666.2L321.5 666.0L322.0 665.9L322.5 665.7L323.0 665.5L323.5 665.3L324.0 665.0L324.5 664.7L325.0 664.3L325.5 663.9L326.0 663.5L326.5 663.1L327.0 662.8L327.5 662.4L328.0 662.2L328.5 661.9L329.0 661.7L329.5 661.6L330.0 661.4L330.5 661.3L331.0 661.2L331.5 661.0L332.0 660.8L332.5 660.5L333.0 660.2L333.5 659.9L334.0 659.5L334.5 659.1L335.0 658.7L335.5 658.4L336.0 658.0L336.5 657.7L337.0 657.5L337.5 657.3L338.0 657.1L338.5 656.9L339.0 656.8L339.5 656.7L340.0 656.5L340.5 656.3L341.0 656.1L341.5 655.8L342.0 655.5L342.5 655.2L343.0 654.8L343.5 654.5L344.0 654.1L344.5 653.8L345.0 653.6L345.5 653.4L346.0 653.2L346.5 653.1L347.0 653.0L347.5 652.9L348.0 652.8L348.5 652.7L349.0 652.6L349.5 652.5L350.0 652.3L350.5 652.0L351.0 651.8L351.5 651.5L352.0 651.2L352.5 650.9L353.0 650.6L353.5 650.4L354.0 650.2L354.5 650.0L355.0 649.9L355.5 649.8L356.0 649.8L356.5 649.7L357.0 649.7L357.5 649.6L358.0 649.5L358.5 649.3L359.0 649.1L359.5 648.9L360.0 648.6L360.5 648.4L361.0 648.1L361.5 647.8L362.0 647.6L362.5 647.4L363.0 647.2L363.5 647.1L364.0 647.0L364.5 647.0L365.0 647.0L365.5 646.9L366.0 646.9L366.5 646.8L367.0 646.7L367.5 646.5L368.0 646.3L368.5 646.0L369.0 645.8L369.5 645.5L370.0 645.2L370.5 645.0L371.0 644.8L371.5 644.6L372.0 644.5L372.5 644.4L373.0 644.3L373.5 644.3L374.0 644.3L374.5 644.2L375.0 644.2L375.5 644.0L376.0 643.9L376.5 643.7L377.0 643.4L377.5 643.2L378.0 642.9L378.5 642.6L379.0 642.3L379.5 642.1L380.0 641.9L380.5 641.8L381.0 641.7L381.5 641.6L382.0 641.5L382.5 641.5L383.0 641.5L383.5 641.4L384.0 641.3L384.5 641.2L385.0 641.0L385.5 640.7L386.0 640.5L386.5 640.2L387.0 639.9L387.5 639.6L388.0 639.4L388.5 639.2L389.0 639.0L389.5 638.9L390.0 638.8L390.5 638.7L391.0 638.7L391.5 638.7L392.0 638.6L392.5 638.5L393.0 638.4L393.5 638.3L394.0 638.0L394.5 637.8L395.0 637.5L395.5 637.2L396.0 637.0L396.5 636.7L397.0 636.5L397.5 636.3L398.0 636.2L398.5 636.1L399.0 636.1L399.5 636.0L400.0 636.0L400.5 636.0L401.0 635.9L401.5 635.8L402.0 635.7L402.5 635.5L403.0 635.3L403.5 635.1L404.0 634.8L404.5 634.5L405.0 634.3L405.5 634.1L406.0 633.9L406.5 633.8L407.0 633.7L407.5 633.6L408.0 633.6L408.5 633.6L409.0 633.6L409.5 633.6L410.0 633.5L410.5 633.4L411.0 633.3L411.5 633.1L412.0 632.9L412.5 632.7L413.0 632.4L413.5 632.2L414.0 632.0L414.5 631.8L415.0 631.7L415.5 631.6L416.0 631.6L416.5 631.6L417.0 631.6L417.5 631.6L418.0 631.6L418.5 631.6L419.0 631.5L419.5 631.4L420.0 631.2L420.5 631.0L421.0 630.8L421.5 630.6L422.0 630.3L422.5 630.1L423.0 629.9L423.5 629.8L424.0 629.7L424.5 629.7L425.0 629.6L425.5 629.7L426.0 629.7L426.5 629.7L427.0 629.7L427.5 629.6L428.0 629.6L428.5 629.4L429.0 629.3L429.5 629.1L430.0 628.8L430.5 628.6L431.0 628.4L431.5 628.2L432.0 628.1L432.5 628.0L433.0 627.9L433.5 627.9L434.0 627.9L434.5 627.9L435.0 628.0L435.5 628.0L436.0 628.0L436.5 627.9L437.0 627.8L437.5 627.7L438.0 627.5L438.5 627.3L439.0 627.1L439.5 626.9L440.0 626.7L440.5 626.6L441.0 626.5L441.5 626.5L442.0 626.4L442.5 626.5L443.0 626.5L443.5 626.6L444.0 626.6L444.5 626.7L445.0 626.7L445.5 626.6L446.0 626.5L446.5 626.4L447.0 626.2L447.5 626.1L448.0 625.9L448.5 625.7L449.0 625.6L449.5 625.5L450.0 625.4L450.5 625.5L451.0 625.5L451.5 625.6L452.0 625.7L452.5 625.7L453.0 625.8L453.5 625.9L454.0 625.8L454.5 625.8L455.0 625.7L455.5 625.6L456.0 625.4L456.5 625.2L457.0 625.1L457.5 625.0L458.0 624.9L458.5 624.8L459.0 624.8L459.5 624.9L460.0 624.9L460.5 625.0L461.0 625.1L461.5 625.2L462.0 625.3L462.5 625.3L463.0 625.3L463.5 625.2L464.0 625.1L464.5 625.0L465.0 624.8L465.5 624.7L466.0 624.5L466.5 624.4L467.0 624.4L467.5 624.3L468.0 624.4L468.5 624.4L469.0 624.5L469.5 624.7L470.0 624.8L470.5 624.8L471.0 624.9L471.5 624.9L472.0 624.8L472.5 624.7L473.0 624.6L473.5 624.5L474.0 624.3L474.5 624.2L475.0 624.0L475.5 624.0L476.0 623.9L476.5 624.0L477.0 624.0L477.5 624.1L478.0 624.2L478.5 624.3L479.0 624.4L479.5 624.5L480.0 624.5L480.5 624.4L481.0 624.4L481.5 624.2L482.0 624.1L482.5 623.9L483.0 623.8L483.5 623.7L484.0 623.6L484.5 623.5L485.0 623.5L485.5 623.5L486.0 623.6L486.5 623.7L487.0 623.8L487.5 623.9L488.0 624.0L488.5 624.0L489.0 624.0L489.5 623.9L490.0 623.8L490.5 623.6L491.0 623.5L491.5 623.3L492.0 623.2L492.5 623.0L493.0 622.9L493.5 622.9L494.0 622.9L494.5 623.0L495.0 623.0L495.5 623.1L496.0 623.2L496.5 623.3L497.0 623.3L497.5 623.3L498.0 623.2L498.5 623.1L499.0 623.0L499.5 622.8L500.0 622.6L500.5 622.5L501.0 622.3L501.5 622.2L502.0 622.2L502.5 622.2L503.0 622.2L503.5 622.2L504.0 622.3L504.5 622.4L505.0 622.5L505.5 622.5L506.0 622.5L506.5 622.5L507.0 622.4L507.5 622.3L508.0 622.1L508.5 622.0L509.0 621.8L509.5 621.6L510.0 621.5L510.5 621.5L511.0 621.4L511.5 621.4L512.0 621.5L512.5 621.6L513.0 621.7L513.5 621.8L514.0 621.9L514.5 621.9L515.0 621.9L515.5 621.8L516.0 621.7L516.5 621.6L517.0 621.5L517.5 621.3L518.0 621.1L518.5 621.0L519.0 621.0L519.5 620.9L520.0 621.0L520.5 621.0L521.0 621.1L521.5 621.2L522.0 621.4L522.5 621.5L523.0 621.5L523.5 621.6L524.0 621.6L524.5 621.5L525.0 621.4L525.5 621.3L526.0 621.2L526.5 621.0L527.0 620.9L527.5 620.9L528.0 620.8L528.5 620.9L529.0 620.9L529.5 621.1L530.0 621.2L530.5 621.3L531.0 621.5L531.5 621.6L532.0 621.6L532.5 621.7L533.0 621.6L533.5 621.6L534.0 621.5L534.5 621.3L535.0 621.2L535.5 621.1L536.0 621.0L536.5 621.0L537.0 621.0L537.5 621.1L538.0 621.2L538.5 621.3L539.0 621.5L539.5 621.6L540.0 621.8L540.5 621.9L541.0 621.9L541.5 621.9L542.0 621.9L542.5 621.8L543.0 621.7L543.5 621.6L544.0 621.5L544.5 621.4L545.0 621.3L545.5 621.4L546.0 621.4L546.5 621.5L547.0 621.6L547.5 621.8L548.0 621.9L548.5 622.1L549.0 622.2L549.5 622.3L550.0 622.3L550.5 622.3L551.0 622.2L551.5 622.1L552.0 622.0L552.5 621.9L553.0 621.8L553.5 621.8L554.0 621.7L554.5 621.8L555.0 621.9L555.5 622.0L556.0 622.1L556.5 622.3L557.0 622.4L557.5 622.6L558.0 622.7L558.5 622.7L559.0 622.7L559.5 622.6L560.0 622.6L560.5 622.5L561.0 622.3L561.5 622.2L562.0 622.2L562.5 622.1L563.0 622.1L563.5 622.2L564.0 622.3L564.5 622.5L565.0 622.6L565.5 622.8L566.0 622.9L566.5 623.0L567.0 623.1L567.5 623.1L568.0 623.1L568.5 623.0L569.0 622.9L569.5 622.8L570.0 622.7L570.5 622.7L571.0 622.6L571.5 622.6L572.0 622.7L572.5 622.8L573.0 622.9L573.5 623.1L574.0 623.3L574.5 623.4L575.0 623.6L575.5 623.7L576.0 623.7L576.5 623.7L577.0 623.7L577.5 623.6L578.0 623.5L578.5 623.4L579.0 623.3L579.5 623.2L580.0 623.2L580.5 623.3L581.0 623.4L581.5 623.5L582.0 623.6L582.5 623.8L583.0 624.0L583.5 624.1L584.0 624.2L584.5 624.3L585.0 624.3L585.5 624.3L586.0 624.2L586.5 624.1L587.0 624.0L587.5 623.9L588.0 623.8L588.5 623.8L589.0 623.8L589.5 623.9L590.0 624.0L590.5 624.1L591.0 624.3L591.5 624.4L592.0 624.6L592.5 624.7L593.0 624.7L593.5 624.8L594.0 624.7L594.5 624.7L595.0 624.6L595.5 624.4L596.0 624.3L596.5 624.2L597.0 624.1L597.5 624.1L598.0 624.1L598.5 624.2L599.0 624.3L599.5 624.4L600.0 624.6L600.5 624.7L601.0 624.8L601.5 624.9L602.0 624.9L602.5 624.9L603.0 624.8L603.5 624.7L604.0 624.5L604.5 624.4L605.0 624.3L605.5 624.2L606.0 624.1L606.5 624.1L607.0 624.1L607.5 624.2L608.0 624.3L608.5 624.4L609.0 624.6L609.5 624.7L610.0 624.8L610.5 624.8L611.0 624.8L611.5 624.7L612.0 624.6L612.5 624.5L613.0 624.3L613.5 624.2L614.0 624.0L614.5 624.0L615.0 623.9L615.5 623.9L616.0 624.0L616.5 624.1L617.0 624.2L617.5 624.3L618.0 624.4L618.5 624.5L619.0 624.6L619.5 624.6L620.0 624.5L620.5 624.4L621.0 624.3L621.5 624.1L622.0 624.0L622.5 623.8L623.0 623.7L623.5 623.7L624.0 623.7L624.5 623.7L625.0 623.8L625.5 623.9L626.0 624.0L626.5 624.1L627.0 624.2L627.5 624.3L628.0 624.3L628.5 624.3L629.0 624.2L629.5 624.1L630.0 623.9L630.5 623.7L631.0 623.6L631.5 623.5L632.0 623.4L632.5 623.3L633.0 623.4L633.5 623.4L634.0 623.5L634.5 623.6L635.0 623.7L635.5 623.9L636.0 623.9L636.5 624.0L637.0 623.9L637.5 623.9L638.0 623.8L638.5 623.6L639.0 623.5L639.5 623.3L640.0 623.2L640.5 623.1L641.0 623.0L641.5 623.0L642.0 623.0L642.5 623.1L643.0 623.2L643.5 623.3L644.0 623.4L644.5 623.5L645.0 623.6L645.5 623.6L646.0 623.5L646.5 623.4L647.0 623.3L647.5 623.1L648.0 623.0L648.5 622.8L649.0 622.7L649.5 622.6L650.0 622.6L650.5 622.6L651.0 622.7L651.5 622.8L652.0 622.9L652.5 623.0L653.0 623.1L653.5 623.2L654.0 623.2L654.5 623.1L655.0 623.0L655.5 622.9L656.0 622.7L656.5 622.6L657.0 622.4L657.5 622.2L658.0 622.1L658.5 622.1L659.0 622.0L659.5 622.1L660.0 622.1L660.5 622.2L661.0 622.3L661.5 622.4L662.0 622.5L662.5 622.5L663.0 622.5L663.5 622.4L664.0 622.3L664.5 622.1L665.0 621.9L665.5 621.7L666.0 621.5L666.5 621.4L667.0 621.3L667.5 621.3L668.0 621.3L668.5 621.3L669.0 621.4L669.5 621.5L670.0 621.6L670.5 621.7L671.0 621.7L671.5 621.7L672.0 621.6L672.5 621.5L673.0 621.4L673.5 621.2L674.0 621.0L674.5 620.9L675.0 620.7L675.5 620.6L676.0 620.6L676.5 620.6L677.0 620.6L677.5 620.7L678.0 620.8L678.5 620.9L679.0 621.0L679.5 621.1L680.0 621.1L680.5 621.1L681.0 621.0L681.5 620.9L682.0 620.7L682.5 620.6L683.0 620.4L683.5 620.3L684.0 620.2L684.5 620.1L685.0 620.1L685.5 620.2L686.0 620.3L686.5 620.4L687.0 620.6L687.5 620.7L688.0 621.2L688.5 622.2L689.0 623.7L689.5 625.3L690.0 627.0L690.5 628.6L691.0 629.9L691.5 630.7L692.0 631.0L692.5 630.0L693.0 627.7L693.5 624.6L694.0 621.3L694.5 618.3L695.0 616.2L695.5 615.5L696.0 616.6L696.5 619.1L697.0 622.4L697.5 625.8L698.0 628.6L698.5 630.2L699.0 630.1L699.5 629.3L700.0 628.0L700.5 626.5L701.0 624.8L701.5 623.3L702.0 622.0L702.5 621.1L703.0 620.9L703.5 621.5L704.0 622.9L704.5 624.7L705.0 626.6L705.5 628.1L706.0 629.0L706.5 629.0L707.0 628.4L707.5 627.3L708.0 626.0L708.5 624.7L709.0 623.4L709.5 622.5L710.0 622.1L710.5 622.3L711.0 623.1L711.5 624.3L712.0 625.7L712.5 627.4L713.0 629.0L713.5 630.5L714.0 631.8L714.5 632.6L715.0 633.0L715.5 632.7L716.0 632.1L716.5 631.2L717.0 630.1L717.5 628.9L718.0 627.7L718.5 626.6L719.0 625.8L719.5 625.2L720.0 625.1L720.5 625.3L721.0 625.7L721.5 626.2L722.0 626.8L722.5 627.3L723.0 627.7L723.5 627.9L724.0 627.9L724.5 627.3L725.0 626.4L725.5 625.2L726.0 623.8L726.5 622.3L727.0 620.8L727.5 619.5L728.0 618.5L728.5 617.7L729.0 617.4L729.5 617.1L730.0 616.9L730.5 616.7L731.0 616.6L731.5 616.4L732.0 616.3L732.5 616.0L733.0 615.7L733.5 615.4L734.0 615.1L734.5 614.7L735.0 614.4L735.5 614.0L736.0 613.7L736.5 613.5L737.0 613.3L737.5 613.3L738.0 613.2L738.5 613.3L739.0 613.3L739.5 613.3L740.0 613.4L740.5 613.4L741.0 613.3L741.5 613.2L742.0 613.0L742.5 612.7L743.0 612.5L743.5 612.2L744.0 611.9L744.5 611.6L745.0 611.4L745.5 611.3L746.0 611.2L746.5 611.2L747.0 611.3L747.5 611.3L748.0 611.4L748.5 611.5L749.0 611.6L749.5 611.6L750.0 611.5L750.5 611.4L751.0 611.2L751.5 610.9L752.0 610.7L752.5 610.4L753.0 610.1L753.5 609.9L754.0 609.8L754.5 609.7L755.0 609.7L755.5 609.8L756.0 609.9L756.5 610.0L757.0 610.1L757.5 610.2L758.0 610.3L758.5 610.3L759.0 610.2L759.5 610.0L760.0 609.8L760.5 609.5L761.0 609.2L761.5 609.0L762.0 608.8L762.5 608.6L763.0 608.5L763.5 608.5L764.0 608.5L764.5 608.6L765.0 608.8L765.5 608.9L766.0 609.1L766.5 609.2L767.0 609.2L767.5 609.1L768.0 609.0L768.5 608.8L769.0 608.5L769.5 608.2L770.0 607.9L770.5 607.7L771.0 607.5L771.5 607.4L772.0 607.3L772.5 607.3L773.0 607.4L773.5 607.6L774.0 607.7L774.5 607.9L775.0 608.0L775.5 608.0L776.0 608.0L776.5 607.9L777.0 607.7L777.5 607.4L778.0 607.1L778.5 606.8L779.0 606.6L779.5 606.3L780.0 606.2L780.5 606.1L781.0 606.1L781.5 606.2L782.0 606.3L782.5 606.5L783.0 606.7L783.5 606.8L784.0 606.9L784.5 606.9L785.0 606.8L785.5 606.7L786.0 606.4L786.5 606.2L787.0 605.8L787.5 605.5L788.0 605.3L788.5 605.1L789.0 605.0L789.5 605.0L790.0 605.0L790.5 605.2L791.0 605.3L791.5 605.5L792.0 605.7L792.5 605.8L793.0 605.9L793.5 605.9L794.0 605.7L794.5 605.5L795.0 605.2L795.5 604.9L796.0 604.6L796.5 604.3L797.0 604.1L797.5 603.9L798.0 603.9L798.5 603.9L799.0 604.0L799.5 604.2L800.0 604.4L800.5 604.6L801.0 604.8L801.5 604.9L802.0 604.9L802.5 604.8L803.0 604.6L803.5 604.3L804.0 604.0L804.5 603.6L805.0 603.3L805.5 603.0L806.0 602.8L806.5 602.7L807.0 602.7L807.5 602.8L808.0 603.0L808.5 603.2L809.0 603.4L809.5 603.6L810.0 603.7L810.5 603.7L811.0 603.6L811.5 603.5L812.0 603.2L812.5 602.9L813.0 602.5L813.5 602.1L814.0 601.8L814.5 601.6L815.0 601.4L815.5 601.3L816.0 601.4L816.5 601.5L817.0 601.7L817.5 601.9L818.0 602.0L818.5 602.2L819.0 602.2L819.5 602.2L820.0 602.0L820.5 601.8L821.0 601.4L821.5 601.1L822.0 600.7L822.5 600.3L823.0 600.0L823.5 599.8L824.0 599.6L824.5 599.6L825.0 599.7L825.5 599.9L826.0 600.1L826.5 600.3L827.0 600.4L827.5 600.5L828.0 600.5L828.5 600.4L829.0 600.2L829.5 599.8L830.0 599.5L830.5 599.1L831.0 598.7L831.5 598.3L832.0 598.1L832.5 597.9L833.0 597.9L833.5 598.0L834.0 598.1L834.5 598.3L835.0 598.5L835.5 598.7L836.0 598.9L836.5 598.9L837.0 598.9L837.5 598.7L838.0 598.4L838.5 598.1L839.0 597.7L839.5 597.3L840.0 597.0L840.5 596.7L841.0 596.5L841.5 596.4L842.0 596.4L842.5 596.6L843.0 596.8L843.5 597.0L844.0 597.2L844.5 597.4L845.0 597.5L845.5 597.5L846.0 597.4L846.5 597.1L847.0 596.8L847.5 596.5L848.0 596.1L848.5 595.7L849.0 595.4L849.5 595.1L850.0 595.0L850.5 595.0L851.0 595.1L851.5 595.3L852.0 595.6L852.5 595.8L853.0 596.0L853.5 596.2L854.0 596.2L854.5 596.2L855.0 596.0L855.5 595.7L856.0 595.4L856.5 595.0L857.0 594.6L857.5 594.3L858.0 594.1L858.5 593.9L859.0 593.9L859.5 594.0L860.0 594.2L860.5 594.4L861.0 594.7L861.5 595.0L862.0 595.2L862.5 595.3L863.0 595.3L863.5 595.2L864.0 595.0L864.5 594.7L865.0 594.4L865.5 594.0L866.0 593.7L866.5 593.4L867.0 593.2L867.5 593.2L868.0 593.2L868.5 593.4L869.0 593.6L869.5 593.9L870.0 594.2L870.5 594.5L871.0 594.7L871.5 594.7L872.0 594.7L872.5 594.5L873.0 594.2L873.5 593.9L874.0 593.5L874.5 593.2L875.0 592.9L875.5 592.7L876.0 592.6L876.5 592.6L877.0 592.8L877.5 593.0L878.0 593.3L878.5 593.6L879.0 593.9L879.5 594.1L880.0 594.3L880.5 594.3L881.0 594.2L881.5 593.9L882.0 593.6L882.5 593.3L883.0 592.9L883.5 592.6L884.0 592.4L884.5 592.3L885.0 592.3L885.5 592.4L886.0 592.6L886.5 592.9L887.0 593.3L887.5 593.6L888.0 593.9L888.5 594.1L889.0 594.2L889.5 594.1L890.0 594.0L890.5 593.7L891.0 593.4L891.5 593.1L892.0 592.8L892.5 592.5L893.0 592.3L893.5 592.3L894.0 592.4L894.5 592.6L895.0 592.9L895.5 593.3L896.0 593.7L896.5 594.0L897.0 594.3L897.5 594.4L898.0 594.4L898.5 594.4L899.0 594.1L899.5 593.9L900.0 593.5L900.5 593.2L901.0 592.9L901.5 592.8L902.0 592.7L902.5 592.8L903.0 592.9L903.5 593.2L904.0 593.6L904.5 594.0L905.0 594.4L905.5 594.7L906.0 594.9L906.5 595.0L907.0 595.0L907.5 594.8L908.0 594.6L908.5 594.3L909.0 594.0L909.5 593.7L910.0 593.5L910.5 593.4L911.0 593.4L911.5 593.5L912.0 593.8L912.5 594.2L913.0 594.6L913.5 595.1L914.0 595.5L914.5 595.8L915.0 596.1L915.5 596.2L916.0 596.1L916.5 596.0L917.0 595.9L917.5 595.7L918.0 595.5L918.5 595.3L919.0 595.3L919.5 595.4L920.0 595.7L920.5 596.1L921.0 596.6L921.5 597.1L922.0 597.7L922.5 598.3L923.0 598.8L923.5 599.3L924.0 599.7L924.5 600.0L925.0 600.1L925.5 600.2L926.0 600.3L926.5 600.3L927.0 600.4L927.5 600.6L928.0 600.9L928.5 601.3L929.0 601.8L929.5 602.4L930.0 603.1L930.5 603.8L931.0 604.5L931.5 605.1L932.0 605.5L932.5 605.7L933.0 605.9L933.5 605.9L934.0 605.8L934.5 605.6L935.0 605.4L935.5 605.2L936.0 605.1L936.5 605.0L937.0 605.1L937.5 605.4L938.0 605.7L938.5 606.1L939.0 606.6L939.5 607.1L940.0 607.5L940.5 607.8L941.0 608.0L941.5 608.1L942.0 607.9L942.5 607.7L943.0 607.3L943.5 606.9L944.0 606.5L944.5 606.2L945.0 605.9L945.5 605.8L946.0 605.8L946.5 605.9L947.0 606.1L947.5 606.4L948.0 606.8L948.5 607.1L949.0 607.4L949.5 607.5L950.0 607.5L950.5 607.4L951.0 607.2L951.5 606.8L952.0 606.4L952.5 606.0L953.0 605.6L953.5 605.3L954.0 605.1L954.5 605.1L955.0 605.2L955.5 605.6L956.0 606.1L956.5 606.6L957.0 607.3L957.5 607.9L958.0 608.4L958.5 608.9L959.0 609.2L959.5 609.4L960.0 609.5L960.5 609.6L961.0 609.6L961.5 609.6L962.0 609.7L962.5 609.9L963.0 610.2L963.5 610.7L964.0 611.3L964.5 612.0L965.0 612.7L965.5 613.5L966.0 614.3L966.5 615.1L967.0 615.7L967.5 616.3L968.0 616.6L968.5 616.9L969.0 617.1L969.5 617.1L970.0 617.2L970.5 617.3L971.0 617.4L971.5 617.7L972.0 618.0L972.5 618.5L973.0 619.0L973.5 619.5L974.0 620.0L974.5 620.5L975.0 620.8L975.5 620.9L976.0 620.9L976.5 620.6L977.0 620.2L977.5 619.6L978.0 618.9L978.5 618.1L979.0 617.3L979.5 616.6L980.0 616.0L980.5 615.5L981.0 615.2L981.5 615.0L982.0 614.9L982.5 614.9L983.0 615.0L983.5 615.0L984.0 615.0L984.5 614.8L985.0 614.6L985.5 614.2L986.0 613.7L986.5 613.0L987.0 612.3L987.5 611.7L988.0 611.1L988.5 610.6L989.0 610.2L989.5 610.0L990.0 609.9L990.5 610.0L991.0 610.1L991.5 610.3L992.0 610.5L992.5 610.6L993.0 610.6L993.5 610.4L994.0 610.1L994.5 609.7L995.0 609.2L995.5 608.5L996.0 607.9L996.5 607.3L997.0 606.9L997.5 606.5L998.0 606.3L998.5 606.3L999.0 606.4L999.5 606.6L1000.0 606.8L1000.5 607.1L1001.0 607.3L1001.5 607.4L1002.0 607.4L1002.5 607.2L1003.0 606.9L1003.5 606.4L1004.0 605.9L1004.5 605.3L1005.0 604.7L1005.5 604.2L1006.0 603.8L1006.5 603.6L1007.0 603.5L1007.5 603.6L1008.0 603.8L1008.5 604.1L1009.0 604.4L1009.5 604.7L1010.0 604.9L1010.5 605.0L1011.0 604.9L1011.5 604.7L1012.0 604.3L1012.5 603.9L1013.0 603.4L1013.5 602.8L1014.0 602.4L1014.5 602.0L1015.0 601.8L1015.5 601.8L1016.0 602.0L1016.5 602.2L1017.0 602.6L1017.5 603.1L1018.0 603.5L1018.5 603.9L1019.0 604.2L1019.5 604.4L1020.0 604.4L1020.5 604.2L1021.0 603.9L1021.5 603.6L1022.0 603.2L1022.5 602.8L1023.0 602.6L1023.5 602.4L1024.0 602.5L1024.5 602.7L1025.0 603.0L1025.5 603.5L1026.0 604.1L1026.5 604.6L1027.0 605.1L1027.5 605.6L1028.0 605.9L1028.5 606.0L1029.0 605.9L1029.5 605.8L1030.0 605.5L1030.5 605.1L1031.0 604.8L1031.5 604.5L1032.0 604.3L1032.5 604.3L1033.0 604.5L1033.5 604.8L1034.0 605.3L1034.5 605.8L1035.0 606.4L1035.5 607.0L1036.0 607.6L1036.5 607.9L1037.0 608.2L1037.5 608.2L1038.0 608.2L1038.5 607.9L1039.0 607.6L1039.5 607.3L1040.0 607.1L1040.5 606.9L1041.0 606.9L1041.5 607.0L1042.0 607.4L1042.5 607.8L1043.0 608.4L1043.5 609.1L1044.0 609.8L1044.5 610.3L1045.0 610.8L1045.5 611.2L1046.0 611.3L1046.5 611.3L1047.0 611.1L1047.5 610.9L1048.0 610.5L1048.5 610.2L1049.0 610.0L1049.5 609.9L1050.0 610.0L1050.5 610.3L1051.0 610.7L1051.5 611.3L1052.0 611.9L1052.5 612.6L1053.0 613.3L1053.5 613.9L1054.0 614.3L1054.5 614.6L1055.0 614.7L1055.5 614.6L1056.0 614.4L1056.5 614.1L1057.0 613.8L1057.5 613.6L1058.0 613.5L1058.5 613.5L1059.0 613.7L1059.5 614.1L1060.0 614.7L1060.5 615.3L1061.0 616.0L1061.5 616.6L1062.0 617.2L1062.5 617.6L1063.0 617.9L1063.5 617.9L1064.0 617.8L1064.5 617.5L1065.0 617.1L1065.5 616.7L1066.0 616.2L1066.5 615.9L1067.0 615.6L1067.5 615.6L1068.0 615.6L1068.5 615.9L1069.0 616.2L1069.5 616.7L1070.0 617.1L1070.5 617.4L1071.0 617.7L1071.5 617.7L1072.0 617.6L1072.5 617.3L1073.0 616.8L1073.5 616.1L1074.0 615.5L1074.5 614.8L1075.0 614.1L1075.5 613.6L1076.0 613.3L1076.5 613.2L1077.0 613.2L1077.5 613.4L1078.0 613.7L1078.5 614.0L1079.0 614.4L1079.5 614.6L1080.0 614.7L1080.5 614.6L1081.0 614.4L1081.5 613.9L1082.0 613.4L1082.5 612.7L1083.0 612.1L1083.5 611.5L1084.0 611.0L1084.5 610.6L1085.0 610.5L1085.5 610.5L1086.0 610.7L1086.5 611.1L1087.0 611.5L1087.5 611.9L1088.0 612.3L1088.5 612.5L1089.0 612.6L1089.5 612.5L1090.0 612.2L1090.5 611.7L1091.0 611.0L1091.5 610.2L1092.0 609.5L1092.5 608.8L1093.0 608.3L1093.5 608.0L1094.0 608.0L1094.5 608.2L1095.0 608.6L1095.5 609.2L1096.0 609.9L1096.5 610.6L1097.0 611.1L1097.5 611.4L1098.0 611.4L1098.5 611.1L1099.0 610.5L1099.5 609.7L1100.0 608.7L1100.5 607.7L1101.0 606.8L1101.5 606.1L1102.0 605.7L1102.5 605.6L1103.0 605.8L1103.5 606.3L1104.0 607.0L1104.5 607.8L1105.0 608.6L1105.5 609.3L1106.0 609.7L1106.5 609.8L1107.0 609.6L1107.5 609.0L1108.0 608.3L1108.5 607.3L1109.0 606.3L1109.5 605.3L1110.0 604.5L1110.5 604.0L1111.0 603.8L1111.5 603.9L1112.0 604.3L1112.5 605.0L1113.0 605.8L1113.5 606.7L1114.0 607.4L1114.5 608.0L1115.0 608.2L1115.5 608.1L1116.0 607.7L1116.5 607.0L1117.0 606.1L1117.5 605.1L1118.0 604.0L1118.5 603.1L1119.0 602.5L1119.5 602.1L1120.0 602.1L1120.5 602.4L1121.0 603.0L1121.5 603.8L1122.0 604.7L1122.5 605.5L1123.0 606.1L1123.5 606.5L1124.0 606.6L1124.5 606.3L1125.0 605.7L1125.5 604.9L1126.0 603.8L1126.5 602.8L1127.0 601.8L1127.5 601.1L1128.0 600.6L1128.5 600.4L1129.0 600.7L1129.5 601.2L1130.0 602.0L1130.5 602.9L1131.0 603.8L1131.5 604.6L1132.0 605.2L1132.5 605.5L1133.0 605.4L1133.5 604.9L1134.0 604.2L1134.5 603.3L1135.0 602.2L1135.5 601.3L1136.0 600.4L1136.5 599.9L1137.0 599.7L1137.5 599.9L1138.0 600.4L1138.5 601.1L1139.0 602.1L1139.5 603.1L1140.0 604.0L1140.5 604.8L1141.0 605.2L1141.5 605.3L1142.0 605.1L1142.5 604.5L1143.0 603.6L1143.5 602.6L1144.0 601.6L1144.5 600.7L1145.0 600.0L1145.5 599.7L1146.0 599.7L1146.5 600.1L1147.0 600.8L1147.5 601.7L1148.0 602.7L1148.5 603.7L1149.0 604.6L1149.5 605.2L1150.0 605.4L1150.5 605.3L1151.0 604.8L1151.5 604.0L1152.0 603.0L1152.5 602.0L1153.0 601.0L1153.5 600.2L1154.0 599.7L1154.5 599.6L1155.0 599.8L1155.5 600.4L1156.0 601.3L1156.5 602.3L1157.0 603.3L1157.5 604.3L1158.0 605.0L1158.5 605.4L1159.0 605.5L1159.5 605.1L1160.0 604.4L1160.5 603.5L1161.0 602.4L1161.5 601.3L1162.0 600.4L1162.5 599.7L1163.0 599.4L1163.5 599.5L1164.0 600.0L1164.5 600.9L1165.0 602.0L1165.5 603.2L1166.0 604.4L1166.5 605.4L1167.0 606.1L1167.5 606.4L1168.0 606.3L1168.5 605.8L1169.0 605.0L1169.5 603.9L1170.0 602.9L1170.5 601.9L1171.0 601.1L1171.5 600.8L1172.0 600.8L1172.5 601.3L1173.0 602.2L1173.5 603.4L1174.0 604.9L1174.5 606.3L1175.0 607.5L1175.5 608.5L1176.0 609.1L1176.5 609.2L1177.0 608.8L1177.5 608.0L1178.0 607.0L1178.5 605.8L1179.0 604.6L1179.5 603.6L1180.0 603.0L1180.5 602.8L1181.0 603.2L1181.5 603.9L1182.0 605.1L1182.5 606.5L1183.0 608.0L1183.5 609.4L1184.0 610.5L1184.5 611.2L1185.0 611.4L1185.5 611.1L1186.0 610.3L1186.5 609.1L1187.0 607.6L1187.5 606.2L1188.0 604.9L1188.5 603.9L1189.0 603.3L1189.5 603.2L1190.0 603.7L1190.5 604.7L1191.0 605.9L1191.5 607.3L1192.0 608.7L1192.5 609.9L1193.0 610.7L1193.5 610.9L1194.0 610.6L1194.5 609.8L1195.0 608.5L1195.5 606.9L1196.0 605.2L1196.5 603.5L1197.0 602.2L1197.5 601.3L1198.0 600.9L1198.5 601.1L1199.0 601.9L1199.5 603.1L1200.0 604.5L1200.5 606.0L1201.0 607.4L1201.5 608.3L1202.0 608.8L1202.5 608.6L1203.0 607.9L1203.5 606.6L1204.0 605.0L1204.5 603.1L1205.0 601.3L1205.5 599.7L1206.0 598.5L1206.5 597.8L1207.0 597.7L1207.5 598.2L1208.0 599.2L1208.5 600.6L1209.0 602.0L1209.5 603.4L1210.0 604.5L1210.5 605.1L1211.0 605.2L1211.5 604.6L1212.0 603.5L1212.5 601.9L1213.0 600.1L1213.5 598.1L1214.0 596.3L1214.5 594.9L1215.0 593.9L1215.5 593.6L1216.0 593.8L1216.5 594.6L1217.0 595.8L1217.5 597.2L1218.0 598.7L1218.5 599.9L1219.0 600.7L1219.5 600.9L1220.0 600.6L1220.5 599.6L1221.0 598.2L1221.5 596.3L1222.0 594.3L1222.5 592.4L1223.0 590.7L1223.5 589.6L1224.0 589.0L1224.5 589.0L1225.0 589.6L1225.5 590.8L1226.0 592.2L1226.5 593.8L1227.0 595.2L1227.5 596.3L1228.0 596.8L1228.5 596.8L1229.0 596.1L1229.5 594.8L1230.0 593.1L1230.5 591.2L1231.0 589.2L1231.5 587.5L1232.0 586.1L1232.5 585.3L1233.0 585.2L1233.5 585.6L1234.0 586.6L1234.5 588.0L1235.0 589.5L1235.5 591.0L1236.0 592.3L1236.5 593.1L1237.0 593.4L1237.5 593.0L1238.0 592.0L1238.5 590.6L1239.0 588.8L1239.5 587.0L1240.0 585.2L1240.5 583.8L1241.0 582.9L1241.5 582.6L1242.0 583.0L1242.5 584.0L1243.0 585.4L1243.5 587.1L1244.0 588.8L1244.5 590.3L1245.0 591.5L1245.5 592.1L1246.0 592.1L1246.5 591.5L1247.0 590.3L1247.5 588.8L1248.0 587.0L1248.5 585.3L1249.0 583.8L1249.5 582.7L1250.0 582.2L1250.5 582.4L1251.0 583.1L1251.5 584.4L1252.0 586.0L1252.5 587.8L1253.0 589.4L1253.5 590.8L1254.0 591.6L1254.5 591.9L1255.0 591.6L1255.5 590.6L1256.0 589.2L1256.5 587.5L1257.0 585.8L1257.5 584.2L1258.0 583.0L1258.5 582.3L1259.0 582.2L1259.5 582.8L1260.0 583.9L1260.5 585.5L1261.0 587.2L1261.5 589.0L1262.0 590.5L1262.5 591.6L1263.0 592.2L1263.5 592.2L1264.0 591.5L1264.5 590.4L1265.0 589.0L1265.5 587.4L1266.0 585.9L1266.5 584.7L1267.0 584.0L1267.5 583.8L1268.0 584.2L1268.5 585.1L1269.0 586.4L1269.5 588.0L1270.0 589.7L1270.5 591.2L1271.0 592.4L1271.5 593.2L1272.0 593.4L1272.5 593.0L1273.0 592.2L1273.5 591.0L1274.0 589.6L1274.5 588.2L1275.0 587.0L1275.5 586.1L1276.0 585.7L1276.5 585.8L1277.0 586.4L1277.5 587.5L1278.0 588.8L1278.5 590.3L1279.0 591.7L1279.5 592.9L1280.0 593.7L1280.5 594.0L1281.0 593.9L1281.5 593.3L1282.0 592.3L1282.5 591.1L1283.0 589.9L1283.5 588.7L1284.0 587.8L1284.5 587.3L1285.0 587.2L1285.5 587.5L1286.0 588.3L1286.5 589.4L1287.0 590.7L1287.5 592.0L1288.0 593.1L1288.5 594.0L1289.0 594.5L1289.5 594.5L1290.0 594.1L1290.5 593.4L1291.0 592.4L1291.5 591.3L1292.0 590.3L1292.5 589.4L1293.0 588.8L1293.5 588.6L1294.0 588.7L1294.5 589.3L1295.0 590.2L1295.5 591.3L1296.0 592.5L1296.5 593.5L1297.0 594.4L1297.5 595.0L1298.0 595.2L1298.5 595.1L1299.0 594.6L1299.5 593.8L1300.0 592.9L1300.5 591.9L1301.0 591.1L1301.5 590.5L1302.0 590.2L1302.5 590.3L1303.0 590.7L1303.5 591.5L1304.0 592.4L1304.5 593.5L1305.0 594.5L1305.5 595.5L1306.0 596.2L1306.5 596.5L1307.0 596.6L1307.5 596.3L1308.0 595.8L1308.5 595.1L1309.0 594.3L1309.5 593.6L1310.0 593.0L1310.5 592.7L1311.0 592.7L1311.5 592.9L1312.0 593.5L1312.5 594.3L1313.0 595.2L1313.5 596.1L1314.0 596.9L1314.5 597.6L1315.0 598.0L1315.5 598.1L1316.0 597.9L1316.5 597.5L1317.0 596.9L1317.5 596.2L1318.0 595.5L1318.5 594.9L1319.0 594.4L1319.5 594.2L1320.0 594.2L1320.5 594.4L1321.0 594.7L1321.5 595.1L1322.0 595.4L1322.5 595.6L1323.0 595.7L1323.5 595.5L1324.0 595.1L1324.5 594.6L1325.0 593.9L1325.5 593.1L1326.0 592.4L1326.5 591.7L1327.0 591.1L1327.5 590.7L1328.0 590.4L1328.5 590.4L1329.0 590.4L1329.5 590.6L1330.0 590.7L1330.5 590.9L1331.0 591.0L1331.5 591.2L1332.0 591.2L1332.5 591.2L1333.0 588.2L1333.5 581.5L1334.0 574.8L1334.5 571.5L1335.0 574.1L1335.5 580.2L1336.0 586.4L1336.5 589.5L1337.0 589.8L1337.5 590.1L1338.0 590.4L1338.5 591.0L1339.0 591.7L1339.5 592.6L1340.0 593.7L1340.5 594.7L1341.0 595.7L1341.5 596.4L1342.0 597.0L1342.5 597.3L1343.0 597.4L1343.5 597.3L1344.0 597.0L1344.5 596.6L1345.0 596.2L1345.5 596.0L1346.0 596.0L1346.5 596.1L1347.0 596.5L1347.5 596.9L1348.0 597.5L1348.5 598.1L1349.0 598.5L1349.5 598.9L1350.0 599.1L1350.5 599.0L1351.0 598.8L1351.5 598.4L1352.0 597.9L1352.5 597.3L1353.0 596.8L1353.5 596.3L1354.0 596.0L1354.5 595.9L1355.0 596.0L1355.5 596.3L1356.0 596.7L1356.5 597.3L1357.0 597.9L1357.5 598.4L1358.0 598.8L1358.5 599.1L1359.0 599.2L1359.5 599.0L1360.0 598.7L1360.5 598.1L1361.0 597.6L1361.5 597.0L1362.0 596.4L1362.5 596.0L1363.0 595.8L1363.5 595.9L1364.0 596.1L1364.5 596.6L1365.0 597.2L1365.5 597.9L1366.0 598.6L1366.5 599.2L1367.0 599.6L1367.5 599.9L1368.0 599.9L1368.5 599.7L1369.0 599.3L1369.5 598.9L1370.0 598.4L1370.5 597.9L1371.0 597.6L1371.5 597.4L1372.0 597.4L1372.5 597.7L1373.0 598.2L1373.5 598.9L1374.0 599.6L1374.5 600.4L1375.0 601.2L1375.5 601.7L1376.0 602.1L1376.5 602.3L1377.0 602.2L1377.5 601.9L1378.0 601.4L1378.5 600.9L1379.0 600.4L1379.5 599.9L1380.0 599.6L1380.5 599.6L1381.0 599.7L1381.5 600.1L1382.0 600.7L1382.5 601.4L1383.0 602.2L1383.5 603.0L1384.0 603.6L1384.5 604.1L1385.0 604.3L1385.5 604.3L1386.0 604.0L1386.5 603.6L1387.0 603.0L1387.5 602.4L1388.0 601.9L1388.5 601.5L1389.0 601.4L1389.5 601.4L1390.0 601.8L1390.5 602.3L1391.0 603.0L1391.5 603.8L1392.0 604.6L1392.5 605.3L1393.0 605.9L1393.5 606.2L1394.0 606.3L1394.5 606.1L1395.0 605.7L1395.5 605.2L1396.0 604.6L1396.5 604.0L1397.0 603.5" fill="none" stroke="#ff0000" stroke-width="4.6" stroke-linejoin="round" stroke-linecap="butt"/>
<path d="M89.5 745.0L90.0 745.0L90.5 745.0L91.0 745.0L91.5 745.0L92.0 745.0L92.5 745.0L93.0 745.1L93.5 745.2L94.0 745.3L94.5 745.3L95.0 745.3L95.5 745.3L96.0 745.4L96.5 745.3L97.0 745.3L97.5 745.3L98.0 745.2L98.5 745.2L99.0 745.1L99.5 745.1L100.0 745.1L100.5 745.2L101.0 745.3L101.5 745.5L102.0 745.7L102.5 745.9L103.0 746.0L103.5 746.1L104.0 746.0L104.5 745.9L105.0 745.8L105.5 745.7L106.0 745.6L106.5 745.5L107.0 745.6L107.5 745.6L108.0 745.7L108.5 745.8L109.0 745.9L109.5 746.0L110.0 746.2L110.5 746.3L111.0 746.4L111.5 746.5L112.0 746.6L112.5 746.7L113.0 746.6L113.5 746.5L114.0 746.4L114.5 746.3L115.0 746.2L115.5 746.1L116.0 746.2L116.5 746.3L117.0 746.5L117.5 746.7L118.0 746.9L118.5 747.1L119.0 747.2L119.5 747.3L120.0 747.3L120.5 747.3L121.0 747.2L121.5 747.2L122.0 747.1L122.5 747.1L123.0 747.1L123.5 747.0L124.0 747.0L124.5 747.0L125.0 747.1L125.5 747.3L126.0 747.5L126.5 747.7L127.0 747.9L127.5 748.1L128.0 748.3L128.5 748.3L129.0 748.2L129.5 748.1L130.0 748.0L130.5 747.8L131.0 747.8L131.5 747.8L132.0 747.8L132.5 748.0L133.0 748.2L133.5 748.3L134.0 748.5L134.5 748.7L135.0 748.8L135.5 749.0L136.0 749.1L136.5 749.2L137.0 749.3L137.5 749.3L138.0 749.3L138.5 749.2L139.0 749.1L139.5 749.0L140.0 749.0L140.5 749.0L141.0 749.1L141.5 749.3L142.0 749.6L142.5 749.9L143.0 750.2L143.5 750.4L144.0 750.6L144.5 750.6L145.0 750.6L145.5 750.5L146.0 750.5L146.5 750.5L147.0 750.4L147.5 750.4L148.0 750.5L148.5 750.5L149.0 750.6L149.5 750.7L150.0 750.9L150.5 751.1L151.0 751.3L151.5 751.6L152.0 751.8L152.5 752.0L153.0 752.2L153.5 752.2L154.0 752.1L154.5 751.9L155.0 751.7L155.5 751.6L156.0 751.6L156.5 751.6L157.0 751.8L157.5 752.0L158.0 752.2L158.5 752.5L159.0 752.7L159.5 752.9L160.0 753.0L160.5 753.1L161.0 753.2L161.5 753.3L162.0 753.4L162.5 753.4L163.0 753.3L163.5 753.3L164.0 753.2L164.5 753.1L165.0 753.1L165.5 753.2L166.0 753.5L166.5 753.8L167.0 754.1L167.5 754.5L168.0 754.9L168.5 755.1L169.0 755.3L169.5 755.3L170.0 755.3L170.5 755.3L171.0 755.3L171.5 755.3L172.0 755.4L172.5 755.6L173.0 755.9L173.5 756.2L174.0 756.5L174.5 756.8L175.0 757.3L175.5 757.7L176.0 758.2L176.5 758.8L177.0 759.3L177.5 759.7L178.0 760.1L178.5 760.4L179.0 760.6L179.5 760.9L180.0 761.4L180.5 762.0L181.0 762.7L181.5 763.5L182.0 764.3L182.5 765.0L183.0 765.4L183.5 765.6L184.0 765.7L184.5 765.8L185.0 765.7L185.5 765.7L186.0 765.6L186.5 765.5L187.0 765.4L187.5 765.3L188.0 765.1L188.5 765.0L189.0 764.8L189.5 764.7L190.0 764.7L190.5 764.7L191.0 764.7L191.5 764.8L192.0 764.9L192.5 765.0L193.0 765.0L193.5 765.0L194.0 765.1L194.5 765.2L195.0 765.3L195.5 765.4L196.0 765.6L196.5 765.9L197.0 766.2L197.5 766.5L198.0 766.9L198.5 767.3L199.0 767.7L199.5 768.1L200.0 768.5L200.5 768.9L201.0 769.3L201.5 769.7L202.0 770.2L202.5 770.6L203.0 771.2L203.5 771.8L204.0 772.4L204.5 773.1L205.0 773.8L205.5 774.5L206.0 775.3L206.5 776.1L207.0 776.9L207.5 777.7L208.0 778.5L208.5 779.3L209.0 780.1L209.5 780.9L210.0 781.7L210.5 782.6L211.0 783.4L211.5 784.3L212.0 785.2L212.5 786.2L213.0 787.1L213.5 788.1L214.0 789.1L214.5 790.2L215.0 791.2L215.5 792.3L216.0 793.5L216.5 794.7L217.0 796.0L217.5 797.4L218.0 798.8L218.5 800.3L219.0 801.8L219.5 803.3L220.0 804.8L220.5 806.3L221.0 807.8L221.5 809.3L222.0 810.7L222.5 812.1L223.0 813.5L223.5 815.0L224.0 816.4L224.5 817.8L225.0 819.2L225.5 820.7L226.0 822.1L226.5 823.5L227.0 824.9L227.5 826.3L228.0 827.7L228.5 829.1L229.0 830.5L229.5 831.9L230.0 833.3L230.5 834.7L231.0 836.1L231.5 837.5L232.0 838.9L232.5 840.2L233.0 841.6L233.5 842.9L234.0 844.2L234.5 845.5L235.0 846.8L235.5 848.0L236.0 849.3L236.5 850.5L237.0 851.8L237.5 853.0L238.0 854.2L238.5 855.4L239.0 856.6L239.5 857.7L240.0 858.8L240.5 859.9L241.0 861.0L241.5 862.0L242.0 863.0L242.5 864.0L243.0 865.0L243.5 866.0L244.0 866.9L244.5 867.9L245.0 868.8L245.5 869.7L246.0 870.6L246.5 871.6L247.0 872.5L247.5 873.4L248.0 874.3L248.5 875.1L249.0 876.0L249.5 876.9L250.0 877.8L250.5 878.7L251.0 879.6L251.5 880.5L252.0 881.4L252.5 882.3L253.0 883.2L253.5 884.0L254.0 884.9L254.5 885.7L255.0 886.6L255.5 887.4L256.0 888.2L256.5 889.0L257.0 889.8L257.5 890.6L258.0 891.3L258.5 892.0L259.0 892.8L259.5 893.5L260.0 894.2L260.5 894.8L261.0 895.5L261.5 896.2L262.0 896.8L262.5 897.5L263.0 898.1L263.5 898.8L264.0 899.4L264.5 900.0L265.0 900.6L265.5 901.2L266.0 901.8L266.5 902.4L267.0 903.0L267.5 903.6L268.0 904.2L268.5 904.8L269.0 905.4L269.5 905.9L270.0 906.5L270.5 907.1L271.0 907.6L271.5 908.2L272.0 908.7L272.5 909.2L273.0 909.8L273.5 910.3L274.0 910.8L274.5 911.3L275.0 911.8L275.5 912.3L276.0 912.8L276.5 913.3L277.0 913.8L277.5 914.2L278.0 914.7L278.5 915.2L279.0 915.7L279.5 916.1L280.0 916.6L280.5 917.0L281.0 917.4L281.5 917.8L282.0 918.2L282.5 918.5L283.0 918.9L283.5 919.2L284.0 919.6L284.5 919.9L285.0 920.2L285.5 920.6L286.0 920.9L286.5 921.2L287.0 921.5L287.5 921.7L288.0 922.0L288.5 922.2L289.0 922.4L289.5 922.5L290.0 922.7L290.5 922.8L291.0 923.0L291.5 923.1L292.0 923.2L292.5 923.3L293.0 923.5L293.5 923.6L294.0 923.6L294.5 923.7L295.0 923.8L295.5 923.8L296.0 923.9L296.5 923.9L297.0 923.9L297.5 923.9L298.0 923.9L298.5 923.9L299.0 923.8L299.5 923.8L300.0 923.8L300.5 923.7L301.0 923.7L301.5 923.6L302.0 923.6L302.5 923.5L303.0 923.5L303.5 923.4L304.0 923.4L304.5 923.3L305.0 923.2L305.5 923.1L306.0 922.9L306.5 922.8L307.0 922.6L307.5 922.5L308.0 922.3L308.5 922.1L309.0 921.9L309.5 921.7L310.0 921.5L310.5 921.3L311.0 921.1L311.5 920.9L312.0 920.7L312.5 920.5L313.0 920.3L313.5 920.1L314.0 919.9L314.5 919.7L315.0 919.6L315.5 919.4L316.0 919.2L316.5 919.1L317.0 918.9L317.5 918.7L318.0 918.6L318.5 918.4L319.0 918.2L319.5 918.1L320.0 917.9L320.5 917.7L321.0 917.5L321.5 917.3L322.0 917.0L322.5 916.8L323.0 916.6L323.5 916.3L324.0 916.0L324.5 915.6L325.0 915.3L325.5 914.9L326.0 914.5L326.5 914.0L327.0 913.6L327.5 913.1L328.0 912.7L328.5 912.2L329.0 911.7L329.5 911.3L330.0 910.8L330.5 910.3L331.0 909.8L331.5 909.3L332.0 908.8L332.5 908.2L333.0 907.7L333.5 907.1L334.0 906.6L334.5 906.1L335.0 905.5L335.5 905.0L336.0 904.6L336.5 904.1L337.0 903.7L337.5 903.4L338.0 903.1L338.5 902.7L339.0 902.4L339.5 902.1L340.0 901.9L340.5 901.6L341.0 901.3L341.5 901.1L342.0 900.8L342.5 900.6L343.0 900.3L343.5 900.1L344.0 899.9L344.5 899.6L345.0 899.4L345.5 899.1L346.0 898.9L346.5 898.7L347.0 898.4L347.5 898.2L348.0 898.0L348.5 897.8L349.0 897.5L349.5 897.3L350.0 897.1L350.5 896.9L351.0 896.7L351.5 896.5L352.0 896.2L352.5 896.0L353.0 895.8L353.5 895.5L354.0 895.2L354.5 895.0L355.0 894.7L355.5 894.4L356.0 894.1L356.5 893.7L357.0 893.4L357.5 893.0L358.0 892.6L358.5 892.3L359.0 891.9L359.5 891.5L360.0 891.1L360.5 890.7L361.0 890.2L361.5 889.8L362.0 889.4L362.5 888.9L363.0 888.5L363.5 888.1L364.0 887.6L364.5 887.2L365.0 886.8L365.5 886.4L366.0 885.9L366.5 885.5L367.0 885.1L367.5 884.7L368.0 884.3L368.5 883.9L369.0 883.5L369.5 883.1L370.0 882.7L370.5 882.3L371.0 881.9L371.5 881.6L372.0 881.2L372.5 880.8L373.0 880.4L373.5 880.0L374.0 879.6L374.5 879.2L375.0 878.8L375.5 878.4L376.0 878.1L376.5 877.7L377.0 877.3L377.5 876.9L378.0 876.5L378.5 876.1L379.0 875.8L379.5 875.4L380.0 875.0L380.5 874.6L381.0 874.2L381.5 873.9L382.0 873.5L382.5 873.1L383.0 872.8L383.5 872.4L384.0 872.0L384.5 871.7L385.0 871.3L385.5 871.0L386.0 870.6L386.5 870.3L387.0 869.9L387.5 869.5L388.0 869.2L388.5 868.8L389.0 868.5L389.5 868.1L390.0 867.8L390.5 867.4L391.0 867.1L391.5 866.7L392.0 866.3L392.5 866.0L393.0 865.6L393.5 865.3L394.0 864.9L394.5 864.5L395.0 864.1L395.5 863.8L396.0 863.4L396.5 863.0L397.0 862.6L397.5 862.3L398.0 861.9L398.5 861.5L399.0 861.1L399.5 860.7L400.0 860.3L400.5 859.9L401.0 859.5L401.5 859.1L402.0 858.7L402.5 858.3L403.0 857.9L403.5 857.6L404.0 857.2L404.5 856.8L405.0 856.4L405.5 856.0L406.0 855.6L406.5 855.2L407.0 854.8L407.5 854.5L408.0 854.1L408.5 853.7L409.0 853.3L409.5 853.0L410.0 852.6L410.5 852.2L411.0 851.9L411.5 851.5L412.0 851.2L412.5 850.8L413.0 850.5L413.5 850.2L414.0 849.8L414.5 849.5L415.0 849.2L415.5 848.8L416.0 848.5L416.5 848.2L417.0 847.8L417.5 847.5L418.0 847.2L418.5 846.9L419.0 846.6L419.5 846.3L420.0 845.9L420.5 845.6L421.0 845.3L421.5 845.0L422.0 844.7L422.5 844.4L423.0 844.0L423.5 843.7L424.0 843.4L424.5 843.1L425.0 842.8L425.5 842.5L426.0 842.1L426.5 841.8L427.0 841.5L427.5 841.2L428.0 840.9L428.5 840.5L429.0 840.2L429.5 839.9L430.0 839.5L430.5 839.2L431.0 838.9L431.5 838.5L432.0 838.2L432.5 837.8L433.0 837.5L433.5 837.1L434.0 836.7L434.5 836.4L435.0 836.0L435.5 835.6L436.0 835.3L436.5 834.9L437.0 834.5L437.5 834.1L438.0 833.7L438.5 833.3L439.0 832.9L439.5 832.5L440.0 832.0L440.5 831.6L441.0 831.1L441.5 830.7L442.0 830.2L442.5 829.7L443.0 829.3L443.5 828.8L444.0 828.3L444.5 827.8L445.0 827.3L445.5 826.9L446.0 826.4L446.5 825.9L447.0 825.4L447.5 824.9L448.0 824.4L448.5 823.9L449.0 823.5L449.5 823.0L450.0 822.5L450.5 822.0L451.0 821.5L451.5 821.0L452.0 820.5L452.5 820.0L453.0 819.4L453.5 818.9L454.0 818.4L454.5 818.0L455.0 817.5L455.5 817.2L456.0 816.8L456.5 816.5L457.0 816.1L457.5 815.8L458.0 815.5L458.5 815.1L459.0 814.8L459.5 814.5L460.0 814.2L460.5 813.9L461.0 813.7L461.5 813.5L462.0 813.3L462.5 813.2L463.0 813.1L463.5 813.0L464.0 813.0L464.5 813.0L465.0 813.1L465.5 813.3L466.0 813.4L466.5 813.6L467.0 813.8L467.5 814.1L468.0 814.4L468.5 814.7L469.0 815.0L469.5 815.3L470.0 815.6L470.5 816.0L471.0 816.4L471.5 817.0L472.0 817.7L472.5 818.4L473.0 819.2L473.5 820.1L474.0 820.9L474.5 821.7L475.0 822.5L475.5 823.2L476.0 824.0L476.5 824.7L477.0 825.5L477.5 826.3L478.0 827.0L478.5 827.8L479.0 828.6L479.5 829.4L480.0 830.1L480.5 830.9L481.0 831.6L481.5 832.4L482.0 833.1L482.5 833.8L483.0 834.5L483.5 835.2L484.0 835.8L484.5 836.4L485.0 837.0L485.5 837.6L486.0 838.2L486.5 838.9L487.0 839.5L487.5 840.2L488.0 840.8L488.5 841.3L489.0 841.8L489.5 842.3L490.0 842.6L490.5 842.9L491.0 843.0L491.5 843.0L492.0 843.0L492.5 843.0L493.0 843.0L493.5 843.0L494.0 843.0L494.5 843.0L495.0 843.0L495.5 843.0L496.0 843.0L496.5 843.0L497.0 843.1L497.5 843.3L498.0 843.5L498.5 843.8L499.0 844.1L499.5 844.5L500.0 844.9L500.5 845.3L501.0 845.7L501.5 846.1L502.0 846.5L502.5 846.8L503.0 847.2L503.5 847.4L504.0 847.6L504.5 847.8L505.0 848.1L505.5 848.3L506.0 848.5L506.5 848.7L507.0 848.9L507.5 849.1L508.0 849.2L508.5 849.3L509.0 849.4L509.5 849.5L510.0 849.5L510.5 849.4L511.0 849.2L511.5 848.9L512.0 848.4L512.5 847.9L513.0 847.3L513.5 846.6L514.0 845.9L514.5 845.1L515.0 844.4L515.5 843.6L516.0 842.8L516.5 842.0L517.0 841.1L517.5 840.1L518.0 839.0L518.5 837.8L519.0 836.5L519.5 835.2L520.0 833.9L520.5 832.5L521.0 831.2L521.5 829.9L522.0 828.6L522.5 827.5L523.0 826.4L523.5 825.4L524.0 824.5L524.5 823.6L525.0 822.8L525.5 821.9L526.0 821.1L526.5 820.3L527.0 819.6L527.5 818.8L528.0 818.1L528.5 817.4L529.0 816.7L529.5 816.0L530.0 815.4L530.5 814.8L531.0 814.2L531.5 813.6L532.0 813.0L532.5 812.5L533.0 812.0L533.5 811.5L534.0 811.0L534.5 810.5L535.0 810.0L535.5 809.5L536.0 809.1L536.5 808.6L537.0 808.2L537.5 807.8L538.0 807.4L538.5 806.9L539.0 806.5L539.5 806.2L540.0 805.8L540.5 805.4L541.0 805.0L541.5 804.7L542.0 804.3L542.5 804.0L543.0 803.7L543.5 803.4L544.0 803.1L544.5 802.8L545.0 802.5L545.5 802.2L546.0 802.0L546.5 801.7L547.0 801.5L547.5 801.2L548.0 801.0L548.5 800.8L549.0 800.5L549.5 800.3L550.0 800.1L550.5 799.9L551.0 799.7L551.5 799.5L552.0 799.3L552.5 799.1L553.0 798.9L553.5 798.7L554.0 798.5L554.5 798.3L555.0 798.2L555.5 798.0L556.0 797.8L556.5 797.6L557.0 797.4L557.5 797.2L558.0 797.0L558.5 796.8L559.0 796.6L559.5 796.4L560.0 796.2L560.5 796.0L561.0 795.8L561.5 795.6L562.0 795.4L562.5 795.2L563.0 795.0L563.5 794.7L564.0 794.5L564.5 794.3L565.0 794.1L565.5 793.9L566.0 793.7L566.5 793.5L567.0 793.3L567.5 793.1L568.0 792.9L568.5 792.7L569.0 792.5L569.5 792.3L570.0 792.1L570.5 791.9L571.0 791.7L571.5 791.5L572.0 791.2L572.5 791.0L573.0 790.8L573.5 790.6L574.0 790.4L574.5 790.1L575.0 789.9L575.5 789.7L576.0 789.4L576.5 789.2L577.0 788.9L577.5 788.7L578.0 788.4L578.5 788.2L579.0 787.9L579.5 787.6L580.0 787.4L580.5 787.1L581.0 786.8L581.5 786.5L582.0 786.2L582.5 785.9L583.0 785.6L583.5 785.3L584.0 785.0L584.5 784.7L585.0 784.4L585.5 784.0L586.0 783.7L586.5 783.4L587.0 783.1L587.5 782.7L588.0 782.4L588.5 782.1L589.0 781.7L589.5 781.4L590.0 781.1L590.5 780.8L591.0 780.4L591.5 780.1L592.0 779.8L592.5 779.5L593.0 779.1L593.5 778.8L594.0 778.5L594.5 778.2L595.0 777.9L595.5 777.6L596.0 777.3L596.5 777.0L597.0 776.7L597.5 776.4L598.0 776.1L598.5 775.8L599.0 775.5L599.5 775.3L600.0 775.0L600.5 774.7L601.0 774.5L601.5 774.2L602.0 774.0L602.5 773.7L603.0 773.5L603.5 773.3L604.0 773.0L604.5 772.8L605.0 772.5L605.5 772.3L606.0 772.0L606.5 771.8L607.0 771.5L607.5 771.3L608.0 771.0L608.5 770.8L609.0 770.6L609.5 770.4L610.0 770.2L610.5 770.0L611.0 769.8L611.5 769.5L612.0 769.3L612.5 769.1L613.0 768.9L613.5 768.7L614.0 768.4L614.5 768.1L615.0 767.9L615.5 767.6L616.0 767.4L616.5 767.2L617.0 767.0L617.5 766.9L618.0 766.7L618.5 766.5L619.0 766.3L619.5 766.1L620.0 765.9L620.5 765.7L621.0 765.5L621.5 765.2L622.0 765.0L622.5 764.7L623.0 764.5L623.5 764.3L624.0 764.0L624.5 763.8L625.0 763.6L625.5 763.4L626.0 763.2L626.5 763.1L627.0 762.9L627.5 762.8L628.0 762.6L628.5 762.4L629.0 762.2L629.5 762.0L630.0 761.7L630.5 761.4L631.0 761.1L631.5 760.9L632.0 760.7L632.5 760.5L633.0 760.3L633.5 760.2L634.0 760.1L634.5 759.9L635.0 759.8L635.5 759.6L636.0 759.4L636.5 759.3L637.0 759.1L637.5 758.9L638.0 758.6L638.5 758.4L639.0 758.1L639.5 757.8L640.0 757.5L640.5 757.3L641.0 757.1L641.5 756.9L642.0 756.8L642.5 756.8L643.0 756.7L643.5 756.6L644.0 756.4L644.5 756.2L645.0 756.0L645.5 755.7L646.0 755.4L646.5 755.2L647.0 754.9L647.5 754.6L648.0 754.4L648.5 754.1L649.0 753.9L649.5 753.7L650.0 753.5L650.5 753.4L651.0 753.2L651.5 753.1L652.0 753.0L652.5 752.9L653.0 752.7L653.5 752.5L654.0 752.1L654.5 751.8L655.0 751.4L655.5 751.0L656.0 750.6L656.5 750.3L657.0 750.1L657.5 749.9L658.0 749.8L658.5 749.7L659.0 749.5L659.5 749.3L660.0 749.2L660.5 748.9L661.0 748.7L661.5 748.5L662.0 748.2L662.5 747.9L663.0 747.6L663.5 747.3L664.0 746.9L664.5 746.5L665.0 746.2L665.5 745.9L666.0 745.7L666.5 745.6L667.0 745.6L667.5 745.6L668.0 745.6L668.5 745.5L669.0 745.3L669.5 745.1L670.0 744.8L670.5 744.5L671.0 744.1L671.5 743.8L672.0 743.5L672.5 743.2L673.0 743.0L673.5 742.8L674.0 742.6L674.5 742.5L675.0 742.3L675.5 742.2L676.0 742.1L676.5 742.1L677.0 742.0L677.5 741.9L678.0 741.8L678.5 741.5L679.0 741.1L679.5 740.7L680.0 740.3L680.5 739.9L681.0 739.6L681.5 739.4L682.0 739.4L682.5 739.4L683.0 739.4L683.5 739.5L684.0 739.5L684.5 739.5L685.0 739.5L685.5 739.4L686.0 739.2L686.5 739.1L687.0 739.0L687.5 738.9L688.0 738.7L688.5 738.5L689.0 738.6L689.5 739.3L690.0 740.7L690.5 742.4L691.0 744.1L691.5 745.5L692.0 746.2L692.5 745.6L693.0 743.5L693.5 740.4L694.0 736.9L694.5 733.7L695.0 731.2L695.5 730.0L696.0 730.9L696.5 733.5L697.0 737.0L697.5 740.7L698.0 743.9L698.5 745.7L699.0 745.8L699.5 745.1L700.0 743.8L700.5 742.3L701.0 740.7L701.5 739.3L702.0 738.3L702.5 737.9L703.0 739.2L703.5 742.3L704.0 746.4L704.5 750.4L705.0 753.4L705.5 754.6L706.0 753.6L706.5 751.1L707.0 747.9L707.5 744.6L708.0 741.9L708.5 740.3L709.0 740.3L709.5 740.9L710.0 741.7L710.5 742.8L711.0 744.0L711.5 745.2L712.0 746.4L712.5 747.4L713.0 748.2L713.5 748.5L714.0 748.4L714.5 747.9L715.0 747.0L715.5 745.9L716.0 744.7L716.5 743.5L717.0 742.4L717.5 741.5L718.0 740.7L718.5 740.3L719.0 740.3L719.5 740.3L720.0 740.5L720.5 740.7L721.0 741.0L721.5 741.3L722.0 741.6L722.5 742.0L723.0 742.2L723.5 742.4L724.0 742.4L724.5 742.1L725.0 741.5L725.5 740.8L726.0 739.8L726.5 738.8L727.0 737.6L727.5 736.5L728.0 735.4L728.5 734.4L729.0 733.5L729.5 732.8L730.0 732.4L730.5 732.2L731.0 731.9L731.5 731.8L732.0 731.6L732.5 731.5L733.0 731.4L733.5 731.2L734.0 731.1L734.5 731.0L735.0 730.9L735.5 730.8L736.0 730.7L736.5 730.6L737.0 730.5L737.5 730.5L738.0 730.5L738.5 730.4L739.0 730.4L739.5 730.4L740.0 730.4L740.5 730.3L741.0 730.3L741.5 730.3L742.0 730.3L742.5 730.3L743.0 730.3L743.5 730.2L744.0 730.2L744.5 730.2L745.0 730.2L745.5 730.1L746.0 730.1L746.5 730.1L747.0 730.1L747.5 730.1L748.0 730.1L748.5 730.1L749.0 730.1L749.5 730.1L750.0 730.1L750.5 730.1L751.0 730.1L751.5 730.1L752.0 730.1L752.5 730.0L753.0 730.0L753.5 730.0L754.0 730.0L754.5 729.9L755.0 729.9L755.5 729.9L756.0 729.9L756.5 729.9L757.0 729.9L757.5 730.0L758.0 730.0L758.5 730.0L759.0 730.0L759.5 730.0L760.0 730.0L760.5 729.9L761.0 729.9L761.5 729.9L762.0 729.8L762.5 729.8L763.0 729.8L763.5 729.8L764.0 729.8L764.5 729.8L765.0 729.8L765.5 729.8L766.0 729.8L766.5 729.8L767.0 729.9L767.5 729.9L768.0 729.9L768.5 729.9L769.0 729.8L769.5 729.7L770.0 729.7L770.5 729.6L771.0 729.5L771.5 729.5L772.0 729.5L772.5 729.5L773.0 729.5L773.5 729.6L774.0 729.6L774.5 729.6L775.0 729.6L775.5 729.6L776.0 729.6L776.5 729.5L777.0 729.5L777.5 729.4L778.0 729.3L778.5 729.2L779.0 729.0L779.5 728.9L780.0 728.8L780.5 728.7L781.0 728.7L781.5 728.7L782.0 728.7L782.5 728.7L783.0 728.7L783.5 728.7L784.0 728.6L784.5 728.5L785.0 728.3L785.5 728.1L786.0 727.9L786.5 727.8L787.0 727.6L787.5 727.5L788.0 727.4L788.5 727.3L789.0 727.2L789.5 727.2L790.0 727.1L790.5 727.1L791.0 727.0L791.5 727.0L792.0 727.0L792.5 726.9L793.0 726.8L793.5 726.7L794.0 726.5L794.5 726.3L795.0 726.0L795.5 725.9L796.0 725.7L796.5 725.6L797.0 725.6L797.5 725.6L798.0 725.6L798.5 725.7L799.0 725.7L799.5 725.6L800.0 725.6L800.5 725.4L801.0 725.3L801.5 725.2L802.0 725.0L802.5 724.9L803.0 724.7L803.5 724.5L804.0 724.4L804.5 724.2L805.0 724.1L805.5 724.0L806.0 724.0L806.5 724.0L807.0 724.1L807.5 724.1L808.0 724.2L808.5 724.1L809.0 724.0L809.5 723.8L810.0 723.6L810.5 723.3L811.0 723.0L811.5 722.8L812.0 722.7L812.5 722.6L813.0 722.5L813.5 722.5L814.0 722.4L814.5 722.4L815.0 722.4L815.5 722.3L816.0 722.3L816.5 722.3L817.0 722.2L817.5 722.1L818.0 722.0L818.5 721.7L819.0 721.5L819.5 721.1L820.0 720.8L820.5 720.6L821.0 720.4L821.5 720.3L822.0 720.4L822.5 720.4L823.0 720.5L823.5 720.5L824.0 720.5L824.5 720.4L825.0 720.3L825.5 720.1L826.0 719.8L826.5 719.6L827.0 719.4L827.5 719.2L828.0 719.0L828.5 718.8L829.0 718.6L829.5 718.4L830.0 718.3L830.5 718.2L831.0 718.2L831.5 718.3L832.0 718.4L832.5 718.4L833.0 718.4L833.5 718.3L834.0 718.1L834.5 717.9L835.0 717.5L835.5 717.2L836.0 716.9L836.5 716.7L837.0 716.5L837.5 716.5L838.0 716.5L838.5 716.5L839.0 716.5L839.5 716.5L840.0 716.5L840.5 716.4L841.0 716.4L841.5 716.3L842.0 716.2L842.5 716.0L843.0 715.8L843.5 715.5L844.0 715.2L844.5 714.8L845.0 714.5L845.5 714.3L846.0 714.2L846.5 714.1L847.0 714.2L847.5 714.3L848.0 714.4L848.5 714.5L849.0 714.5L849.5 714.3L850.0 714.1L850.5 713.9L851.0 713.6L851.5 713.3L852.0 713.1L852.5 712.9L853.0 712.7L853.5 712.6L854.0 712.5L854.5 712.4L855.0 712.3L855.5 712.4L856.0 712.4L856.5 712.6L857.0 712.7L857.5 712.8L858.0 712.8L858.5 712.7L859.0 712.6L859.5 712.3L860.0 712.0L860.5 711.7L861.0 711.5L861.5 711.4L862.0 711.4L862.5 711.6L863.0 711.7L863.5 711.9L864.0 712.1L864.5 712.2L865.0 712.3L865.5 712.4L866.0 712.4L866.5 712.4L867.0 712.3L867.5 712.3L868.0 712.1L868.5 712.0L869.0 711.8L869.5 711.6L870.0 711.4L870.5 711.4L871.0 711.4L871.5 711.6L872.0 711.9L872.5 712.2L873.0 712.4L873.5 712.6L874.0 712.6L874.5 712.6L875.0 712.4L875.5 712.2L876.0 712.0L876.5 711.8L877.0 711.7L877.5 711.6L878.0 711.6L878.5 711.6L879.0 711.7L879.5 711.8L880.0 712.0L880.5 712.2L881.0 712.5L881.5 712.7L882.0 713.0L882.5 713.2L883.0 713.4L883.5 713.4L884.0 713.3L884.5 713.2L885.0 713.0L885.5 712.9L886.0 712.9L886.5 713.0L887.0 713.2L887.5 713.6L888.0 714.0L888.5 714.4L889.0 714.8L889.5 715.1L890.0 715.3L890.5 715.4L891.0 715.5L891.5 715.6L892.0 715.7L892.5 715.7L893.0 715.7L893.5 715.7L894.0 715.7L894.5 715.7L895.0 715.7L895.5 715.9L896.0 716.1L896.5 716.5L897.0 717.0L897.5 717.4L898.0 717.8L898.5 718.1L899.0 718.3L899.5 718.3L900.0 718.2L900.5 718.1L901.0 718.0L901.5 718.0L902.0 718.0L902.5 718.2L903.0 718.4L903.5 718.7L904.0 719.0L904.5 719.3L905.0 719.6L905.5 719.9L906.0 720.3L906.5 720.6L907.0 720.9L907.5 721.2L908.0 721.4L908.5 721.4L909.0 721.4L909.5 721.3L910.0 721.2L910.5 721.2L911.0 721.3L911.5 721.5L912.0 721.9L912.5 722.4L913.0 723.0L913.5 723.5L914.0 724.0L914.5 724.3L915.0 724.6L915.5 724.7L916.0 724.9L916.5 725.0L917.0 725.1L917.5 725.3L918.0 725.4L918.5 725.6L919.0 725.8L919.5 726.0L920.0 726.3L920.5 726.6L921.0 727.1L921.5 727.8L922.0 728.4L922.5 729.1L923.0 729.6L923.5 730.1L924.0 730.4L924.5 730.5L925.0 730.6L925.5 730.7L926.0 730.8L926.5 731.0L927.0 731.4L927.5 731.9L928.0 732.5L928.5 733.2L929.0 733.9L929.5 734.5L930.0 735.2L930.5 735.8L931.0 736.5L931.5 737.1L932.0 737.7L932.5 738.3L933.0 738.7L933.5 739.1L934.0 739.4L934.5 739.7L935.0 740.0L935.5 740.4L936.0 741.0L936.5 741.7L937.0 742.5L937.5 743.4L938.0 744.3L938.5 745.2L939.0 746.0L939.5 746.7L940.0 747.3L940.5 747.9L941.0 748.5L941.5 749.2L942.0 749.9L942.5 750.7L943.0 751.6L943.5 752.6L944.0 753.7L944.5 754.9L945.0 756.1L945.5 757.5L946.0 759.0L946.5 760.6L947.0 762.2L947.5 763.9L948.0 765.5L948.5 767.1L949.0 768.8L949.5 770.5L950.0 772.2L950.5 774.1L951.0 776.1L951.5 778.1L952.0 780.3L952.5 782.5L953.0 784.8L953.5 787.1L954.0 789.5L954.5 792.0L955.0 794.4L955.5 796.9L956.0 799.2L956.5 801.6L957.0 803.8L957.5 805.8L958.0 807.6L958.5 809.4L959.0 811.3L959.5 813.2L960.0 815.1L960.5 816.9L961.0 818.7L961.5 820.2L962.0 821.4L962.5 822.3L963.0 822.7L963.5 822.8L964.0 822.8L964.5 822.8L965.0 822.7L965.5 822.6L966.0 822.5L966.5 822.4L967.0 822.4L967.5 822.3L968.0 822.3L968.5 822.3L969.0 822.3L969.5 822.3L970.0 822.3L970.5 822.1L971.0 821.8L971.5 821.5L972.0 821.1L972.5 820.7L973.0 820.1L973.5 819.6L974.0 819.0L974.5 818.5L975.0 818.1L975.5 817.8L976.0 817.7L976.5 817.9L977.0 818.3L977.5 818.9L978.0 819.7L978.5 820.5L979.0 821.4L979.5 822.2L980.0 823.0L980.5 823.7L981.0 824.3L981.5 824.8L982.0 825.2L982.5 825.4L983.0 825.6L983.5 825.8L984.0 826.0L984.5 826.2L985.0 826.4L985.5 826.6L986.0 826.8L986.5 827.1L987.0 827.4L987.5 827.6L988.0 827.8L988.5 827.6L989.0 826.8L989.5 825.6L990.0 823.9L990.5 822.0L991.0 819.9L991.5 817.8L992.0 815.8L992.5 813.9L993.0 812.2L993.5 810.7L994.0 809.2L994.5 807.6L995.0 806.0L995.5 804.4L996.0 802.8L996.5 801.3L997.0 799.8L997.5 798.3L998.0 796.8L998.5 795.3L999.0 793.9L999.5 792.5L1000.0 791.2L1000.5 789.9L1001.0 788.6L1001.5 787.5L1002.0 786.5L1002.5 785.6L1003.0 784.8L1003.5 784.0L1004.0 783.2L1004.5 782.4L1005.0 781.6L1005.5 780.8L1006.0 780.1L1006.5 779.4L1007.0 778.8L1007.5 778.2L1008.0 777.7L1008.5 777.1L1009.0 776.6L1009.5 776.1L1010.0 775.6L1010.5 775.2L1011.0 774.9L1011.5 774.7L1012.0 774.5L1012.5 774.3L1013.0 774.2L1013.5 774.0L1014.0 773.7L1014.5 773.4L1015.0 773.0L1015.5 772.7L1016.0 772.4L1016.5 772.2L1017.0 772.1L1017.5 772.2L1018.0 772.4L1018.5 772.7L1019.0 773.1L1019.5 773.6L1020.0 774.1L1020.5 774.7L1021.0 775.4L1021.5 776.1L1022.0 776.8L1022.5 777.5L1023.0 778.2L1023.5 778.8L1024.0 779.3L1024.5 779.9L1025.0 780.5L1025.5 781.3L1026.0 782.3L1026.5 783.5L1027.0 784.9L1027.5 786.5L1028.0 788.1L1028.5 789.7L1029.0 791.4L1029.5 793.0L1030.0 794.5L1030.5 795.9L1031.0 797.3L1031.5 798.7L1032.0 800.0L1032.5 801.3L1033.0 802.8L1033.5 804.4L1034.0 806.0L1034.5 807.7L1035.0 809.4L1035.5 811.1L1036.0 812.7L1036.5 814.3L1037.0 815.8L1037.5 817.0L1038.0 818.0L1038.5 818.7L1039.0 819.2L1039.5 819.5L1040.0 819.8L1040.5 819.9L1041.0 820.1L1041.5 820.4L1042.0 820.9L1042.5 821.5L1043.0 822.2L1043.5 823.1L1044.0 824.1L1044.5 825.2L1045.0 826.4L1045.5 827.6L1046.0 828.8L1046.5 830.0L1047.0 831.1L1047.5 832.0L1048.0 832.8L1048.5 833.4L1049.0 834.1L1049.5 834.7L1050.0 835.3L1050.5 836.0L1051.0 836.7L1051.5 837.4L1052.0 838.0L1052.5 838.6L1053.0 838.9L1053.5 838.7L1054.0 837.8L1054.5 836.2L1055.0 834.1L1055.5 831.9L1056.0 829.6L1056.5 827.5L1057.0 825.8L1057.5 824.6L1058.0 824.2L1058.5 824.4L1059.0 825.0L1059.5 825.9L1060.0 827.1L1060.5 828.5L1061.0 830.0L1061.5 831.4L1062.0 832.8L1062.5 834.2L1063.0 835.8L1063.5 837.3L1064.0 838.8L1064.5 840.3L1065.0 841.6L1065.5 842.8L1066.0 843.9L1066.5 844.7L1067.0 845.4L1067.5 845.8L1068.0 845.6L1068.5 844.9L1069.0 843.7L1069.5 842.1L1070.0 840.2L1070.5 838.2L1071.0 836.2L1071.5 834.4L1072.0 832.8L1072.5 831.4L1073.0 829.8L1073.5 828.3L1074.0 826.7L1074.5 825.3L1075.0 824.2L1075.5 823.3L1076.0 822.9L1076.5 822.5L1077.0 822.3L1077.5 822.2L1078.0 822.1L1078.5 821.9L1079.0 821.6L1079.5 821.3L1080.0 820.9L1080.5 820.5L1081.0 820.1L1081.5 819.8L1082.0 819.7L1082.5 819.8L1083.0 820.2L1083.5 820.9L1084.0 821.8L1084.5 822.8L1085.0 823.8L1085.5 824.8L1086.0 825.7L1086.5 826.3L1087.0 826.7L1087.5 826.7L1088.0 826.5L1088.5 826.2L1089.0 825.6L1089.5 824.8L1090.0 823.9L1090.5 823.1L1091.0 822.2L1091.5 821.5L1092.0 820.8L1092.5 820.3L1093.0 819.8L1093.5 819.3L1094.0 818.6L1094.5 817.6L1095.0 816.5L1095.5 815.2L1096.0 813.8L1096.5 812.4L1097.0 811.0L1097.5 809.6L1098.0 808.2L1098.5 806.8L1099.0 805.6L1099.5 804.5L1100.0 803.5L1100.5 802.6L1101.0 801.7L1101.5 801.0L1102.0 800.3L1102.5 799.7L1103.0 799.2L1103.5 798.6L1104.0 798.0L1104.5 797.3L1105.0 796.7L1105.5 796.3L1106.0 796.0L1106.5 796.1L1107.0 796.5L1107.5 797.1L1108.0 797.8L1108.5 798.7L1109.0 799.7L1109.5 800.6L1110.0 801.4L1110.5 802.1L1111.0 802.7L1111.5 803.1L1112.0 803.2L1112.5 803.1L1113.0 802.7L1113.5 802.1L1114.0 801.3L1114.5 800.4L1115.0 799.5L1115.5 798.7L1116.0 798.0L1116.5 797.5L1117.0 797.3L1117.5 797.3L1118.0 797.5L1118.5 797.8L1119.0 798.0L1119.5 798.1L1120.0 798.1L1120.5 798.0L1121.0 797.9L1121.5 797.7L1122.0 797.6L1122.5 797.4L1123.0 797.3L1123.5 797.2L1124.0 797.0L1124.5 796.9L1125.0 797.0L1125.5 797.4L1126.0 798.0L1126.5 798.9L1127.0 799.9L1127.5 801.1L1128.0 802.3L1128.5 803.4L1129.0 804.4L1129.5 805.3L1130.0 806.1L1130.5 806.9L1131.0 807.8L1131.5 809.0L1132.0 810.4L1132.5 812.2L1133.0 814.2L1133.5 816.3L1134.0 818.5L1134.5 820.8L1135.0 823.0L1135.5 825.3L1136.0 827.5L1136.5 829.6L1137.0 831.6L1137.5 833.4L1138.0 835.1L1138.5 836.6L1139.0 838.1L1139.5 839.6L1140.0 841.2L1140.5 843.0L1141.0 845.2L1141.5 847.8L1142.0 851.1L1142.5 854.9L1143.0 859.0L1143.5 863.2L1144.0 867.3L1144.5 871.0L1145.0 874.2L1145.5 877.3L1146.0 880.5L1146.5 883.8L1147.0 887.0L1147.5 889.7L1148.0 891.8L1148.5 893.0L1149.0 893.3L1149.5 893.6L1150.0 893.9L1150.5 894.2L1151.0 894.6L1151.5 895.0L1152.0 895.4L1152.5 895.7L1153.0 895.6L1153.5 894.5L1154.0 892.3L1154.5 889.6L1155.0 886.6L1155.5 883.6L1156.0 881.2L1156.5 879.5L1157.0 878.9L1157.5 879.3L1158.0 880.3L1158.5 881.7L1159.0 883.4L1159.5 885.2L1160.0 886.9L1160.5 888.6L1161.0 890.1L1161.5 891.8L1162.0 893.5L1162.5 895.3L1163.0 897.1L1163.5 898.9L1164.0 900.6L1164.5 902.3L1165.0 903.9L1165.5 905.5L1166.0 907.0L1166.5 908.6L1167.0 910.2L1167.5 911.9L1168.0 913.6L1168.5 915.1L1169.0 916.5L1169.5 917.6L1170.0 918.5L1170.5 919.3L1171.0 920.0L1171.5 920.7L1172.0 921.3L1172.5 921.9L1173.0 922.6L1173.5 923.1L1174.0 923.7L1174.5 924.3L1175.0 924.9L1175.5 925.5L1176.0 926.1L1176.5 926.7L1177.0 927.3L1177.5 927.7L1178.0 927.9L1178.5 927.9L1179.0 927.7L1179.5 927.4L1180.0 927.0L1180.5 926.7L1181.0 926.5L1181.5 926.4L1182.0 926.5L1182.5 926.8L1183.0 927.1L1183.5 927.5L1184.0 927.8L1184.5 928.0L1185.0 928.1L1185.5 928.1L1186.0 928.0L1186.5 927.2L1187.0 926.0L1187.5 924.4L1188.0 922.6L1188.5 920.7L1189.0 918.8L1189.5 917.2L1190.0 916.0L1190.5 915.4L1191.0 915.5L1191.5 915.8L1192.0 916.2L1192.5 916.7L1193.0 917.3L1193.5 917.6L1194.0 917.9L1194.5 917.9L1195.0 917.8L1195.5 917.6L1196.0 917.5L1196.5 917.5L1197.0 917.7L1197.5 918.0L1198.0 918.5L1198.5 919.0L1199.0 919.5L1199.5 920.0L1200.0 920.4L1200.5 920.7L1201.0 920.9L1201.5 920.6L1202.0 920.0L1202.5 919.1L1203.0 917.8L1203.5 916.3L1204.0 914.6L1204.5 912.8L1205.0 911.0L1205.5 909.6L1206.0 908.5L1206.5 907.6L1207.0 906.9L1207.5 906.5L1208.0 906.1L1208.5 905.7L1209.0 905.3L1209.5 904.8L1210.0 904.1L1210.5 903.4L1211.0 902.7L1211.5 902.0L1212.0 901.4L1212.5 900.8L1213.0 900.3L1213.5 899.7L1214.0 899.0L1214.5 898.4L1215.0 897.7L1215.5 897.0L1216.0 896.3L1216.5 895.2L1217.0 893.7L1217.5 891.8L1218.0 889.6L1218.5 887.1L1219.0 884.4L1219.5 881.4L1220.0 878.5L1220.5 875.8L1221.0 873.4L1221.5 871.1L1222.0 869.0L1222.5 867.1L1223.0 865.3L1223.5 863.7L1224.0 862.2L1224.5 860.7L1225.0 859.4L1225.5 858.3L1226.0 857.3L1226.5 856.4L1227.0 855.5L1227.5 854.6L1228.0 853.7L1228.5 852.7L1229.0 851.6L1229.5 850.4L1230.0 849.3L1230.5 848.3L1231.0 847.5L1231.5 846.8L1232.0 846.4L1232.5 846.0L1233.0 845.6L1233.5 845.1L1234.0 844.4L1234.5 843.4L1235.0 842.1L1235.5 840.5L1236.0 838.6L1236.5 836.5L1237.0 834.5L1237.5 832.6L1238.0 830.7L1238.5 829.1L1239.0 827.8L1239.5 826.8L1240.0 826.0L1240.5 825.3L1241.0 824.9L1241.5 824.6L1242.0 824.5L1242.5 824.6L1243.0 824.8L1243.5 825.0L1244.0 825.2L1244.5 825.4L1245.0 825.6L1245.5 825.9L1246.0 826.3L1246.5 826.9L1247.0 827.7L1247.5 828.6L1248.0 829.5L1248.5 830.4L1249.0 831.0L1249.5 831.4L1250.0 831.2L1250.5 830.2L1251.0 828.6L1251.5 826.7L1252.0 824.6L1252.5 822.5L1253.0 820.5L1253.5 818.6L1254.0 816.5L1254.5 814.4L1255.0 812.3L1255.5 810.3L1256.0 808.5L1256.5 807.0L1257.0 805.6L1257.5 804.5L1258.0 803.4L1258.5 802.2L1259.0 801.1L1259.5 799.8L1260.0 798.4L1260.5 796.9L1261.0 795.3L1261.5 793.9L1262.0 792.5L1262.5 791.3L1263.0 790.1L1263.5 789.1L1264.0 788.2L1264.5 787.4L1265.0 786.7L1265.5 786.1L1266.0 785.7L1266.5 785.4L1267.0 785.1L1267.5 784.8L1268.0 784.3L1268.5 783.7L1269.0 782.9L1269.5 782.0L1270.0 781.0L1270.5 780.0L1271.0 779.2L1271.5 778.6L1272.0 778.3L1272.5 778.2L1273.0 778.2L1273.5 778.3L1274.0 778.3L1274.5 778.3L1275.0 778.2L1275.5 777.9L1276.0 777.6L1276.5 777.3L1277.0 777.0L1277.5 776.6L1278.0 776.2L1278.5 775.7L1279.0 775.2L1279.5 774.7L1280.0 774.3L1280.5 774.1L1281.0 774.1L1281.5 774.3L1282.0 774.7L1282.5 775.2L1283.0 775.7L1283.5 776.1L1284.0 776.3L1284.5 776.3L1285.0 776.1L1285.5 775.8L1286.0 775.5L1286.5 775.2L1287.0 775.1L1287.5 775.1L1288.0 775.2L1288.5 775.4L1289.0 775.6L1289.5 775.9L1290.0 776.2L1290.5 776.5L1291.0 776.9L1291.5 777.3L1292.0 777.7L1292.5 778.1L1293.0 778.2L1293.5 778.2L1294.0 778.1L1294.5 777.7L1295.0 777.4L1295.5 777.1L1296.0 776.9L1296.5 777.0L1297.0 777.2L1297.5 777.7L1298.0 778.3L1298.5 778.9L1299.0 779.4L1299.5 779.8L1300.0 780.0L1300.5 780.2L1301.0 780.3L1301.5 780.3L1302.0 780.3L1302.5 780.4L1303.0 780.4L1303.5 780.4L1304.0 780.5L1304.5 780.6L1305.0 780.7L1305.5 781.1L1306.0 781.6L1306.5 782.3L1307.0 783.1L1307.5 784.0L1308.0 784.8L1308.5 785.5L1309.0 786.0L1309.5 786.2L1310.0 786.3L1310.5 786.3L1311.0 786.3L1311.5 786.4L1312.0 786.7L1312.5 787.1L1313.0 787.8L1313.5 788.6L1314.0 789.5L1314.5 790.4L1315.0 791.4L1315.5 792.3L1316.0 793.2L1316.5 794.1L1317.0 794.9L1317.5 795.6L1318.0 796.1L1318.5 796.3L1319.0 796.3L1319.5 796.1L1320.0 795.7L1320.5 795.5L1321.0 795.4L1321.5 795.5L1322.0 795.8L1322.5 796.2L1323.0 796.7L1323.5 797.2L1324.0 797.6L1324.5 797.8L1325.0 797.8L1325.5 797.7L1326.0 797.6L1326.5 797.4L1327.0 797.3L1327.5 797.2L1328.0 797.2L1328.5 797.9L1329.0 799.7L1329.5 802.4L1330.0 805.6L1330.5 808.8L1331.0 811.8L1331.5 814.1L1332.0 815.3L1332.5 813.0L1333.0 807.3L1333.5 801.4L1334.0 798.6L1334.5 803.5L1335.0 813.6L1335.5 821.4L1336.0 821.8L1336.5 821.1L1337.0 820.1L1337.5 819.3L1338.0 818.5L1338.5 817.9L1339.0 817.6L1339.5 817.6L1340.0 817.8L1340.5 818.1L1341.0 818.4L1341.5 818.8L1342.0 819.1L1342.5 819.4L1343.0 819.7L1343.5 819.8L1344.0 819.9L1344.5 819.9L1345.0 820.0L1345.5 820.1L1346.0 820.5L1346.5 821.1L1347.0 821.8L1347.5 822.7L1348.0 823.8L1348.5 824.8L1349.0 825.7L1349.5 826.4L1350.0 826.9L1350.5 827.3L1351.0 827.6L1351.5 827.8L1352.0 828.0L1352.5 828.1L1353.0 828.1L1353.5 828.2L1354.0 828.3L1354.5 828.4L1355.0 828.5L1355.5 828.8L1356.0 829.2L1356.5 829.6L1357.0 830.1L1357.5 830.5L1358.0 830.8L1358.5 830.9L1359.0 830.8L1359.5 830.4L1360.0 830.0L1360.5 829.5L1361.0 829.2L1361.5 828.9L1362.0 828.9L1362.5 829.1L1363.0 829.4L1363.5 829.7L1364.0 830.0L1364.5 830.2L1365.0 830.3L1365.5 830.3L1366.0 830.2L1366.5 830.1L1367.0 830.0L1367.5 829.8L1368.0 829.5L1368.5 829.1L1369.0 828.6L1369.5 828.1L1370.0 827.6L1370.5 827.3L1371.0 827.1L1371.5 827.1L1372.0 827.2L1372.5 827.4L1373.0 827.6L1373.5 827.6L1374.0 827.4L1374.5 827.0L1375.0 826.4L1375.5 825.6L1376.0 824.8L1376.5 824.0L1377.0 823.2L1377.5 822.4L1378.0 821.4L1378.5 820.4L1379.0 819.3L1379.5 818.2L1380.0 817.2L1380.5 816.4L1381.0 815.8L1381.5 815.6L1382.0 815.7L1382.5 815.9L1383.0 816.1L1383.5 816.1L1384.0 815.9L1384.5 815.5L1385.0 815.1L1385.5 814.8L1386.0 814.5L1386.5 814.5L1387.0 814.7L1387.5 815.1L1388.0 815.6L1388.5 816.1L1389.0 816.5L1389.5 816.8L1390.0 817.0L1390.5 817.1L1391.0 817.1L1391.5 817.0L1392.0 817.0L1392.5 816.8L1393.0 816.7L1393.5 816.5L1394.0 816.3L1394.5 816.0L1395.0 815.9L1395.5 815.9L1396.0 816.0L1396.5 816.4L1397.0 816.9" fill="none" stroke="#000000" stroke-width="4.6" stroke-linejoin="round" stroke-linecap="butt"/>
</g>
<path d="M182.9 989.0 V980.0M276.3 989.0 V970.4M369.7 989.0 V980.0M463.1 989.0 V970.4M556.5 989.0 V980.0M649.9 989.0 V970.4M743.2 989.0 V980.0M836.6 989.0 V970.4M930.0 989.0 V980.0M1023.4 989.0 V970.4M1116.8 989.0 V980.0M1210.2 989.0 V970.4M1303.6 989.0 V980.0" stroke="#000" stroke-width="2.7" fill="none"/>
<rect x="89.5" y="25.0" width="1307.5" height="964.0" fill="none" stroke="#000" stroke-width="3"/>
<path d="M488.7 177.5L479.5 197.5M510.0 175.5L533.7 190.0M974.5 139.5L952.0 153.7M1005.7 126.2L1010.7 153.0M1073.0 120.0L1092.0 133.7M1186.5 150.0L1189.5 167.5M1257.7 126.2L1254.0 149.5M1347.0 153.0L1337.7 177.5M485.0 342.5L457.5 375.0M516.2 332.5L543.7 375.0M975.7 269.5L948.0 290.5M1008.0 243.7L1020.0 280.0M1182.0 275.0L1177.7 318.7M1254.0 237.5L1235.7 256.2M1288.2 243.0L1294.0 293.7M484.5 495.0L462.0 513.7M515.5 492.5L525.0 501.2M962.0 474.5L955.7 485.0M1003.0 455.0L1010.7 496.2M1072.7 469.5L1090.7 485.0M947.0 612.5L939.5 627.0M977.0 622.0L998.2 640.0M487.0 849.5L472.5 863.0M515.5 850.5L525.5 862.5M965.7 829.5L947.0 840.5M989.5 832.0L994.0 844.5M1051.2 842.0L1047.5 875.0M1070.7 847.5L1092.0 865.5M1147.0 900.0L1137.0 915.0M1187.0 931.2L1202.5 937.5" stroke="#000" stroke-width="4.6" fill="none"/>
<text x="89.0" y="1041.0" font-size="40" fill="#000" stroke="#000" text-anchor="middle">4000</text>
<text x="275.8" y="1041.0" font-size="40" fill="#000" stroke="#000" text-anchor="middle">3500</text>
<text x="462.6" y="1041.0" font-size="40" fill="#000" stroke="#000" text-anchor="middle">3000</text>
<text x="649.4" y="1041.0" font-size="40" fill="#000" stroke="#000" text-anchor="middle">2500</text>
<text x="836.1" y="1041.0" font-size="40" fill="#000" stroke="#000" text-anchor="middle">2000</text>
<text x="1022.9" y="1041.0" font-size="40" fill="#000" stroke="#000" text-anchor="middle">1500</text>
<text x="1209.7" y="1041.0" font-size="40" fill="#000" stroke="#000" text-anchor="middle">1000</text>
<text x="1396.5" y="1041.0" font-size="40" fill="#000" stroke="#000" text-anchor="middle">500</text>
<text x="420.0" y="232.5" font-size="36.2" fill="#000" stroke="#000">2932</text>
<text x="515.0" y="218.7" font-size="36.2" fill="#000" stroke="#000">2860</text>
<text x="881.5" y="177.5" font-size="36.2" fill="#000" stroke="#000">1629</text>
<text x="972.7" y="181.7" font-size="36.2" fill="#000" stroke="#000">1557</text>
<text x="1052.7" y="163.7" font-size="36.2" fill="#000" stroke="#000">1380</text>
<text x="1145.0" y="190.5" font-size="36.2" fill="#000" stroke="#000">1070</text>
<text x="1219.7" y="177.0" font-size="36.2" fill="#000" stroke="#000">888</text>
<text x="1261.2" y="142.5" font-size="36.2" fill="#000" stroke="#000">795</text>
<text x="1307.0" y="202.5" font-size="36.2" fill="#000" stroke="#000">614</text>
<text x="408.5" y="403.7" font-size="36.2" fill="#000" stroke="#000">2916</text>
<text x="517.0" y="401.2" font-size="36.2" fill="#000" stroke="#000">2862</text>
<text x="886.5" y="323.7" font-size="36.2" fill="#000" stroke="#000">1631</text>
<text x="976.0" y="303.0" font-size="36.2" fill="#000" stroke="#000">1581</text>
<text x="1029.0" y="266.2" font-size="36.2" fill="#000" stroke="#000">1380</text>
<text x="1134.0" y="343.7" font-size="36.2" fill="#000" stroke="#000">1074</text>
<text x="1205.5" y="282.5" font-size="36.2" fill="#000" stroke="#000">880</text>
<text x="1255.9" y="323.0" font-size="36.2" fill="#000" stroke="#000">787</text>
<text x="1322.0" y="317.0" font-size="36.2" fill="#000" stroke="#000">571</text>
<text x="259.5" y="580.5" font-size="36.2" fill="#000" stroke="#000">3429</text>
<text x="420.5" y="541.2" font-size="36.2" fill="#000" stroke="#000">2931</text>
<text x="521.5" y="521.2" font-size="36.2" fill="#000" stroke="#000">2871</text>
<text x="883.0" y="507.5" font-size="36.2" fill="#000" stroke="#000">1654</text>
<text x="969.0" y="526.2" font-size="36.2" fill="#000" stroke="#000">1575</text>
<text x="1055.0" y="508.7" font-size="36.2" fill="#000" stroke="#000">1380</text>
<text x="1146.5" y="557.0" font-size="36.2" fill="#000" stroke="#000">1054</text>
<text x="275.7" y="711.7" font-size="36.2" fill="#000" stroke="#000">3427</text>
<text x="896.5" y="661.2" font-size="36.2" fill="#000" stroke="#000">1732</text>
<text x="979.0" y="665.0" font-size="36.2" fill="#000" stroke="#000">1635</text>
<text x="1163.5" y="646.2" font-size="36.2" fill="#000" stroke="#000">1054</text>
<text x="265.0" y="958.7" font-size="36.2" fill="#000" stroke="#000">3436</text>
<text x="411.5" y="895.0" font-size="36.2" fill="#000" stroke="#000">2920</text>
<text x="507.0" y="893.7" font-size="36.2" fill="#000" stroke="#000">2875</text>
<text x="883.0" y="870.5" font-size="36.2" fill="#000" stroke="#000">1655</text>
<text x="956.5" y="872.0" font-size="36.2" fill="#000" stroke="#000">1598</text>
<text x="1003.5" y="913.7" font-size="36.2" fill="#000" stroke="#000">1421</text>
<text x="1066.5" y="894.5" font-size="36.2" fill="#000" stroke="#000">1380</text>
<text x="1081.5" y="948.0" font-size="36.2" fill="#000" stroke="#000">1157</text>
<text x="1163.5" y="963.7" font-size="36.2" fill="#000" stroke="#000">1067</text>
<text x="103.0" y="140.5" font-size="49.6" fill="#ff00ff" stroke="#ff00ff"><tspan font-style="italic">α</tspan>-FeO(OH)/GOCS-Cr</text>
<text x="111.5" y="320.0" font-size="49.6" fill="#00ff00" stroke="#00ff00"><tspan font-style="italic">α</tspan>-FeO(OH)/GOCS</text>
<text x="110.0" y="446.0" font-size="49.6" fill="#0000ff" stroke="#0000ff">GOCS</text>
<text x="115.0" y="607.5" font-size="49.6" fill="#ff0000" stroke="#ff0000">GO</text>
<text x="117.5" y="727.0" font-size="49.6" fill="#000" stroke="#000">CS</text>
<text x="523.0" y="1101.5" font-size="50" fill="#000" stroke="#000">Wave velocity (cm<tspan font-size="33" dy="-20"><tspan font-weight="normal" stroke-width="0.6">−</tspan>1</tspan><tspan dy="20" dx="0">)</tspan></text>
<text transform="translate(60,710) rotate(-90)" font-size="50" fill="#000" stroke="#000">Transmittance (%)</text>
</svg></body></html>
